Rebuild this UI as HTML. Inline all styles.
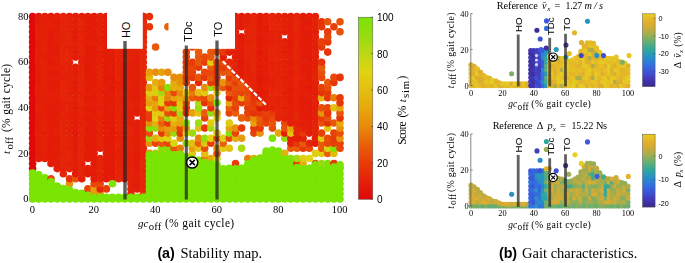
<!DOCTYPE html>
<html><head><meta charset="utf-8"><title>fig</title>
<style>
html,body{margin:0;padding:0;background:#fff;}
body{width:685px;height:263px;overflow:hidden;}
svg{display:block;}
text{font-family:"Liberation Serif",serif;fill:#000;}
.ss{font-family:"Liberation Sans",sans-serif;}
</style></head><body>
<svg width="685" height="263" viewBox="0 0 685 263">
<rect width="685" height="263" fill="#fff"/>
<g opacity="0.999">

<g id="left-dots">
<circle cx="32.6" cy="199.0" r="3.8" fill="#7ae402"/>
<circle cx="32.6" cy="193.9" r="3.8" fill="#7ae402"/>
<circle cx="32.6" cy="188.9" r="3.8" fill="#7ae402"/>
<circle cx="32.6" cy="183.8" r="3.8" fill="#7ae402"/>
<circle cx="32.6" cy="178.7" r="3.8" fill="#7ae402"/>
<circle cx="32.6" cy="173.7" r="3.8" fill="#7ae402"/>
<circle cx="32.6" cy="168.6" r="3.8" fill="#e00a08"/>
<circle cx="32.6" cy="163.5" r="3.8" fill="#e00a08"/>
<circle cx="32.6" cy="158.5" r="3.8" fill="#e00a08"/>
<circle cx="32.6" cy="153.4" r="3.8" fill="#e00a08"/>
<circle cx="32.6" cy="148.3" r="3.8" fill="#e00a08"/>
<circle cx="32.6" cy="143.3" r="3.8" fill="#e00a08"/>
<circle cx="32.6" cy="138.2" r="3.8" fill="#e00a08"/>
<circle cx="32.6" cy="133.1" r="3.8" fill="#e00a08"/>
<circle cx="32.6" cy="128.1" r="3.8" fill="#e00a08"/>
<circle cx="32.6" cy="123.0" r="3.8" fill="#e00a08"/>
<circle cx="32.6" cy="117.9" r="3.8" fill="#e00a08"/>
<circle cx="32.6" cy="112.9" r="3.8" fill="#e00a08"/>
<circle cx="32.6" cy="107.8" r="3.8" fill="#e00a08"/>
<circle cx="32.6" cy="102.7" r="3.8" fill="#e00a08"/>
<circle cx="32.6" cy="97.7" r="3.8" fill="#e00a08"/>
<circle cx="32.6" cy="92.6" r="3.8" fill="#e00a08"/>
<circle cx="32.6" cy="87.5" r="3.8" fill="#e00a08"/>
<circle cx="32.6" cy="82.5" r="3.8" fill="#e00a08"/>
<circle cx="32.6" cy="77.4" r="3.8" fill="#e00a08"/>
<circle cx="32.6" cy="72.3" r="3.8" fill="#e00a08"/>
<circle cx="32.6" cy="67.3" r="3.8" fill="#e00a08"/>
<circle cx="32.6" cy="62.2" r="3.8" fill="#e00a08"/>
<circle cx="32.6" cy="57.1" r="3.8" fill="#e00a08"/>
<circle cx="32.6" cy="52.1" r="3.8" fill="#e00a08"/>
<circle cx="32.6" cy="47.0" r="3.8" fill="#e00a08"/>
<circle cx="32.6" cy="41.9" r="3.8" fill="#e00a08"/>
<circle cx="32.6" cy="36.9" r="3.8" fill="#e00a08"/>
<circle cx="32.6" cy="31.8" r="3.8" fill="#e00a08"/>
<circle cx="32.6" cy="26.7" r="3.8" fill="#e00a08"/>
<circle cx="32.6" cy="21.7" r="3.8" fill="#e00a08"/>
<circle cx="32.6" cy="16.6" r="3.8" fill="#e00a08"/>
<circle cx="32.6" cy="173.0" r="3.8" fill="#7ae402"/>
<circle cx="32.6" cy="175.5" r="3.8" fill="#7ae402"/>
<circle cx="38.7" cy="199.0" r="3.8" fill="#7ae402"/>
<circle cx="38.7" cy="193.9" r="3.8" fill="#7ae402"/>
<circle cx="38.7" cy="188.9" r="3.8" fill="#7ae402"/>
<circle cx="38.7" cy="183.8" r="3.8" fill="#7ae402"/>
<circle cx="38.7" cy="178.7" r="3.8" fill="#7ae402"/>
<circle cx="38.7" cy="158.5" r="3.8" fill="#e41f08"/>
<circle cx="38.7" cy="153.4" r="3.8" fill="#e31c08"/>
<circle cx="38.7" cy="148.3" r="3.8" fill="#e31d08"/>
<circle cx="38.7" cy="143.3" r="3.8" fill="#e41f08"/>
<circle cx="38.7" cy="138.2" r="3.8" fill="#e31c08"/>
<circle cx="38.7" cy="133.1" r="3.8" fill="#e41e08"/>
<circle cx="38.7" cy="128.1" r="3.8" fill="#e31d08"/>
<circle cx="38.7" cy="123.0" r="3.8" fill="#e41e08"/>
<circle cx="38.7" cy="117.9" r="3.8" fill="#e41d08"/>
<circle cx="38.7" cy="112.9" r="3.8" fill="#e41e08"/>
<circle cx="38.7" cy="107.8" r="3.8" fill="#e42008"/>
<circle cx="38.7" cy="102.7" r="3.8" fill="#e41f08"/>
<circle cx="38.7" cy="97.7" r="3.8" fill="#e31d08"/>
<circle cx="38.7" cy="92.6" r="3.8" fill="#e41d08"/>
<circle cx="38.7" cy="87.5" r="3.8" fill="#e42008"/>
<circle cx="38.7" cy="82.5" r="3.8" fill="#e31d08"/>
<circle cx="38.7" cy="77.4" r="3.8" fill="#e31c08"/>
<circle cx="38.7" cy="72.3" r="3.8" fill="#e31c08"/>
<circle cx="38.7" cy="67.3" r="3.8" fill="#e41f08"/>
<circle cx="38.7" cy="62.2" r="3.8" fill="#e42008"/>
<circle cx="38.7" cy="57.1" r="3.8" fill="#e41e08"/>
<circle cx="38.7" cy="52.1" r="3.8" fill="#e41f08"/>
<circle cx="38.7" cy="47.0" r="3.8" fill="#e42008"/>
<circle cx="38.7" cy="41.9" r="3.8" fill="#e31d08"/>
<circle cx="38.7" cy="36.9" r="3.8" fill="#e42008"/>
<circle cx="38.7" cy="31.8" r="3.8" fill="#e41f08"/>
<circle cx="38.7" cy="26.7" r="3.8" fill="#e41f08"/>
<circle cx="38.7" cy="21.7" r="3.8" fill="#e31c08"/>
<circle cx="38.7" cy="16.6" r="3.8" fill="#e31c08"/>
<circle cx="38.7" cy="174.6" r="3.8" fill="#7ae402"/>
<circle cx="38.7" cy="177.1" r="3.8" fill="#7ae402"/>
<circle cx="44.9" cy="199.0" r="3.8" fill="#7ae402"/>
<circle cx="44.9" cy="193.9" r="3.8" fill="#7ae402"/>
<circle cx="44.9" cy="188.9" r="3.8" fill="#7ae402"/>
<circle cx="44.9" cy="183.8" r="3.8" fill="#7ae402"/>
<circle cx="44.9" cy="178.7" r="3.8" fill="#7ae402"/>
<circle cx="44.9" cy="158.5" r="3.8" fill="#e42008"/>
<circle cx="44.9" cy="153.4" r="3.8" fill="#e41e08"/>
<circle cx="44.9" cy="148.3" r="3.8" fill="#e42208"/>
<circle cx="44.9" cy="143.3" r="3.8" fill="#e42208"/>
<circle cx="44.9" cy="138.2" r="3.8" fill="#e42108"/>
<circle cx="44.9" cy="133.1" r="3.8" fill="#e41f08"/>
<circle cx="44.9" cy="128.1" r="3.8" fill="#e42208"/>
<circle cx="44.9" cy="123.0" r="3.8" fill="#e42208"/>
<circle cx="44.9" cy="117.9" r="3.8" fill="#e42008"/>
<circle cx="44.9" cy="112.9" r="3.8" fill="#e41e08"/>
<circle cx="44.9" cy="107.8" r="3.8" fill="#e41f08"/>
<circle cx="44.9" cy="102.7" r="3.8" fill="#e41e08"/>
<circle cx="44.9" cy="97.7" r="3.8" fill="#e41f08"/>
<circle cx="44.9" cy="92.6" r="3.8" fill="#e41f08"/>
<circle cx="44.9" cy="87.5" r="3.8" fill="#e42108"/>
<circle cx="44.9" cy="82.5" r="3.8" fill="#e42008"/>
<circle cx="44.9" cy="77.4" r="3.8" fill="#e42108"/>
<circle cx="44.9" cy="72.3" r="3.8" fill="#e42208"/>
<circle cx="44.9" cy="67.3" r="3.8" fill="#e42208"/>
<circle cx="44.9" cy="62.2" r="3.8" fill="#e42208"/>
<circle cx="44.9" cy="57.1" r="3.8" fill="#e41f08"/>
<circle cx="44.9" cy="52.1" r="3.8" fill="#e42208"/>
<circle cx="44.9" cy="47.0" r="3.8" fill="#e42308"/>
<circle cx="44.9" cy="41.9" r="3.8" fill="#e42208"/>
<circle cx="44.9" cy="36.9" r="3.8" fill="#e42208"/>
<circle cx="44.9" cy="31.8" r="3.8" fill="#e42008"/>
<circle cx="44.9" cy="26.7" r="3.8" fill="#e42108"/>
<circle cx="44.9" cy="21.7" r="3.8" fill="#e42108"/>
<circle cx="44.9" cy="16.6" r="3.8" fill="#e41e08"/>
<circle cx="44.9" cy="177.8" r="3.8" fill="#7ae402"/>
<circle cx="44.9" cy="180.3" r="3.8" fill="#7ae402"/>
<circle cx="51.0" cy="199.0" r="3.8" fill="#7ae402"/>
<circle cx="51.0" cy="193.9" r="3.8" fill="#7ae402"/>
<circle cx="51.0" cy="188.9" r="3.8" fill="#7ae402"/>
<circle cx="51.0" cy="183.8" r="3.8" fill="#7ae402"/>
<circle cx="51.0" cy="178.7" r="3.8" fill="#e84c09"/>
<circle cx="51.0" cy="163.5" r="3.8" fill="#e31b08"/>
<circle cx="51.0" cy="158.5" r="3.8" fill="#e41d08"/>
<circle cx="51.0" cy="153.4" r="3.8" fill="#e31c08"/>
<circle cx="51.0" cy="148.3" r="3.8" fill="#e31b08"/>
<circle cx="51.0" cy="143.3" r="3.8" fill="#e31c08"/>
<circle cx="51.0" cy="138.2" r="3.8" fill="#e41e08"/>
<circle cx="51.0" cy="133.1" r="3.8" fill="#e31b08"/>
<circle cx="51.0" cy="128.1" r="3.8" fill="#e41d08"/>
<circle cx="51.0" cy="123.0" r="3.8" fill="#e31d08"/>
<circle cx="51.0" cy="117.9" r="3.8" fill="#e31b08"/>
<circle cx="51.0" cy="112.9" r="3.8" fill="#e31c08"/>
<circle cx="51.0" cy="107.8" r="3.8" fill="#e31d08"/>
<circle cx="51.0" cy="102.7" r="3.8" fill="#e41d08"/>
<circle cx="51.0" cy="97.7" r="3.8" fill="#e41e08"/>
<circle cx="51.0" cy="92.6" r="3.8" fill="#e41e08"/>
<circle cx="51.0" cy="87.5" r="3.8" fill="#e31d08"/>
<circle cx="51.0" cy="82.5" r="3.8" fill="#e31c08"/>
<circle cx="51.0" cy="77.4" r="3.8" fill="#e41d08"/>
<circle cx="51.0" cy="72.3" r="3.8" fill="#e31b08"/>
<circle cx="51.0" cy="67.3" r="3.8" fill="#e41f08"/>
<circle cx="51.0" cy="62.2" r="3.8" fill="#e31b08"/>
<circle cx="51.0" cy="57.1" r="3.8" fill="#e31d08"/>
<circle cx="51.0" cy="52.1" r="3.8" fill="#e31b08"/>
<circle cx="51.0" cy="47.0" r="3.8" fill="#e31c08"/>
<circle cx="51.0" cy="41.9" r="3.8" fill="#e31c08"/>
<circle cx="51.0" cy="36.9" r="3.8" fill="#e31b08"/>
<circle cx="51.0" cy="31.8" r="3.8" fill="#e31b08"/>
<circle cx="51.0" cy="26.7" r="3.8" fill="#e41f08"/>
<circle cx="51.0" cy="21.7" r="3.8" fill="#e41f08"/>
<circle cx="51.0" cy="16.6" r="3.8" fill="#e31d08"/>
<circle cx="51.0" cy="181.9" r="3.8" fill="#7ae402"/>
<circle cx="51.0" cy="184.4" r="3.8" fill="#7ae402"/>
<circle cx="57.2" cy="199.0" r="3.8" fill="#7ae402"/>
<circle cx="57.2" cy="193.9" r="3.8" fill="#7ae402"/>
<circle cx="57.2" cy="188.9" r="3.8" fill="#7ae402"/>
<circle cx="57.2" cy="168.6" r="3.8" fill="#e42008"/>
<circle cx="57.2" cy="163.5" r="3.8" fill="#e31c08"/>
<circle cx="57.2" cy="158.5" r="3.8" fill="#e41d08"/>
<circle cx="57.2" cy="153.4" r="3.8" fill="#e31c08"/>
<circle cx="57.2" cy="148.3" r="3.8" fill="#e31d08"/>
<circle cx="57.2" cy="143.3" r="3.8" fill="#e41f08"/>
<circle cx="57.2" cy="138.2" r="3.8" fill="#e31c08"/>
<circle cx="57.2" cy="133.1" r="3.8" fill="#e41f08"/>
<circle cx="57.2" cy="128.1" r="3.8" fill="#e41e08"/>
<circle cx="57.2" cy="123.0" r="3.8" fill="#e31c08"/>
<circle cx="57.2" cy="117.9" r="3.8" fill="#e41f08"/>
<circle cx="57.2" cy="112.9" r="3.8" fill="#e31c08"/>
<circle cx="57.2" cy="107.8" r="3.8" fill="#e41d08"/>
<circle cx="57.2" cy="102.7" r="3.8" fill="#e31c08"/>
<circle cx="57.2" cy="97.7" r="3.8" fill="#e31d08"/>
<circle cx="57.2" cy="92.6" r="3.8" fill="#e41f08"/>
<circle cx="57.2" cy="87.5" r="3.8" fill="#e41d08"/>
<circle cx="57.2" cy="82.5" r="3.8" fill="#e31b08"/>
<circle cx="57.2" cy="77.4" r="3.8" fill="#e41e08"/>
<circle cx="57.2" cy="72.3" r="3.8" fill="#e31c08"/>
<circle cx="57.2" cy="67.3" r="3.8" fill="#e41f08"/>
<circle cx="57.2" cy="62.2" r="3.8" fill="#e31d08"/>
<circle cx="57.2" cy="57.1" r="3.8" fill="#e41e08"/>
<circle cx="57.2" cy="52.1" r="3.8" fill="#e31c08"/>
<circle cx="57.2" cy="47.0" r="3.8" fill="#e31c08"/>
<circle cx="57.2" cy="41.9" r="3.8" fill="#e41f08"/>
<circle cx="57.2" cy="36.9" r="3.8" fill="#e41f08"/>
<circle cx="57.2" cy="31.8" r="3.8" fill="#e31d08"/>
<circle cx="57.2" cy="26.7" r="3.8" fill="#e31d08"/>
<circle cx="57.2" cy="21.7" r="3.8" fill="#e31c08"/>
<circle cx="57.2" cy="16.6" r="3.8" fill="#e41e08"/>
<circle cx="57.2" cy="186.0" r="3.8" fill="#7ae402"/>
<circle cx="57.2" cy="188.5" r="3.8" fill="#7ae402"/>
<circle cx="63.3" cy="199.0" r="3.8" fill="#7ae402"/>
<circle cx="63.3" cy="193.9" r="3.8" fill="#7ae402"/>
<circle cx="63.3" cy="188.9" r="3.8" fill="#7ae402"/>
<circle cx="63.3" cy="173.7" r="3.8" fill="#e52608"/>
<circle cx="63.3" cy="168.6" r="3.8" fill="#e42208"/>
<circle cx="63.3" cy="163.5" r="3.8" fill="#e52508"/>
<circle cx="63.3" cy="158.5" r="3.8" fill="#e52508"/>
<circle cx="63.3" cy="153.4" r="3.8" fill="#e42208"/>
<circle cx="63.3" cy="148.3" r="3.8" fill="#e52408"/>
<circle cx="63.3" cy="143.3" r="3.8" fill="#e52408"/>
<circle cx="63.3" cy="138.2" r="3.8" fill="#e52508"/>
<circle cx="63.3" cy="133.1" r="3.8" fill="#e42308"/>
<circle cx="63.3" cy="128.1" r="3.8" fill="#e52408"/>
<circle cx="63.3" cy="123.0" r="3.8" fill="#e42308"/>
<circle cx="63.3" cy="117.9" r="3.8" fill="#e42108"/>
<circle cx="63.3" cy="112.9" r="3.8" fill="#e52508"/>
<circle cx="63.3" cy="107.8" r="3.8" fill="#e42108"/>
<circle cx="63.3" cy="102.7" r="3.8" fill="#e42108"/>
<circle cx="63.3" cy="97.7" r="3.8" fill="#e42308"/>
<circle cx="63.3" cy="92.6" r="3.8" fill="#e52408"/>
<circle cx="63.3" cy="87.5" r="3.8" fill="#e52408"/>
<circle cx="63.3" cy="82.5" r="3.8" fill="#e52408"/>
<circle cx="63.3" cy="77.4" r="3.8" fill="#e42108"/>
<circle cx="63.3" cy="72.3" r="3.8" fill="#e42208"/>
<circle cx="63.3" cy="67.3" r="3.8" fill="#e42108"/>
<circle cx="63.3" cy="62.2" r="3.8" fill="#e42308"/>
<circle cx="63.3" cy="57.1" r="3.8" fill="#e52408"/>
<circle cx="63.3" cy="52.1" r="3.8" fill="#e42308"/>
<circle cx="63.3" cy="47.0" r="3.8" fill="#e52408"/>
<circle cx="63.3" cy="41.9" r="3.8" fill="#e42308"/>
<circle cx="63.3" cy="36.9" r="3.8" fill="#e42108"/>
<circle cx="63.3" cy="31.8" r="3.8" fill="#e42208"/>
<circle cx="63.3" cy="26.7" r="3.8" fill="#e52508"/>
<circle cx="63.3" cy="21.7" r="3.8" fill="#e42308"/>
<circle cx="63.3" cy="16.6" r="3.8" fill="#e52408"/>
<circle cx="63.3" cy="188.5" r="3.8" fill="#7ae402"/>
<circle cx="63.3" cy="191.0" r="3.8" fill="#7ae402"/>
<circle cx="69.5" cy="199.0" r="3.8" fill="#7ae402"/>
<circle cx="69.5" cy="193.9" r="3.8" fill="#7ae402"/>
<circle cx="69.5" cy="183.8" r="3.8" fill="#e7950b"/>
<circle cx="69.5" cy="178.7" r="3.8" fill="#e73408"/>
<circle cx="69.5" cy="168.6" r="3.8" fill="#e52408"/>
<circle cx="69.5" cy="163.5" r="3.8" fill="#e42008"/>
<circle cx="69.5" cy="158.5" r="3.8" fill="#e52408"/>
<circle cx="69.5" cy="153.4" r="3.8" fill="#e52408"/>
<circle cx="69.5" cy="148.3" r="3.8" fill="#e42108"/>
<circle cx="69.5" cy="143.3" r="3.8" fill="#e42308"/>
<circle cx="69.5" cy="138.2" r="3.8" fill="#e42108"/>
<circle cx="69.5" cy="133.1" r="3.8" fill="#e42308"/>
<circle cx="69.5" cy="128.1" r="3.8" fill="#e42108"/>
<circle cx="69.5" cy="123.0" r="3.8" fill="#e42308"/>
<circle cx="69.5" cy="117.9" r="3.8" fill="#e42108"/>
<circle cx="69.5" cy="112.9" r="3.8" fill="#e42108"/>
<circle cx="69.5" cy="107.8" r="3.8" fill="#e42208"/>
<circle cx="69.5" cy="102.7" r="3.8" fill="#e42008"/>
<circle cx="69.5" cy="97.7" r="3.8" fill="#e42308"/>
<circle cx="69.5" cy="92.6" r="3.8" fill="#e42108"/>
<circle cx="69.5" cy="87.5" r="3.8" fill="#e42108"/>
<circle cx="69.5" cy="82.5" r="3.8" fill="#e42208"/>
<circle cx="69.5" cy="77.4" r="3.8" fill="#e42108"/>
<circle cx="69.5" cy="72.3" r="3.8" fill="#e42208"/>
<circle cx="69.5" cy="67.3" r="3.8" fill="#e42108"/>
<circle cx="69.5" cy="62.2" r="3.8" fill="#e42208"/>
<circle cx="69.5" cy="57.1" r="3.8" fill="#e52408"/>
<circle cx="69.5" cy="52.1" r="3.8" fill="#e52408"/>
<circle cx="69.5" cy="47.0" r="3.8" fill="#e42008"/>
<circle cx="69.5" cy="41.9" r="3.8" fill="#e52408"/>
<circle cx="69.5" cy="36.9" r="3.8" fill="#e52408"/>
<circle cx="69.5" cy="31.8" r="3.8" fill="#e42308"/>
<circle cx="69.5" cy="26.7" r="3.8" fill="#e42308"/>
<circle cx="69.5" cy="21.7" r="3.8" fill="#e42208"/>
<circle cx="69.5" cy="16.6" r="3.8" fill="#e41f08"/>
<circle cx="69.5" cy="189.9" r="3.8" fill="#7ae402"/>
<circle cx="69.5" cy="192.4" r="3.8" fill="#7ae402"/>
<circle cx="75.6" cy="199.0" r="3.8" fill="#7ae402"/>
<circle cx="75.6" cy="193.9" r="3.8" fill="#7ae402"/>
<circle cx="75.6" cy="178.7" r="3.8" fill="#e84f09"/>
<circle cx="75.6" cy="173.7" r="3.8" fill="#e41d08"/>
<circle cx="75.6" cy="168.6" r="3.8" fill="#e31d08"/>
<circle cx="75.6" cy="163.5" r="3.8" fill="#e41d08"/>
<circle cx="75.6" cy="158.5" r="3.8" fill="#e41d08"/>
<circle cx="75.6" cy="153.4" r="3.8" fill="#e41d08"/>
<circle cx="75.6" cy="148.3" r="3.8" fill="#e31b08"/>
<circle cx="75.6" cy="143.3" r="3.8" fill="#e31b08"/>
<circle cx="75.6" cy="138.2" r="3.8" fill="#e31b08"/>
<circle cx="75.6" cy="133.1" r="3.8" fill="#e31a08"/>
<circle cx="75.6" cy="128.1" r="3.8" fill="#e31b08"/>
<circle cx="75.6" cy="123.0" r="3.8" fill="#e31b08"/>
<circle cx="75.6" cy="117.9" r="3.8" fill="#e31b08"/>
<circle cx="75.6" cy="112.9" r="3.8" fill="#e31d08"/>
<circle cx="75.6" cy="107.8" r="3.8" fill="#e31c08"/>
<circle cx="75.6" cy="102.7" r="3.8" fill="#e31b08"/>
<circle cx="75.6" cy="97.7" r="3.8" fill="#e41f08"/>
<circle cx="75.6" cy="92.6" r="3.8" fill="#e41e08"/>
<circle cx="75.6" cy="87.5" r="3.8" fill="#e31b08"/>
<circle cx="75.6" cy="82.5" r="3.8" fill="#e31a08"/>
<circle cx="75.6" cy="77.4" r="3.8" fill="#e41f08"/>
<circle cx="75.6" cy="72.3" r="3.8" fill="#e31b08"/>
<circle cx="75.6" cy="67.3" r="3.8" fill="#e41f08"/>
<circle cx="75.6" cy="57.1" r="3.8" fill="#e31d08"/>
<circle cx="75.6" cy="52.1" r="3.8" fill="#e31c08"/>
<circle cx="75.6" cy="47.0" r="3.8" fill="#e41d08"/>
<circle cx="75.6" cy="41.9" r="3.8" fill="#e41e08"/>
<circle cx="75.6" cy="36.9" r="3.8" fill="#e31a08"/>
<circle cx="75.6" cy="31.8" r="3.8" fill="#e31c08"/>
<circle cx="75.6" cy="26.7" r="3.8" fill="#e41e08"/>
<circle cx="75.6" cy="21.7" r="3.8" fill="#e31d08"/>
<circle cx="75.6" cy="16.6" r="3.8" fill="#e41d08"/>
<circle cx="75.6" cy="192.6" r="3.8" fill="#7ae402"/>
<circle cx="75.6" cy="195.1" r="3.8" fill="#7ae402"/>
<circle cx="81.8" cy="199.0" r="3.8" fill="#7ae402"/>
<circle cx="81.8" cy="193.9" r="3.8" fill="#7ae402"/>
<circle cx="81.8" cy="178.7" r="3.8" fill="#e41e08"/>
<circle cx="81.8" cy="173.7" r="3.8" fill="#e52508"/>
<circle cx="81.8" cy="168.6" r="3.8" fill="#e52508"/>
<circle cx="81.8" cy="163.5" r="3.8" fill="#e42208"/>
<circle cx="81.8" cy="158.5" r="3.8" fill="#e52608"/>
<circle cx="81.8" cy="153.4" r="3.8" fill="#e52508"/>
<circle cx="81.8" cy="148.3" r="3.8" fill="#e52508"/>
<circle cx="81.8" cy="143.3" r="3.8" fill="#e52608"/>
<circle cx="81.8" cy="138.2" r="3.8" fill="#e52508"/>
<circle cx="81.8" cy="133.1" r="3.8" fill="#e42208"/>
<circle cx="81.8" cy="128.1" r="3.8" fill="#e52508"/>
<circle cx="81.8" cy="123.0" r="3.8" fill="#e42108"/>
<circle cx="81.8" cy="117.9" r="3.8" fill="#e42208"/>
<circle cx="81.8" cy="112.9" r="3.8" fill="#e42308"/>
<circle cx="81.8" cy="107.8" r="3.8" fill="#e42208"/>
<circle cx="81.8" cy="102.7" r="3.8" fill="#e52608"/>
<circle cx="81.8" cy="97.7" r="3.8" fill="#e52508"/>
<circle cx="81.8" cy="92.6" r="3.8" fill="#e42108"/>
<circle cx="81.8" cy="87.5" r="3.8" fill="#e52608"/>
<circle cx="81.8" cy="82.5" r="3.8" fill="#e42208"/>
<circle cx="81.8" cy="77.4" r="3.8" fill="#e52508"/>
<circle cx="81.8" cy="72.3" r="3.8" fill="#e52408"/>
<circle cx="81.8" cy="67.3" r="3.8" fill="#e52408"/>
<circle cx="81.8" cy="62.2" r="3.8" fill="#e42208"/>
<circle cx="81.8" cy="57.1" r="3.8" fill="#e42108"/>
<circle cx="81.8" cy="52.1" r="3.8" fill="#e52508"/>
<circle cx="81.8" cy="47.0" r="3.8" fill="#e52508"/>
<circle cx="81.8" cy="41.9" r="3.8" fill="#e42208"/>
<circle cx="81.8" cy="36.9" r="3.8" fill="#e52408"/>
<circle cx="81.8" cy="31.8" r="3.8" fill="#e42108"/>
<circle cx="81.8" cy="26.7" r="3.8" fill="#e52408"/>
<circle cx="81.8" cy="21.7" r="3.8" fill="#e52608"/>
<circle cx="81.8" cy="16.6" r="3.8" fill="#e42108"/>
<circle cx="81.8" cy="193.3" r="3.8" fill="#7ae402"/>
<circle cx="81.8" cy="195.8" r="3.8" fill="#7ae402"/>
<circle cx="87.9" cy="199.0" r="3.8" fill="#7ae402"/>
<circle cx="87.9" cy="188.9" r="3.8" fill="#e84509"/>
<circle cx="87.9" cy="173.7" r="3.8" fill="#e31b08"/>
<circle cx="87.9" cy="168.6" r="3.8" fill="#e41e08"/>
<circle cx="87.9" cy="158.5" r="3.8" fill="#e41e08"/>
<circle cx="87.9" cy="153.4" r="3.8" fill="#e31b08"/>
<circle cx="87.9" cy="148.3" r="3.8" fill="#e31d08"/>
<circle cx="87.9" cy="143.3" r="3.8" fill="#e31a08"/>
<circle cx="87.9" cy="138.2" r="3.8" fill="#e31c08"/>
<circle cx="87.9" cy="133.1" r="3.8" fill="#e31b08"/>
<circle cx="87.9" cy="128.1" r="3.8" fill="#e31a08"/>
<circle cx="87.9" cy="123.0" r="3.8" fill="#e41e08"/>
<circle cx="87.9" cy="117.9" r="3.8" fill="#e31a08"/>
<circle cx="87.9" cy="112.9" r="3.8" fill="#e41e08"/>
<circle cx="87.9" cy="107.8" r="3.8" fill="#e31b08"/>
<circle cx="87.9" cy="102.7" r="3.8" fill="#e41e08"/>
<circle cx="87.9" cy="97.7" r="3.8" fill="#e31a08"/>
<circle cx="87.9" cy="92.6" r="3.8" fill="#e41e08"/>
<circle cx="87.9" cy="87.5" r="3.8" fill="#e31c08"/>
<circle cx="87.9" cy="82.5" r="3.8" fill="#e31b08"/>
<circle cx="87.9" cy="77.4" r="3.8" fill="#e31c08"/>
<circle cx="87.9" cy="72.3" r="3.8" fill="#e31a08"/>
<circle cx="87.9" cy="67.3" r="3.8" fill="#e31a08"/>
<circle cx="87.9" cy="62.2" r="3.8" fill="#e31a08"/>
<circle cx="87.9" cy="57.1" r="3.8" fill="#e31b08"/>
<circle cx="87.9" cy="52.1" r="3.8" fill="#e41d08"/>
<circle cx="87.9" cy="47.0" r="3.8" fill="#e31c08"/>
<circle cx="87.9" cy="41.9" r="3.8" fill="#e41e08"/>
<circle cx="87.9" cy="36.9" r="3.8" fill="#e31b08"/>
<circle cx="87.9" cy="31.8" r="3.8" fill="#e41d08"/>
<circle cx="87.9" cy="26.7" r="3.8" fill="#e31c08"/>
<circle cx="87.9" cy="21.7" r="3.8" fill="#e41e08"/>
<circle cx="87.9" cy="16.6" r="3.8" fill="#e41d08"/>
<circle cx="87.9" cy="195.4" r="3.8" fill="#7ae402"/>
<circle cx="87.9" cy="197.9" r="3.8" fill="#7ae402"/>
<circle cx="94.1" cy="199.0" r="3.8" fill="#7ae402"/>
<circle cx="94.1" cy="193.9" r="3.8" fill="#e7950b"/>
<circle cx="94.1" cy="188.9" r="3.8" fill="#e79f0b"/>
<circle cx="94.1" cy="183.8" r="3.8" fill="#e84809"/>
<circle cx="94.1" cy="178.7" r="3.8" fill="#e31d08"/>
<circle cx="94.1" cy="173.7" r="3.8" fill="#e31c08"/>
<circle cx="94.1" cy="168.6" r="3.8" fill="#e41d08"/>
<circle cx="94.1" cy="163.5" r="3.8" fill="#e31c08"/>
<circle cx="94.1" cy="158.5" r="3.8" fill="#e31c08"/>
<circle cx="94.1" cy="153.4" r="3.8" fill="#e31c08"/>
<circle cx="94.1" cy="148.3" r="3.8" fill="#e31c08"/>
<circle cx="94.1" cy="143.3" r="3.8" fill="#e31c08"/>
<circle cx="94.1" cy="138.2" r="3.8" fill="#e41d08"/>
<circle cx="94.1" cy="133.1" r="3.8" fill="#e31b08"/>
<circle cx="94.1" cy="128.1" r="3.8" fill="#e31c08"/>
<circle cx="94.1" cy="123.0" r="3.8" fill="#e31b08"/>
<circle cx="94.1" cy="117.9" r="3.8" fill="#e41e08"/>
<circle cx="94.1" cy="112.9" r="3.8" fill="#e31d08"/>
<circle cx="94.1" cy="107.8" r="3.8" fill="#e31c08"/>
<circle cx="94.1" cy="102.7" r="3.8" fill="#e41f08"/>
<circle cx="94.1" cy="97.7" r="3.8" fill="#e31b08"/>
<circle cx="94.1" cy="92.6" r="3.8" fill="#e41d08"/>
<circle cx="94.1" cy="87.5" r="3.8" fill="#e41f08"/>
<circle cx="94.1" cy="82.5" r="3.8" fill="#e41d08"/>
<circle cx="94.1" cy="77.4" r="3.8" fill="#e31c08"/>
<circle cx="94.1" cy="72.3" r="3.8" fill="#e31c08"/>
<circle cx="94.1" cy="67.3" r="3.8" fill="#e31d08"/>
<circle cx="94.1" cy="62.2" r="3.8" fill="#e31b08"/>
<circle cx="94.1" cy="57.1" r="3.8" fill="#e31c08"/>
<circle cx="94.1" cy="52.1" r="3.8" fill="#e31d08"/>
<circle cx="94.1" cy="47.0" r="3.8" fill="#e31c08"/>
<circle cx="94.1" cy="41.9" r="3.8" fill="#e41f08"/>
<circle cx="94.1" cy="36.9" r="3.8" fill="#e31c08"/>
<circle cx="94.1" cy="31.8" r="3.8" fill="#e31c08"/>
<circle cx="94.1" cy="26.7" r="3.8" fill="#e41e08"/>
<circle cx="94.1" cy="21.7" r="3.8" fill="#e31c08"/>
<circle cx="94.1" cy="16.6" r="3.8" fill="#e41d08"/>
<circle cx="94.1" cy="197.4" r="3.8" fill="#7ae402"/>
<circle cx="100.2" cy="199.0" r="3.8" fill="#7ae402"/>
<circle cx="100.2" cy="193.9" r="3.8" fill="#e7950b"/>
<circle cx="100.2" cy="188.9" r="3.8" fill="#e52608"/>
<circle cx="100.2" cy="183.8" r="3.8" fill="#e84a09"/>
<circle cx="100.2" cy="178.7" r="3.8" fill="#e42308"/>
<circle cx="100.2" cy="173.7" r="3.8" fill="#e42308"/>
<circle cx="100.2" cy="168.6" r="3.8" fill="#e52508"/>
<circle cx="100.2" cy="163.5" r="3.8" fill="#e52408"/>
<circle cx="100.2" cy="158.5" r="3.8" fill="#e42208"/>
<circle cx="100.2" cy="148.3" r="3.8" fill="#e42008"/>
<circle cx="100.2" cy="143.3" r="3.8" fill="#e52508"/>
<circle cx="100.2" cy="138.2" r="3.8" fill="#e42308"/>
<circle cx="100.2" cy="133.1" r="3.8" fill="#e42108"/>
<circle cx="100.2" cy="128.1" r="3.8" fill="#e52508"/>
<circle cx="100.2" cy="123.0" r="3.8" fill="#e52508"/>
<circle cx="100.2" cy="117.9" r="3.8" fill="#e42108"/>
<circle cx="100.2" cy="112.9" r="3.8" fill="#e52408"/>
<circle cx="100.2" cy="107.8" r="3.8" fill="#e42108"/>
<circle cx="100.2" cy="102.7" r="3.8" fill="#e42108"/>
<circle cx="100.2" cy="97.7" r="3.8" fill="#e42208"/>
<circle cx="100.2" cy="92.6" r="3.8" fill="#e42008"/>
<circle cx="100.2" cy="87.5" r="3.8" fill="#e42108"/>
<circle cx="100.2" cy="82.5" r="3.8" fill="#e42008"/>
<circle cx="100.2" cy="77.4" r="3.8" fill="#e52408"/>
<circle cx="100.2" cy="72.3" r="3.8" fill="#e42308"/>
<circle cx="100.2" cy="67.3" r="3.8" fill="#e52508"/>
<circle cx="100.2" cy="62.2" r="3.8" fill="#e42208"/>
<circle cx="100.2" cy="57.1" r="3.8" fill="#e42008"/>
<circle cx="100.2" cy="52.1" r="3.8" fill="#e42108"/>
<circle cx="100.2" cy="47.0" r="3.8" fill="#e52508"/>
<circle cx="100.2" cy="41.9" r="3.8" fill="#e42108"/>
<circle cx="100.2" cy="36.9" r="3.8" fill="#e42108"/>
<circle cx="100.2" cy="31.8" r="3.8" fill="#e52408"/>
<circle cx="100.2" cy="26.7" r="3.8" fill="#e42108"/>
<circle cx="100.2" cy="21.7" r="3.8" fill="#e42108"/>
<circle cx="100.2" cy="16.6" r="3.8" fill="#e42008"/>
<circle cx="100.2" cy="197.4" r="3.8" fill="#7ae402"/>
<circle cx="106.4" cy="199.0" r="3.8" fill="#7ae402"/>
<circle cx="106.4" cy="188.9" r="3.8" fill="#e83d08"/>
<circle cx="106.4" cy="178.7" r="3.8" fill="#e31b08"/>
<circle cx="106.4" cy="173.7" r="3.8" fill="#e31a08"/>
<circle cx="106.4" cy="168.6" r="3.8" fill="#e31908"/>
<circle cx="106.4" cy="163.5" r="3.8" fill="#e31b08"/>
<circle cx="106.4" cy="158.5" r="3.8" fill="#e31d08"/>
<circle cx="106.4" cy="153.4" r="3.8" fill="#e31c08"/>
<circle cx="106.4" cy="148.3" r="3.8" fill="#e31d08"/>
<circle cx="106.4" cy="143.3" r="3.8" fill="#e31b08"/>
<circle cx="106.4" cy="138.2" r="3.8" fill="#e31b08"/>
<circle cx="106.4" cy="133.1" r="3.8" fill="#e31d08"/>
<circle cx="106.4" cy="128.1" r="3.8" fill="#e41d08"/>
<circle cx="106.4" cy="123.0" r="3.8" fill="#e31a08"/>
<circle cx="106.4" cy="117.9" r="3.8" fill="#e31d08"/>
<circle cx="106.4" cy="112.9" r="3.8" fill="#e31c08"/>
<circle cx="106.4" cy="107.8" r="3.8" fill="#e31a08"/>
<circle cx="106.4" cy="102.7" r="3.8" fill="#e31d08"/>
<circle cx="106.4" cy="97.7" r="3.8" fill="#e41d08"/>
<circle cx="106.4" cy="92.6" r="3.8" fill="#e31b08"/>
<circle cx="106.4" cy="87.5" r="3.8" fill="#e31d08"/>
<circle cx="106.4" cy="82.5" r="3.8" fill="#e31b08"/>
<circle cx="106.4" cy="77.4" r="3.8" fill="#e31a08"/>
<circle cx="106.4" cy="72.3" r="3.8" fill="#e31c08"/>
<circle cx="106.4" cy="67.3" r="3.8" fill="#e31a08"/>
<circle cx="106.4" cy="62.2" r="3.8" fill="#e31c08"/>
<circle cx="106.4" cy="57.1" r="3.8" fill="#e31c08"/>
<circle cx="106.4" cy="52.1" r="3.8" fill="#e31c08"/>
<circle cx="106.4" cy="47.0" r="3.8" fill="#e31b08"/>
<circle cx="106.4" cy="41.9" r="3.8" fill="#e31d08"/>
<circle cx="106.4" cy="36.9" r="3.8" fill="#e31a08"/>
<circle cx="106.4" cy="31.8" r="3.8" fill="#e31a08"/>
<circle cx="106.4" cy="26.7" r="3.8" fill="#e41d08"/>
<circle cx="106.4" cy="21.7" r="3.8" fill="#e31c08"/>
<circle cx="106.4" cy="16.6" r="3.8" fill="#e31d08"/>
<circle cx="106.4" cy="197.4" r="3.8" fill="#7ae402"/>
<circle cx="112.5" cy="199.0" r="3.8" fill="#7ae402"/>
<circle cx="112.5" cy="178.7" r="3.8" fill="#e41d08"/>
<circle cx="112.5" cy="173.7" r="3.8" fill="#e31908"/>
<circle cx="112.5" cy="168.6" r="3.8" fill="#e31908"/>
<circle cx="112.5" cy="163.5" r="3.8" fill="#e31d08"/>
<circle cx="112.5" cy="158.5" r="3.8" fill="#e31b08"/>
<circle cx="112.5" cy="153.4" r="3.8" fill="#e31b08"/>
<circle cx="112.5" cy="148.3" r="3.8" fill="#e31a08"/>
<circle cx="112.5" cy="143.3" r="3.8" fill="#e31a08"/>
<circle cx="112.5" cy="138.2" r="3.8" fill="#e31a08"/>
<circle cx="112.5" cy="133.1" r="3.8" fill="#e31908"/>
<circle cx="112.5" cy="128.1" r="3.8" fill="#e31908"/>
<circle cx="112.5" cy="123.0" r="3.8" fill="#e31c08"/>
<circle cx="112.5" cy="117.9" r="3.8" fill="#e31c08"/>
<circle cx="112.5" cy="112.9" r="3.8" fill="#e31b08"/>
<circle cx="112.5" cy="107.8" r="3.8" fill="#e41d08"/>
<circle cx="112.5" cy="102.7" r="3.8" fill="#e31d08"/>
<circle cx="112.5" cy="97.7" r="3.8" fill="#e31c08"/>
<circle cx="112.5" cy="92.6" r="3.8" fill="#e31b08"/>
<circle cx="112.5" cy="87.5" r="3.8" fill="#e31908"/>
<circle cx="112.5" cy="82.5" r="3.8" fill="#e41d08"/>
<circle cx="112.5" cy="77.4" r="3.8" fill="#e31908"/>
<circle cx="112.5" cy="72.3" r="3.8" fill="#e31b08"/>
<circle cx="112.5" cy="67.3" r="3.8" fill="#e31c08"/>
<circle cx="112.5" cy="62.2" r="3.8" fill="#e31c08"/>
<circle cx="112.5" cy="57.1" r="3.8" fill="#e31b08"/>
<circle cx="112.5" cy="52.1" r="3.8" fill="#e31c08"/>
<circle cx="112.5" cy="47.0" r="3.8" fill="#e31d08"/>
<circle cx="112.5" cy="41.9" r="3.8" fill="#e41d08"/>
<circle cx="112.5" cy="36.9" r="3.8" fill="#e31a08"/>
<circle cx="112.5" cy="31.8" r="3.8" fill="#e31c08"/>
<circle cx="112.5" cy="26.7" r="3.8" fill="#e31d08"/>
<circle cx="112.5" cy="21.7" r="3.8" fill="#e31b08"/>
<circle cx="112.5" cy="16.6" r="3.8" fill="#e31c08"/>
<circle cx="112.5" cy="197.4" r="3.8" fill="#7ae402"/>
<circle cx="118.7" cy="199.0" r="3.8" fill="#7ae402"/>
<circle cx="118.7" cy="178.7" r="3.8" fill="#e52608"/>
<circle cx="118.7" cy="173.7" r="3.8" fill="#e52508"/>
<circle cx="118.7" cy="168.6" r="3.8" fill="#e42208"/>
<circle cx="118.7" cy="163.5" r="3.8" fill="#e52508"/>
<circle cx="118.7" cy="158.5" r="3.8" fill="#e42208"/>
<circle cx="118.7" cy="153.4" r="3.8" fill="#e42008"/>
<circle cx="118.7" cy="148.3" r="3.8" fill="#e42108"/>
<circle cx="118.7" cy="143.3" r="3.8" fill="#e52408"/>
<circle cx="118.7" cy="138.2" r="3.8" fill="#e42008"/>
<circle cx="118.7" cy="133.1" r="3.8" fill="#e42108"/>
<circle cx="118.7" cy="128.1" r="3.8" fill="#e52508"/>
<circle cx="118.7" cy="123.0" r="3.8" fill="#e52408"/>
<circle cx="118.7" cy="117.9" r="3.8" fill="#e52508"/>
<circle cx="118.7" cy="112.9" r="3.8" fill="#e52508"/>
<circle cx="118.7" cy="107.8" r="3.8" fill="#e42308"/>
<circle cx="118.7" cy="102.7" r="3.8" fill="#e42308"/>
<circle cx="118.7" cy="97.7" r="3.8" fill="#e42208"/>
<circle cx="118.7" cy="92.6" r="3.8" fill="#e42308"/>
<circle cx="118.7" cy="87.5" r="3.8" fill="#e42108"/>
<circle cx="118.7" cy="82.5" r="3.8" fill="#e42108"/>
<circle cx="118.7" cy="77.4" r="3.8" fill="#e52408"/>
<circle cx="118.7" cy="72.3" r="3.8" fill="#e42308"/>
<circle cx="118.7" cy="67.3" r="3.8" fill="#e52408"/>
<circle cx="118.7" cy="62.2" r="3.8" fill="#e42308"/>
<circle cx="118.7" cy="57.1" r="3.8" fill="#e42108"/>
<circle cx="118.7" cy="52.1" r="3.8" fill="#e42308"/>
<circle cx="118.7" cy="47.0" r="3.8" fill="#e52508"/>
<circle cx="118.7" cy="41.9" r="3.8" fill="#e42008"/>
<circle cx="118.7" cy="36.9" r="3.8" fill="#e52408"/>
<circle cx="118.7" cy="31.8" r="3.8" fill="#e42308"/>
<circle cx="118.7" cy="26.7" r="3.8" fill="#e42108"/>
<circle cx="118.7" cy="21.7" r="3.8" fill="#e52408"/>
<circle cx="118.7" cy="16.6" r="3.8" fill="#e42108"/>
<circle cx="118.7" cy="197.4" r="3.8" fill="#7ae402"/>
<circle cx="124.8" cy="199.0" r="3.8" fill="#7ae402"/>
<circle cx="124.8" cy="178.7" r="3.8" fill="#e41d08"/>
<circle cx="124.8" cy="173.7" r="3.8" fill="#e31b08"/>
<circle cx="124.8" cy="168.6" r="3.8" fill="#e41e08"/>
<circle cx="124.8" cy="163.5" r="3.8" fill="#e31c08"/>
<circle cx="124.8" cy="158.5" r="3.8" fill="#e41d08"/>
<circle cx="124.8" cy="153.4" r="3.8" fill="#e31c08"/>
<circle cx="124.8" cy="148.3" r="3.8" fill="#e31c08"/>
<circle cx="124.8" cy="143.3" r="3.8" fill="#e41f08"/>
<circle cx="124.8" cy="138.2" r="3.8" fill="#e31b08"/>
<circle cx="124.8" cy="133.1" r="3.8" fill="#e31b08"/>
<circle cx="124.8" cy="128.1" r="3.8" fill="#e41d08"/>
<circle cx="124.8" cy="123.0" r="3.8" fill="#e31a08"/>
<circle cx="124.8" cy="117.9" r="3.8" fill="#e31c08"/>
<circle cx="124.8" cy="112.9" r="3.8" fill="#e31d08"/>
<circle cx="124.8" cy="107.8" r="3.8" fill="#e41e08"/>
<circle cx="124.8" cy="102.7" r="3.8" fill="#e31b08"/>
<circle cx="124.8" cy="97.7" r="3.8" fill="#e41e08"/>
<circle cx="124.8" cy="92.6" r="3.8" fill="#e41d08"/>
<circle cx="124.8" cy="87.5" r="3.8" fill="#e41d08"/>
<circle cx="124.8" cy="82.5" r="3.8" fill="#e31a08"/>
<circle cx="124.8" cy="77.4" r="3.8" fill="#e31c08"/>
<circle cx="124.8" cy="72.3" r="3.8" fill="#e31c08"/>
<circle cx="124.8" cy="67.3" r="3.8" fill="#e31c08"/>
<circle cx="124.8" cy="62.2" r="3.8" fill="#e31d08"/>
<circle cx="124.8" cy="57.1" r="3.8" fill="#e41e08"/>
<circle cx="124.8" cy="52.1" r="3.8" fill="#e41e08"/>
<circle cx="124.8" cy="47.0" r="3.8" fill="#e31a08"/>
<circle cx="124.8" cy="41.9" r="3.8" fill="#e41e08"/>
<circle cx="124.8" cy="36.9" r="3.8" fill="#e41f08"/>
<circle cx="124.8" cy="31.8" r="3.8" fill="#e31b08"/>
<circle cx="124.8" cy="26.7" r="3.8" fill="#e31d08"/>
<circle cx="124.8" cy="21.7" r="3.8" fill="#e31b08"/>
<circle cx="124.8" cy="16.6" r="3.8" fill="#e31c08"/>
<circle cx="124.8" cy="197.4" r="3.8" fill="#7ae402"/>
<circle cx="131.0" cy="199.0" r="3.8" fill="#7ae402"/>
<circle cx="131.0" cy="193.9" r="3.8" fill="#e52808"/>
<circle cx="131.0" cy="188.9" r="3.8" fill="#e42208"/>
<circle cx="131.0" cy="183.8" r="3.8" fill="#e42008"/>
<circle cx="131.0" cy="178.7" r="3.8" fill="#e42208"/>
<circle cx="131.0" cy="173.7" r="3.8" fill="#e42208"/>
<circle cx="131.0" cy="168.6" r="3.8" fill="#e42308"/>
<circle cx="131.0" cy="163.5" r="3.8" fill="#e42008"/>
<circle cx="131.0" cy="158.5" r="3.8" fill="#e42108"/>
<circle cx="131.0" cy="153.4" r="3.8" fill="#e42008"/>
<circle cx="131.0" cy="148.3" r="3.8" fill="#e42308"/>
<circle cx="131.0" cy="143.3" r="3.8" fill="#e42208"/>
<circle cx="131.0" cy="138.2" r="3.8" fill="#e42208"/>
<circle cx="131.0" cy="133.1" r="3.8" fill="#e42308"/>
<circle cx="131.0" cy="128.1" r="3.8" fill="#e52408"/>
<circle cx="131.0" cy="123.0" r="3.8" fill="#e41f08"/>
<circle cx="131.0" cy="117.9" r="3.8" fill="#e42008"/>
<circle cx="131.0" cy="112.9" r="3.8" fill="#e41f08"/>
<circle cx="131.0" cy="107.8" r="3.8" fill="#e42008"/>
<circle cx="131.0" cy="102.7" r="3.8" fill="#e42308"/>
<circle cx="131.0" cy="97.7" r="3.8" fill="#e41f08"/>
<circle cx="131.0" cy="92.6" r="3.8" fill="#e42008"/>
<circle cx="131.0" cy="87.5" r="3.8" fill="#e42108"/>
<circle cx="131.0" cy="82.5" r="3.8" fill="#e42008"/>
<circle cx="131.0" cy="77.4" r="3.8" fill="#e42108"/>
<circle cx="131.0" cy="72.3" r="3.8" fill="#e41f08"/>
<circle cx="131.0" cy="67.3" r="3.8" fill="#e41f08"/>
<circle cx="131.0" cy="62.2" r="3.8" fill="#e42008"/>
<circle cx="131.0" cy="57.1" r="3.8" fill="#e42208"/>
<circle cx="131.0" cy="52.1" r="3.8" fill="#e42208"/>
<circle cx="131.0" cy="47.0" r="3.8" fill="#e42208"/>
<circle cx="131.0" cy="41.9" r="3.8" fill="#e42108"/>
<circle cx="131.0" cy="36.9" r="3.8" fill="#e42008"/>
<circle cx="131.0" cy="31.8" r="3.8" fill="#e42308"/>
<circle cx="131.0" cy="26.7" r="3.8" fill="#e41e08"/>
<circle cx="131.0" cy="21.7" r="3.8" fill="#e42208"/>
<circle cx="131.0" cy="16.6" r="3.8" fill="#e42308"/>
<circle cx="131.0" cy="197.4" r="3.8" fill="#7ae402"/>
<circle cx="137.1" cy="199.0" r="3.8" fill="#7ae402"/>
<circle cx="137.1" cy="188.9" r="3.8" fill="#e41d08"/>
<circle cx="137.1" cy="183.8" r="3.8" fill="#e31c08"/>
<circle cx="137.1" cy="178.7" r="3.8" fill="#e41f08"/>
<circle cx="137.1" cy="173.7" r="3.8" fill="#e41e08"/>
<circle cx="137.1" cy="168.6" r="3.8" fill="#e31d08"/>
<circle cx="137.1" cy="163.5" r="3.8" fill="#e31c08"/>
<circle cx="137.1" cy="158.5" r="3.8" fill="#e31c08"/>
<circle cx="137.1" cy="153.4" r="3.8" fill="#e31d08"/>
<circle cx="137.1" cy="148.3" r="3.8" fill="#e41d08"/>
<circle cx="137.1" cy="143.3" r="3.8" fill="#e41f08"/>
<circle cx="137.1" cy="138.2" r="3.8" fill="#e41e08"/>
<circle cx="137.1" cy="133.1" r="3.8" fill="#e41d08"/>
<circle cx="137.1" cy="128.1" r="3.8" fill="#e31d08"/>
<circle cx="137.1" cy="123.0" r="3.8" fill="#e31d08"/>
<circle cx="137.1" cy="112.9" r="3.8" fill="#e41f08"/>
<circle cx="137.1" cy="107.8" r="3.8" fill="#e31c08"/>
<circle cx="137.1" cy="102.7" r="3.8" fill="#e42008"/>
<circle cx="137.1" cy="97.7" r="3.8" fill="#e31c08"/>
<circle cx="137.1" cy="92.6" r="3.8" fill="#e41e08"/>
<circle cx="137.1" cy="87.5" r="3.8" fill="#e31c08"/>
<circle cx="137.1" cy="82.5" r="3.8" fill="#e41f08"/>
<circle cx="137.1" cy="77.4" r="3.8" fill="#e41e08"/>
<circle cx="137.1" cy="72.3" r="3.8" fill="#e41e08"/>
<circle cx="137.1" cy="67.3" r="3.8" fill="#e41f08"/>
<circle cx="137.1" cy="62.2" r="3.8" fill="#e31d08"/>
<circle cx="137.1" cy="57.1" r="3.8" fill="#e41e08"/>
<circle cx="137.1" cy="52.1" r="3.8" fill="#e42008"/>
<circle cx="137.1" cy="47.0" r="3.8" fill="#e41f08"/>
<circle cx="137.1" cy="41.9" r="3.8" fill="#e41f08"/>
<circle cx="137.1" cy="36.9" r="3.8" fill="#e42008"/>
<circle cx="137.1" cy="31.8" r="3.8" fill="#e41e08"/>
<circle cx="137.1" cy="26.7" r="3.8" fill="#e41d08"/>
<circle cx="137.1" cy="21.7" r="3.8" fill="#e42008"/>
<circle cx="137.1" cy="16.6" r="3.8" fill="#e41d08"/>
<circle cx="137.1" cy="197.4" r="3.8" fill="#7ae402"/>
<circle cx="143.3" cy="199.0" r="3.8" fill="#7ae402"/>
<circle cx="143.3" cy="193.9" r="3.8" fill="#e84c09"/>
<circle cx="143.3" cy="188.9" r="3.8" fill="#e52608"/>
<circle cx="143.3" cy="183.8" r="3.8" fill="#e52608"/>
<circle cx="143.3" cy="178.7" r="3.8" fill="#e52608"/>
<circle cx="143.3" cy="173.7" r="3.8" fill="#e52808"/>
<circle cx="143.3" cy="168.6" r="3.8" fill="#e52508"/>
<circle cx="143.3" cy="163.5" r="3.8" fill="#e52808"/>
<circle cx="143.3" cy="158.5" r="3.8" fill="#e52608"/>
<circle cx="143.3" cy="153.4" r="3.8" fill="#e52408"/>
<circle cx="143.3" cy="148.3" r="3.8" fill="#e52608"/>
<circle cx="143.3" cy="143.3" r="3.8" fill="#e52708"/>
<circle cx="143.3" cy="138.2" r="3.8" fill="#e52708"/>
<circle cx="143.3" cy="133.1" r="3.8" fill="#e52508"/>
<circle cx="143.3" cy="128.1" r="3.8" fill="#e52808"/>
<circle cx="143.3" cy="123.0" r="3.8" fill="#e52708"/>
<circle cx="143.3" cy="117.9" r="3.8" fill="#e52508"/>
<circle cx="143.3" cy="112.9" r="3.8" fill="#e52408"/>
<circle cx="143.3" cy="107.8" r="3.8" fill="#e52608"/>
<circle cx="143.3" cy="102.7" r="3.8" fill="#e52608"/>
<circle cx="143.3" cy="97.7" r="3.8" fill="#e52508"/>
<circle cx="143.3" cy="92.6" r="3.8" fill="#e52708"/>
<circle cx="143.3" cy="87.5" r="3.8" fill="#e52908"/>
<circle cx="143.3" cy="82.5" r="3.8" fill="#e52808"/>
<circle cx="143.3" cy="77.4" r="3.8" fill="#e52608"/>
<circle cx="143.3" cy="72.3" r="3.8" fill="#e52808"/>
<circle cx="143.3" cy="67.3" r="3.8" fill="#e52708"/>
<circle cx="143.3" cy="62.2" r="3.8" fill="#e52708"/>
<circle cx="143.3" cy="57.1" r="3.8" fill="#e52708"/>
<circle cx="143.3" cy="52.1" r="3.8" fill="#e52608"/>
<circle cx="143.3" cy="47.0" r="3.8" fill="#e52808"/>
<circle cx="143.3" cy="41.9" r="3.8" fill="#e52608"/>
<circle cx="143.3" cy="36.9" r="3.8" fill="#e52808"/>
<circle cx="143.3" cy="31.8" r="3.8" fill="#e52508"/>
<circle cx="143.3" cy="26.7" r="3.8" fill="#e52908"/>
<circle cx="143.3" cy="21.7" r="3.8" fill="#e52708"/>
<circle cx="143.3" cy="16.6" r="3.8" fill="#e52508"/>
<circle cx="143.3" cy="197.4" r="3.8" fill="#7ae402"/>
<circle cx="149.4" cy="199.0" r="3.8" fill="#7ae402"/>
<circle cx="149.4" cy="193.9" r="3.8" fill="#7ae402"/>
<circle cx="149.4" cy="188.9" r="3.8" fill="#7ae402"/>
<circle cx="149.4" cy="183.8" r="3.8" fill="#7ae402"/>
<circle cx="149.4" cy="178.7" r="3.8" fill="#7ae402"/>
<circle cx="149.4" cy="173.7" r="3.8" fill="#7ae402"/>
<circle cx="149.4" cy="168.6" r="3.8" fill="#7ae402"/>
<circle cx="149.4" cy="163.5" r="3.8" fill="#7ae402"/>
<circle cx="149.4" cy="158.5" r="3.8" fill="#7ae402"/>
<circle cx="149.4" cy="153.4" r="3.8" fill="#e7930b"/>
<circle cx="149.4" cy="143.3" r="3.8" fill="#e8910a"/>
<circle cx="149.4" cy="138.2" r="3.8" fill="#96dc10"/>
<circle cx="149.4" cy="133.1" r="3.8" fill="#e84a09"/>
<circle cx="149.4" cy="128.1" r="3.8" fill="#88e009"/>
<circle cx="149.4" cy="123.0" r="3.8" fill="#e88f0a"/>
<circle cx="149.4" cy="117.9" r="3.8" fill="#e83a08"/>
<circle cx="149.4" cy="112.9" r="3.8" fill="#e83e08"/>
<circle cx="149.4" cy="107.8" r="3.8" fill="#ded410"/>
<circle cx="149.4" cy="102.7" r="3.8" fill="#e79e0b"/>
<circle cx="149.4" cy="97.7" r="3.8" fill="#e6ac0d"/>
<circle cx="149.4" cy="92.6" r="3.8" fill="#e1cd10"/>
<circle cx="149.4" cy="87.5" r="3.8" fill="#e7920b"/>
<circle cx="149.4" cy="77.4" r="3.8" fill="#e4ba0f"/>
<circle cx="149.4" cy="72.3" r="3.8" fill="#e79d0b"/>
<circle cx="149.4" cy="155.0" r="3.8" fill="#7ae402"/>
<circle cx="149.4" cy="157.5" r="3.8" fill="#7ae402"/>
<circle cx="155.6" cy="199.0" r="3.8" fill="#7ae402"/>
<circle cx="155.6" cy="193.9" r="3.8" fill="#7ae402"/>
<circle cx="155.6" cy="188.9" r="3.8" fill="#7ae402"/>
<circle cx="155.6" cy="183.8" r="3.8" fill="#7ae402"/>
<circle cx="155.6" cy="178.7" r="3.8" fill="#7ae402"/>
<circle cx="155.6" cy="173.7" r="3.8" fill="#7ae402"/>
<circle cx="155.6" cy="168.6" r="3.8" fill="#7ae402"/>
<circle cx="155.6" cy="163.5" r="3.8" fill="#7ae402"/>
<circle cx="155.6" cy="158.5" r="3.8" fill="#7ae402"/>
<circle cx="155.6" cy="153.4" r="3.8" fill="#e5ae0d"/>
<circle cx="155.6" cy="143.3" r="3.8" fill="#e84408"/>
<circle cx="155.6" cy="138.2" r="3.8" fill="#e5af0d"/>
<circle cx="155.6" cy="128.1" r="3.8" fill="#8cdf0b"/>
<circle cx="155.6" cy="123.0" r="3.8" fill="#e6ad0d"/>
<circle cx="155.6" cy="117.9" r="3.8" fill="#e0d310"/>
<circle cx="155.6" cy="112.9" r="3.8" fill="#e2cb10"/>
<circle cx="155.6" cy="107.8" r="3.8" fill="#e79b0b"/>
<circle cx="155.6" cy="102.7" r="3.8" fill="#e6a50c"/>
<circle cx="155.6" cy="97.7" r="3.8" fill="#e87d0a"/>
<circle cx="155.6" cy="92.6" r="3.8" fill="#e1cc10"/>
<circle cx="155.6" cy="87.5" r="3.8" fill="#e2c810"/>
<circle cx="155.6" cy="82.5" r="3.8" fill="#e5b00d"/>
<circle cx="155.6" cy="72.3" r="3.8" fill="#e88f0a"/>
<circle cx="155.6" cy="153.9" r="3.8" fill="#7ae402"/>
<circle cx="155.6" cy="156.4" r="3.8" fill="#7ae402"/>
<circle cx="161.7" cy="199.0" r="3.8" fill="#7ae402"/>
<circle cx="161.7" cy="193.9" r="3.8" fill="#7ae402"/>
<circle cx="161.7" cy="188.9" r="3.8" fill="#7ae402"/>
<circle cx="161.7" cy="183.8" r="3.8" fill="#7ae402"/>
<circle cx="161.7" cy="178.7" r="3.8" fill="#7ae402"/>
<circle cx="161.7" cy="173.7" r="3.8" fill="#7ae402"/>
<circle cx="161.7" cy="168.6" r="3.8" fill="#7ae402"/>
<circle cx="161.7" cy="163.5" r="3.8" fill="#7ae402"/>
<circle cx="161.7" cy="158.5" r="3.8" fill="#7ae402"/>
<circle cx="161.7" cy="153.4" r="3.8" fill="#e6a70c"/>
<circle cx="161.7" cy="148.3" r="3.8" fill="#89e009"/>
<circle cx="161.7" cy="143.3" r="3.8" fill="#e85709"/>
<circle cx="161.7" cy="138.2" r="3.8" fill="#e1cc10"/>
<circle cx="161.7" cy="133.1" r="3.8" fill="#e83a08"/>
<circle cx="161.7" cy="128.1" r="3.8" fill="#e88d0a"/>
<circle cx="161.7" cy="123.0" r="3.8" fill="#e85e0a"/>
<circle cx="161.7" cy="117.9" r="3.8" fill="#e87f0a"/>
<circle cx="161.7" cy="112.9" r="3.8" fill="#e2c810"/>
<circle cx="161.7" cy="107.8" r="3.8" fill="#e84909"/>
<circle cx="161.7" cy="102.7" r="3.8" fill="#e0d210"/>
<circle cx="161.7" cy="97.7" r="3.8" fill="#ddd410"/>
<circle cx="161.7" cy="92.6" r="3.8" fill="#a5da12"/>
<circle cx="161.7" cy="87.5" r="3.8" fill="#e8810a"/>
<circle cx="161.7" cy="82.5" r="3.8" fill="#e7990b"/>
<circle cx="161.7" cy="72.3" r="3.8" fill="#e6a20c"/>
<circle cx="161.7" cy="154.8" r="3.8" fill="#7ae402"/>
<circle cx="161.7" cy="157.3" r="3.8" fill="#7ae402"/>
<circle cx="167.9" cy="199.0" r="3.8" fill="#7ae402"/>
<circle cx="167.9" cy="193.9" r="3.8" fill="#7ae402"/>
<circle cx="167.9" cy="188.9" r="3.8" fill="#7ae402"/>
<circle cx="167.9" cy="183.8" r="3.8" fill="#7ae402"/>
<circle cx="167.9" cy="178.7" r="3.8" fill="#7ae402"/>
<circle cx="167.9" cy="173.7" r="3.8" fill="#7ae402"/>
<circle cx="167.9" cy="168.6" r="3.8" fill="#7ae402"/>
<circle cx="167.9" cy="163.5" r="3.8" fill="#7ae402"/>
<circle cx="167.9" cy="158.5" r="3.8" fill="#7ae402"/>
<circle cx="167.9" cy="153.4" r="3.8" fill="#dfd410"/>
<circle cx="167.9" cy="148.3" r="3.8" fill="#81e206"/>
<circle cx="167.9" cy="143.3" r="3.8" fill="#e84909"/>
<circle cx="167.9" cy="138.2" r="3.8" fill="#e0d110"/>
<circle cx="167.9" cy="133.1" r="3.8" fill="#e88f0a"/>
<circle cx="167.9" cy="128.1" r="3.8" fill="#e79d0b"/>
<circle cx="167.9" cy="123.0" r="3.8" fill="#e83908"/>
<circle cx="167.9" cy="117.9" r="3.8" fill="#9fdb11"/>
<circle cx="167.9" cy="112.9" r="3.8" fill="#e84e09"/>
<circle cx="167.9" cy="107.8" r="3.8" fill="#e6a60c"/>
<circle cx="167.9" cy="102.7" r="3.8" fill="#e83b08"/>
<circle cx="167.9" cy="97.7" r="3.8" fill="#e8810a"/>
<circle cx="167.9" cy="92.6" r="3.8" fill="#e88b0a"/>
<circle cx="167.9" cy="87.5" r="3.8" fill="#84e107"/>
<circle cx="167.9" cy="72.3" r="3.8" fill="#e88c0a"/>
<circle cx="167.9" cy="153.9" r="3.8" fill="#7ae402"/>
<circle cx="167.9" cy="156.4" r="3.8" fill="#7ae402"/>
<circle cx="174.0" cy="199.0" r="3.8" fill="#7ae402"/>
<circle cx="174.0" cy="193.9" r="3.8" fill="#7ae402"/>
<circle cx="174.0" cy="188.9" r="3.8" fill="#7ae402"/>
<circle cx="174.0" cy="183.8" r="3.8" fill="#7ae402"/>
<circle cx="174.0" cy="178.7" r="3.8" fill="#7ae402"/>
<circle cx="174.0" cy="173.7" r="3.8" fill="#7ae402"/>
<circle cx="174.0" cy="168.6" r="3.8" fill="#7ae402"/>
<circle cx="174.0" cy="163.5" r="3.8" fill="#7ae402"/>
<circle cx="174.0" cy="158.5" r="3.8" fill="#7ae402"/>
<circle cx="174.0" cy="153.4" r="3.8" fill="#89e009"/>
<circle cx="174.0" cy="148.3" r="3.8" fill="#e85409"/>
<circle cx="174.0" cy="143.3" r="3.8" fill="#d8d511"/>
<circle cx="174.0" cy="133.1" r="3.8" fill="#95dc0f"/>
<circle cx="174.0" cy="128.1" r="3.8" fill="#e79a0b"/>
<circle cx="174.0" cy="123.0" r="3.8" fill="#e6ad0d"/>
<circle cx="174.0" cy="117.9" r="3.8" fill="#e2cb10"/>
<circle cx="174.0" cy="112.9" r="3.8" fill="#e83e08"/>
<circle cx="174.0" cy="107.8" r="3.8" fill="#81e206"/>
<circle cx="174.0" cy="102.7" r="3.8" fill="#e73608"/>
<circle cx="174.0" cy="97.7" r="3.8" fill="#e6a40c"/>
<circle cx="174.0" cy="92.6" r="3.8" fill="#e84809"/>
<circle cx="174.0" cy="87.5" r="3.8" fill="#e5b00d"/>
<circle cx="174.0" cy="82.5" r="3.8" fill="#e6ac0d"/>
<circle cx="174.0" cy="77.4" r="3.8" fill="#e88a0a"/>
<circle cx="174.0" cy="154.8" r="3.8" fill="#7ae402"/>
<circle cx="174.0" cy="157.3" r="3.8" fill="#7ae402"/>
<circle cx="180.2" cy="199.0" r="3.8" fill="#7ae402"/>
<circle cx="180.2" cy="193.9" r="3.8" fill="#7ae402"/>
<circle cx="180.2" cy="188.9" r="3.8" fill="#7ae402"/>
<circle cx="180.2" cy="183.8" r="3.8" fill="#7ae402"/>
<circle cx="180.2" cy="178.7" r="3.8" fill="#7ae402"/>
<circle cx="180.2" cy="173.7" r="3.8" fill="#7ae402"/>
<circle cx="180.2" cy="168.6" r="3.8" fill="#7ae402"/>
<circle cx="180.2" cy="163.5" r="3.8" fill="#7ae402"/>
<circle cx="180.2" cy="158.5" r="3.8" fill="#7ae402"/>
<circle cx="180.2" cy="153.4" r="3.8" fill="#e4bd10"/>
<circle cx="180.2" cy="148.3" r="3.8" fill="#e8790a"/>
<circle cx="180.2" cy="138.2" r="3.8" fill="#e88d0a"/>
<circle cx="180.2" cy="133.1" r="3.8" fill="#e73408"/>
<circle cx="180.2" cy="128.1" r="3.8" fill="#e84408"/>
<circle cx="180.2" cy="123.0" r="3.8" fill="#e6a40c"/>
<circle cx="180.2" cy="117.9" r="3.8" fill="#e5ae0d"/>
<circle cx="180.2" cy="112.9" r="3.8" fill="#a3db11"/>
<circle cx="180.2" cy="107.8" r="3.8" fill="#e2cb10"/>
<circle cx="180.2" cy="102.7" r="3.8" fill="#e2c710"/>
<circle cx="180.2" cy="97.7" r="3.8" fill="#e5ae0d"/>
<circle cx="180.2" cy="92.6" r="3.8" fill="#e8880a"/>
<circle cx="180.2" cy="87.5" r="3.8" fill="#e6aa0c"/>
<circle cx="180.2" cy="82.5" r="3.8" fill="#e7960b"/>
<circle cx="180.2" cy="77.4" r="3.8" fill="#e88f0a"/>
<circle cx="180.2" cy="154.3" r="3.8" fill="#7ae402"/>
<circle cx="180.2" cy="156.8" r="3.8" fill="#7ae402"/>
<circle cx="186.3" cy="199.0" r="3.8" fill="#7ae402"/>
<circle cx="186.3" cy="193.9" r="3.8" fill="#7ae402"/>
<circle cx="186.3" cy="188.9" r="3.8" fill="#7ae402"/>
<circle cx="186.3" cy="183.8" r="3.8" fill="#7ae402"/>
<circle cx="186.3" cy="178.7" r="3.8" fill="#7ae402"/>
<circle cx="186.3" cy="173.7" r="3.8" fill="#7ae402"/>
<circle cx="186.3" cy="168.6" r="3.8" fill="#7ae402"/>
<circle cx="186.3" cy="163.5" r="3.8" fill="#7ae402"/>
<circle cx="186.3" cy="158.5" r="3.8" fill="#7ae402"/>
<circle cx="186.3" cy="143.3" r="3.8" fill="#8adf0a"/>
<circle cx="186.3" cy="133.1" r="3.8" fill="#d7d511"/>
<circle cx="186.3" cy="128.1" r="3.8" fill="#e7960b"/>
<circle cx="186.3" cy="123.0" r="3.8" fill="#84e107"/>
<circle cx="186.3" cy="112.9" r="3.8" fill="#e73408"/>
<circle cx="186.3" cy="107.8" r="3.8" fill="#e73708"/>
<circle cx="186.3" cy="102.7" r="3.8" fill="#e84f09"/>
<circle cx="186.3" cy="97.7" r="3.8" fill="#e79e0b"/>
<circle cx="186.3" cy="92.6" r="3.8" fill="#e2cc10"/>
<circle cx="186.3" cy="82.5" r="3.8" fill="#e84308"/>
<circle cx="186.3" cy="77.4" r="3.8" fill="#e83d08"/>
<circle cx="186.3" cy="72.3" r="3.8" fill="#e84709"/>
<circle cx="186.3" cy="67.3" r="3.8" fill="#e84008"/>
<circle cx="186.3" cy="62.2" r="3.8" fill="#e83b08"/>
<circle cx="186.3" cy="57.1" r="3.8" fill="#e84408"/>
<circle cx="186.3" cy="52.1" r="3.8" fill="#e84308"/>
<circle cx="186.3" cy="41.9" r="3.8" fill="#e73308"/>
<circle cx="186.3" cy="36.9" r="3.8" fill="#e84508"/>
<circle cx="186.3" cy="31.8" r="3.8" fill="#e8590a"/>
<circle cx="186.3" cy="26.7" r="3.8" fill="#e84709"/>
<circle cx="186.3" cy="21.7" r="3.8" fill="#e85409"/>
<circle cx="186.3" cy="156.8" r="3.8" fill="#7ae402"/>
<circle cx="186.3" cy="159.3" r="3.8" fill="#7ae402"/>
<circle cx="192.4" cy="199.0" r="3.8" fill="#7ae402"/>
<circle cx="192.4" cy="193.9" r="3.8" fill="#7ae402"/>
<circle cx="192.4" cy="188.9" r="3.8" fill="#7ae402"/>
<circle cx="192.4" cy="183.8" r="3.8" fill="#7ae402"/>
<circle cx="192.4" cy="178.7" r="3.8" fill="#7ae402"/>
<circle cx="192.4" cy="173.7" r="3.8" fill="#7ae402"/>
<circle cx="192.4" cy="168.6" r="3.8" fill="#7ae402"/>
<circle cx="192.4" cy="163.5" r="3.8" fill="#7ae402"/>
<circle cx="192.4" cy="153.4" r="3.8" fill="#e2c810"/>
<circle cx="192.4" cy="148.3" r="3.8" fill="#e79f0b"/>
<circle cx="192.4" cy="143.3" r="3.8" fill="#e4bd10"/>
<circle cx="192.4" cy="133.1" r="3.8" fill="#9ddb11"/>
<circle cx="192.4" cy="112.9" r="3.8" fill="#e6a20c"/>
<circle cx="192.4" cy="97.7" r="3.8" fill="#e85d0a"/>
<circle cx="192.4" cy="92.6" r="3.8" fill="#e87a0a"/>
<circle cx="192.4" cy="87.5" r="3.8" fill="#e85409"/>
<circle cx="192.4" cy="77.4" r="3.8" fill="#e73808"/>
<circle cx="192.4" cy="72.3" r="3.8" fill="#e84008"/>
<circle cx="192.4" cy="67.3" r="3.8" fill="#e84b09"/>
<circle cx="192.4" cy="62.2" r="3.8" fill="#e83c08"/>
<circle cx="192.4" cy="47.0" r="3.8" fill="#e84108"/>
<circle cx="192.4" cy="41.9" r="3.8" fill="#e73508"/>
<circle cx="192.4" cy="36.9" r="3.8" fill="#e73308"/>
<circle cx="192.4" cy="31.8" r="3.8" fill="#e85509"/>
<circle cx="192.4" cy="26.7" r="3.8" fill="#e73408"/>
<circle cx="192.4" cy="16.6" r="3.8" fill="#e84b09"/>
<circle cx="192.4" cy="159.1" r="3.8" fill="#7ae402"/>
<circle cx="192.4" cy="161.6" r="3.8" fill="#7ae402"/>
<circle cx="198.6" cy="199.0" r="3.8" fill="#7ae402"/>
<circle cx="198.6" cy="193.9" r="3.8" fill="#7ae402"/>
<circle cx="198.6" cy="188.9" r="3.8" fill="#7ae402"/>
<circle cx="198.6" cy="183.8" r="3.8" fill="#7ae402"/>
<circle cx="198.6" cy="178.7" r="3.8" fill="#7ae402"/>
<circle cx="198.6" cy="173.7" r="3.8" fill="#7ae402"/>
<circle cx="198.6" cy="168.6" r="3.8" fill="#7ae402"/>
<circle cx="198.6" cy="163.5" r="3.8" fill="#7ae402"/>
<circle cx="198.6" cy="148.3" r="3.8" fill="#e3c210"/>
<circle cx="198.6" cy="143.3" r="3.8" fill="#e85e0a"/>
<circle cx="198.6" cy="138.2" r="3.8" fill="#e8800a"/>
<circle cx="198.6" cy="128.1" r="3.8" fill="#e3c210"/>
<circle cx="198.6" cy="123.0" r="3.8" fill="#9edb11"/>
<circle cx="198.6" cy="112.9" r="3.8" fill="#e3c210"/>
<circle cx="198.6" cy="107.8" r="3.8" fill="#94dd0f"/>
<circle cx="198.6" cy="102.7" r="3.8" fill="#b2d913"/>
<circle cx="198.6" cy="97.7" r="3.8" fill="#e85109"/>
<circle cx="198.6" cy="92.6" r="3.8" fill="#e4bd10"/>
<circle cx="198.6" cy="82.5" r="3.8" fill="#e52708"/>
<circle cx="198.6" cy="77.4" r="3.8" fill="#e85509"/>
<circle cx="198.6" cy="67.3" r="3.8" fill="#e83a08"/>
<circle cx="198.6" cy="62.2" r="3.8" fill="#e8590a"/>
<circle cx="198.6" cy="57.1" r="3.8" fill="#e85609"/>
<circle cx="198.6" cy="52.1" r="3.8" fill="#e8590a"/>
<circle cx="198.6" cy="47.0" r="3.8" fill="#e85f0a"/>
<circle cx="198.6" cy="41.9" r="3.8" fill="#e85d0a"/>
<circle cx="198.6" cy="21.7" r="3.8" fill="#e84609"/>
<circle cx="198.6" cy="16.6" r="3.8" fill="#e73408"/>
<circle cx="198.6" cy="160.2" r="3.8" fill="#7ae402"/>
<circle cx="198.6" cy="162.7" r="3.8" fill="#7ae402"/>
<circle cx="204.7" cy="199.0" r="3.8" fill="#7ae402"/>
<circle cx="204.7" cy="193.9" r="3.8" fill="#7ae402"/>
<circle cx="204.7" cy="188.9" r="3.8" fill="#7ae402"/>
<circle cx="204.7" cy="183.8" r="3.8" fill="#7ae402"/>
<circle cx="204.7" cy="178.7" r="3.8" fill="#7ae402"/>
<circle cx="204.7" cy="173.7" r="3.8" fill="#7ae402"/>
<circle cx="204.7" cy="168.6" r="3.8" fill="#7ae402"/>
<circle cx="204.7" cy="163.5" r="3.8" fill="#7ae402"/>
<circle cx="204.7" cy="158.5" r="3.8" fill="#e87a0a"/>
<circle cx="204.7" cy="153.4" r="3.8" fill="#e4c010"/>
<circle cx="204.7" cy="148.3" r="3.8" fill="#e84c09"/>
<circle cx="204.7" cy="143.3" r="3.8" fill="#e3c510"/>
<circle cx="204.7" cy="138.2" r="3.8" fill="#93dd0f"/>
<circle cx="204.7" cy="128.1" r="3.8" fill="#e73708"/>
<circle cx="204.7" cy="117.9" r="3.8" fill="#e84108"/>
<circle cx="204.7" cy="112.9" r="3.8" fill="#e85b0a"/>
<circle cx="204.7" cy="102.7" r="3.8" fill="#e73208"/>
<circle cx="204.7" cy="97.7" r="3.8" fill="#e84909"/>
<circle cx="204.7" cy="92.6" r="3.8" fill="#e2cb10"/>
<circle cx="204.7" cy="87.5" r="3.8" fill="#e88e0a"/>
<circle cx="204.7" cy="77.4" r="3.8" fill="#e73608"/>
<circle cx="204.7" cy="72.3" r="3.8" fill="#e84609"/>
<circle cx="204.7" cy="62.2" r="3.8" fill="#e83e08"/>
<circle cx="204.7" cy="57.1" r="3.8" fill="#e84909"/>
<circle cx="204.7" cy="41.9" r="3.8" fill="#e83b08"/>
<circle cx="204.7" cy="31.8" r="3.8" fill="#e84609"/>
<circle cx="204.7" cy="26.7" r="3.8" fill="#e31b08"/>
<circle cx="204.7" cy="16.6" r="3.8" fill="#e84709"/>
<circle cx="204.7" cy="162.5" r="3.8" fill="#7ae402"/>
<circle cx="204.7" cy="165.0" r="3.8" fill="#7ae402"/>
<circle cx="210.9" cy="199.0" r="3.8" fill="#7ae402"/>
<circle cx="210.9" cy="193.9" r="3.8" fill="#7ae402"/>
<circle cx="210.9" cy="188.9" r="3.8" fill="#7ae402"/>
<circle cx="210.9" cy="183.8" r="3.8" fill="#7ae402"/>
<circle cx="210.9" cy="178.7" r="3.8" fill="#7ae402"/>
<circle cx="210.9" cy="173.7" r="3.8" fill="#7ae402"/>
<circle cx="210.9" cy="168.6" r="3.8" fill="#7ae402"/>
<circle cx="210.9" cy="163.5" r="3.8" fill="#98dc10"/>
<circle cx="210.9" cy="158.5" r="3.8" fill="#e6a90c"/>
<circle cx="210.9" cy="143.3" r="3.8" fill="#e83e08"/>
<circle cx="210.9" cy="138.2" r="3.8" fill="#e0d410"/>
<circle cx="210.9" cy="128.1" r="3.8" fill="#a4da12"/>
<circle cx="210.9" cy="123.0" r="3.8" fill="#e1cc10"/>
<circle cx="210.9" cy="112.9" r="3.8" fill="#94dd0f"/>
<circle cx="210.9" cy="107.8" r="3.8" fill="#e73208"/>
<circle cx="210.9" cy="102.7" r="3.8" fill="#e85d0a"/>
<circle cx="210.9" cy="97.7" r="3.8" fill="#e8910a"/>
<circle cx="210.9" cy="87.5" r="3.8" fill="#9bdc10"/>
<circle cx="210.9" cy="82.5" r="3.8" fill="#e83908"/>
<circle cx="210.9" cy="77.4" r="3.8" fill="#e85d0a"/>
<circle cx="210.9" cy="72.3" r="3.8" fill="#e84809"/>
<circle cx="210.9" cy="67.3" r="3.8" fill="#e85a0a"/>
<circle cx="210.9" cy="62.2" r="3.8" fill="#e1cd10"/>
<circle cx="210.9" cy="57.1" r="3.8" fill="#e8570a"/>
<circle cx="210.9" cy="52.1" r="3.8" fill="#e85609"/>
<circle cx="210.9" cy="36.9" r="3.8" fill="#e83f08"/>
<circle cx="210.9" cy="31.8" r="3.8" fill="#e73708"/>
<circle cx="210.9" cy="26.7" r="3.8" fill="#e83d08"/>
<circle cx="210.9" cy="21.7" r="3.8" fill="#e85009"/>
<circle cx="210.9" cy="163.7" r="3.8" fill="#7ae402"/>
<circle cx="210.9" cy="166.2" r="3.8" fill="#7ae402"/>
<circle cx="217.0" cy="199.0" r="3.8" fill="#7ae402"/>
<circle cx="217.0" cy="193.9" r="3.8" fill="#7ae402"/>
<circle cx="217.0" cy="188.9" r="3.8" fill="#7ae402"/>
<circle cx="217.0" cy="183.8" r="3.8" fill="#7ae402"/>
<circle cx="217.0" cy="178.7" r="3.8" fill="#7ae402"/>
<circle cx="217.0" cy="173.7" r="3.8" fill="#7ae402"/>
<circle cx="217.0" cy="168.6" r="3.8" fill="#7ae402"/>
<circle cx="217.0" cy="158.5" r="3.8" fill="#d9d511"/>
<circle cx="217.0" cy="153.4" r="3.8" fill="#e85309"/>
<circle cx="217.0" cy="148.3" r="3.8" fill="#e8900a"/>
<circle cx="217.0" cy="138.2" r="3.8" fill="#e84a09"/>
<circle cx="217.0" cy="133.1" r="3.8" fill="#e4c110"/>
<circle cx="217.0" cy="117.9" r="3.8" fill="#e1ce10"/>
<circle cx="217.0" cy="112.9" r="3.8" fill="#e7980b"/>
<circle cx="217.0" cy="102.7" r="3.8" fill="#7ae402"/>
<circle cx="217.0" cy="92.6" r="3.8" fill="#e1d110"/>
<circle cx="217.0" cy="87.5" r="3.8" fill="#e8800a"/>
<circle cx="217.0" cy="82.5" r="3.8" fill="#e73408"/>
<circle cx="217.0" cy="77.4" r="3.8" fill="#e73308"/>
<circle cx="217.0" cy="72.3" r="3.8" fill="#e73708"/>
<circle cx="217.0" cy="67.3" r="3.8" fill="#e73608"/>
<circle cx="217.0" cy="62.2" r="3.8" fill="#e83e08"/>
<circle cx="217.0" cy="52.1" r="3.8" fill="#e84b09"/>
<circle cx="217.0" cy="47.0" r="3.8" fill="#e84408"/>
<circle cx="217.0" cy="41.9" r="3.8" fill="#e85f0a"/>
<circle cx="217.0" cy="36.9" r="3.8" fill="#e84308"/>
<circle cx="217.0" cy="26.7" r="3.8" fill="#e84909"/>
<circle cx="217.0" cy="21.7" r="3.8" fill="#e84d09"/>
<circle cx="217.0" cy="16.6" r="3.8" fill="#e85009"/>
<circle cx="217.0" cy="164.8" r="3.8" fill="#7ae402"/>
<circle cx="217.0" cy="167.3" r="3.8" fill="#7ae402"/>
<circle cx="223.2" cy="199.0" r="3.8" fill="#7ae402"/>
<circle cx="223.2" cy="193.9" r="3.8" fill="#7ae402"/>
<circle cx="223.2" cy="188.9" r="3.8" fill="#7ae402"/>
<circle cx="223.2" cy="183.8" r="3.8" fill="#7ae402"/>
<circle cx="223.2" cy="178.7" r="3.8" fill="#7ae402"/>
<circle cx="223.2" cy="173.7" r="3.8" fill="#7ae402"/>
<circle cx="223.2" cy="148.3" r="3.8" fill="#e2ca10"/>
<circle cx="223.2" cy="143.3" r="3.8" fill="#e8600a"/>
<circle cx="223.2" cy="138.2" r="3.8" fill="#e0d110"/>
<circle cx="223.2" cy="87.5" r="3.8" fill="#e8580a"/>
<circle cx="223.2" cy="82.5" r="3.8" fill="#e7940b"/>
<circle cx="223.2" cy="72.3" r="3.8" fill="#e85309"/>
<circle cx="223.2" cy="67.3" r="3.8" fill="#e83b08"/>
<circle cx="223.2" cy="62.2" r="3.8" fill="#e84a09"/>
<circle cx="223.2" cy="57.1" r="3.8" fill="#e41d08"/>
<circle cx="223.2" cy="52.1" r="3.8" fill="#e83908"/>
<circle cx="223.2" cy="41.9" r="3.8" fill="#e73208"/>
<circle cx="223.2" cy="36.9" r="3.8" fill="#e52808"/>
<circle cx="223.2" cy="31.8" r="3.8" fill="#e84f09"/>
<circle cx="223.2" cy="26.7" r="3.8" fill="#e52608"/>
<circle cx="223.2" cy="21.7" r="3.8" fill="#e84a09"/>
<circle cx="223.2" cy="16.6" r="3.8" fill="#e85109"/>
<circle cx="223.2" cy="168.7" r="3.8" fill="#7ae402"/>
<circle cx="223.2" cy="171.2" r="3.8" fill="#7ae402"/>
<circle cx="229.3" cy="199.0" r="3.8" fill="#7ae402"/>
<circle cx="229.3" cy="193.9" r="3.8" fill="#7ae402"/>
<circle cx="229.3" cy="188.9" r="3.8" fill="#7ae402"/>
<circle cx="229.3" cy="183.8" r="3.8" fill="#7ae402"/>
<circle cx="229.3" cy="178.7" r="3.8" fill="#7ae402"/>
<circle cx="229.3" cy="173.7" r="3.8" fill="#7ae402"/>
<circle cx="229.3" cy="168.6" r="3.8" fill="#7ae402"/>
<circle cx="229.3" cy="148.3" r="3.8" fill="#e3c110"/>
<circle cx="229.3" cy="138.2" r="3.8" fill="#e84809"/>
<circle cx="229.3" cy="133.1" r="3.8" fill="#83e107"/>
<circle cx="229.3" cy="128.1" r="3.8" fill="#e6a50c"/>
<circle cx="229.3" cy="123.0" r="3.8" fill="#e2c910"/>
<circle cx="229.3" cy="112.9" r="3.8" fill="#e84108"/>
<circle cx="229.3" cy="107.8" r="3.8" fill="#e85b0a"/>
<circle cx="229.3" cy="102.7" r="3.8" fill="#e6a60c"/>
<circle cx="229.3" cy="97.7" r="3.8" fill="#e42208"/>
<circle cx="229.3" cy="92.6" r="3.8" fill="#e85d0a"/>
<circle cx="229.3" cy="87.5" r="3.8" fill="#e73208"/>
<circle cx="229.3" cy="82.5" r="3.8" fill="#e85e0a"/>
<circle cx="229.3" cy="77.4" r="3.8" fill="#e83c08"/>
<circle cx="229.3" cy="72.3" r="3.8" fill="#e8580a"/>
<circle cx="229.3" cy="67.3" r="3.8" fill="#e84709"/>
<circle cx="229.3" cy="62.2" r="3.8" fill="#e52608"/>
<circle cx="229.3" cy="52.1" r="3.8" fill="#e31c08"/>
<circle cx="229.3" cy="47.0" r="3.8" fill="#e73208"/>
<circle cx="229.3" cy="41.9" r="3.8" fill="#e85509"/>
<circle cx="229.3" cy="36.9" r="3.8" fill="#e31d08"/>
<circle cx="229.3" cy="31.8" r="3.8" fill="#e84c09"/>
<circle cx="229.3" cy="26.7" r="3.8" fill="#e73708"/>
<circle cx="229.3" cy="21.7" r="3.8" fill="#e31d08"/>
<circle cx="229.3" cy="16.6" r="3.8" fill="#e52508"/>
<circle cx="229.3" cy="168.2" r="3.8" fill="#7ae402"/>
<circle cx="229.3" cy="170.7" r="3.8" fill="#7ae402"/>
<circle cx="235.5" cy="199.0" r="3.8" fill="#7ae402"/>
<circle cx="235.5" cy="193.9" r="3.8" fill="#7ae402"/>
<circle cx="235.5" cy="188.9" r="3.8" fill="#7ae402"/>
<circle cx="235.5" cy="183.8" r="3.8" fill="#7ae402"/>
<circle cx="235.5" cy="178.7" r="3.8" fill="#7ae402"/>
<circle cx="235.5" cy="173.7" r="3.8" fill="#7ae402"/>
<circle cx="235.5" cy="163.5" r="3.8" fill="#e83f08"/>
<circle cx="235.5" cy="138.2" r="3.8" fill="#e5ae0d"/>
<circle cx="235.5" cy="133.1" r="3.8" fill="#e84508"/>
<circle cx="235.5" cy="128.1" r="3.8" fill="#e88e0a"/>
<circle cx="235.5" cy="112.9" r="3.8" fill="#e85c0a"/>
<circle cx="235.5" cy="107.8" r="3.8" fill="#e84008"/>
<circle cx="235.5" cy="102.7" r="3.8" fill="#e84c09"/>
<circle cx="235.5" cy="97.7" r="3.8" fill="#e84108"/>
<circle cx="235.5" cy="92.6" r="3.8" fill="#e84709"/>
<circle cx="235.5" cy="87.5" r="3.8" fill="#e85209"/>
<circle cx="235.5" cy="82.5" r="3.8" fill="#e83f08"/>
<circle cx="235.5" cy="77.4" r="3.8" fill="#e85309"/>
<circle cx="235.5" cy="72.3" r="3.8" fill="#e52608"/>
<circle cx="235.5" cy="67.3" r="3.8" fill="#e42308"/>
<circle cx="235.5" cy="62.2" r="3.8" fill="#e52408"/>
<circle cx="235.5" cy="57.1" r="3.8" fill="#e41f08"/>
<circle cx="235.5" cy="52.1" r="3.8" fill="#e41f08"/>
<circle cx="235.5" cy="47.0" r="3.8" fill="#e52408"/>
<circle cx="235.5" cy="41.9" r="3.8" fill="#e42208"/>
<circle cx="235.5" cy="36.9" r="3.8" fill="#e42208"/>
<circle cx="235.5" cy="31.8" r="3.8" fill="#e42108"/>
<circle cx="235.5" cy="26.7" r="3.8" fill="#e42308"/>
<circle cx="235.5" cy="21.7" r="3.8" fill="#e41f08"/>
<circle cx="235.5" cy="16.6" r="3.8" fill="#e41f08"/>
<circle cx="235.5" cy="168.9" r="3.8" fill="#7ae402"/>
<circle cx="235.5" cy="171.4" r="3.8" fill="#7ae402"/>
<circle cx="241.6" cy="199.0" r="3.8" fill="#7ae402"/>
<circle cx="241.6" cy="193.9" r="3.8" fill="#7ae402"/>
<circle cx="241.6" cy="188.9" r="3.8" fill="#7ae402"/>
<circle cx="241.6" cy="183.8" r="3.8" fill="#7ae402"/>
<circle cx="241.6" cy="178.7" r="3.8" fill="#7ae402"/>
<circle cx="241.6" cy="173.7" r="3.8" fill="#7ae402"/>
<circle cx="241.6" cy="168.6" r="3.8" fill="#7ae402"/>
<circle cx="241.6" cy="148.3" r="3.8" fill="#aada12"/>
<circle cx="241.6" cy="138.2" r="3.8" fill="#e79a0b"/>
<circle cx="241.6" cy="128.1" r="3.8" fill="#e83a08"/>
<circle cx="241.6" cy="117.9" r="3.8" fill="#e85f0a"/>
<circle cx="241.6" cy="102.7" r="3.8" fill="#e83a08"/>
<circle cx="241.6" cy="97.7" r="3.8" fill="#e5ae0d"/>
<circle cx="241.6" cy="92.6" r="3.8" fill="#e84308"/>
<circle cx="241.6" cy="87.5" r="3.8" fill="#e85309"/>
<circle cx="241.6" cy="82.5" r="3.8" fill="#e85b0a"/>
<circle cx="241.6" cy="77.4" r="3.8" fill="#e41f08"/>
<circle cx="241.6" cy="72.3" r="3.8" fill="#e31908"/>
<circle cx="241.6" cy="67.3" r="3.8" fill="#e31a08"/>
<circle cx="241.6" cy="62.2" r="3.8" fill="#e31908"/>
<circle cx="241.6" cy="57.1" r="3.8" fill="#e31a08"/>
<circle cx="241.6" cy="52.1" r="3.8" fill="#e31b08"/>
<circle cx="241.6" cy="47.0" r="3.8" fill="#e41d08"/>
<circle cx="241.6" cy="41.9" r="3.8" fill="#e41d08"/>
<circle cx="241.6" cy="36.9" r="3.8" fill="#e31908"/>
<circle cx="241.6" cy="26.7" r="3.8" fill="#e31b08"/>
<circle cx="241.6" cy="21.7" r="3.8" fill="#e31d08"/>
<circle cx="241.6" cy="16.6" r="3.8" fill="#e31d08"/>
<circle cx="241.6" cy="168.2" r="3.8" fill="#7ae402"/>
<circle cx="241.6" cy="170.7" r="3.8" fill="#7ae402"/>
<circle cx="247.8" cy="199.0" r="3.8" fill="#7ae402"/>
<circle cx="247.8" cy="193.9" r="3.8" fill="#7ae402"/>
<circle cx="247.8" cy="188.9" r="3.8" fill="#7ae402"/>
<circle cx="247.8" cy="183.8" r="3.8" fill="#7ae402"/>
<circle cx="247.8" cy="178.7" r="3.8" fill="#7ae402"/>
<circle cx="247.8" cy="173.7" r="3.8" fill="#7ae402"/>
<circle cx="247.8" cy="168.6" r="3.8" fill="#7ae402"/>
<circle cx="247.8" cy="158.5" r="3.8" fill="#e87b0a"/>
<circle cx="247.8" cy="117.9" r="3.8" fill="#e85609"/>
<circle cx="247.8" cy="112.9" r="3.8" fill="#e83f08"/>
<circle cx="247.8" cy="107.8" r="3.8" fill="#e83a08"/>
<circle cx="247.8" cy="102.7" r="3.8" fill="#e84909"/>
<circle cx="247.8" cy="97.7" r="3.8" fill="#e85309"/>
<circle cx="247.8" cy="92.6" r="3.8" fill="#e84b09"/>
<circle cx="247.8" cy="87.5" r="3.8" fill="#e84909"/>
<circle cx="247.8" cy="82.5" r="3.8" fill="#e52408"/>
<circle cx="247.8" cy="77.4" r="3.8" fill="#e42308"/>
<circle cx="247.8" cy="72.3" r="3.8" fill="#e42108"/>
<circle cx="247.8" cy="67.3" r="3.8" fill="#e42108"/>
<circle cx="247.8" cy="62.2" r="3.8" fill="#e42108"/>
<circle cx="247.8" cy="57.1" r="3.8" fill="#e52408"/>
<circle cx="247.8" cy="52.1" r="3.8" fill="#e52408"/>
<circle cx="247.8" cy="47.0" r="3.8" fill="#e52508"/>
<circle cx="247.8" cy="41.9" r="3.8" fill="#e42208"/>
<circle cx="247.8" cy="36.9" r="3.8" fill="#e42208"/>
<circle cx="247.8" cy="31.8" r="3.8" fill="#e42308"/>
<circle cx="247.8" cy="26.7" r="3.8" fill="#e52408"/>
<circle cx="247.8" cy="21.7" r="3.8" fill="#e42108"/>
<circle cx="247.8" cy="16.6" r="3.8" fill="#e42108"/>
<circle cx="247.8" cy="163.7" r="3.8" fill="#7ae402"/>
<circle cx="247.8" cy="166.2" r="3.8" fill="#7ae402"/>
<circle cx="253.9" cy="199.0" r="3.8" fill="#7ae402"/>
<circle cx="253.9" cy="193.9" r="3.8" fill="#7ae402"/>
<circle cx="253.9" cy="188.9" r="3.8" fill="#7ae402"/>
<circle cx="253.9" cy="183.8" r="3.8" fill="#7ae402"/>
<circle cx="253.9" cy="178.7" r="3.8" fill="#7ae402"/>
<circle cx="253.9" cy="173.7" r="3.8" fill="#7ae402"/>
<circle cx="253.9" cy="168.6" r="3.8" fill="#7ae402"/>
<circle cx="253.9" cy="163.5" r="3.8" fill="#7ae402"/>
<circle cx="253.9" cy="158.5" r="3.8" fill="#e6a80c"/>
<circle cx="253.9" cy="133.1" r="3.8" fill="#e84208"/>
<circle cx="253.9" cy="128.1" r="3.8" fill="#e73608"/>
<circle cx="253.9" cy="123.0" r="3.8" fill="#e79f0b"/>
<circle cx="253.9" cy="117.9" r="3.8" fill="#e88a0a"/>
<circle cx="253.9" cy="112.9" r="3.8" fill="#e73208"/>
<circle cx="253.9" cy="107.8" r="3.8" fill="#e84008"/>
<circle cx="253.9" cy="102.7" r="3.8" fill="#e73808"/>
<circle cx="253.9" cy="97.7" r="3.8" fill="#e73608"/>
<circle cx="253.9" cy="92.6" r="3.8" fill="#e52808"/>
<circle cx="253.9" cy="87.5" r="3.8" fill="#e52508"/>
<circle cx="253.9" cy="82.5" r="3.8" fill="#e52408"/>
<circle cx="253.9" cy="77.4" r="3.8" fill="#e42308"/>
<circle cx="253.9" cy="72.3" r="3.8" fill="#e52408"/>
<circle cx="253.9" cy="67.3" r="3.8" fill="#e52808"/>
<circle cx="253.9" cy="62.2" r="3.8" fill="#e52708"/>
<circle cx="253.9" cy="57.1" r="3.8" fill="#e52708"/>
<circle cx="253.9" cy="52.1" r="3.8" fill="#e42308"/>
<circle cx="253.9" cy="47.0" r="3.8" fill="#e52708"/>
<circle cx="253.9" cy="41.9" r="3.8" fill="#e52508"/>
<circle cx="253.9" cy="36.9" r="3.8" fill="#e52508"/>
<circle cx="253.9" cy="31.8" r="3.8" fill="#e42308"/>
<circle cx="253.9" cy="26.7" r="3.8" fill="#e52408"/>
<circle cx="253.9" cy="21.7" r="3.8" fill="#e52408"/>
<circle cx="253.9" cy="16.6" r="3.8" fill="#e52508"/>
<circle cx="253.9" cy="160.2" r="3.8" fill="#7ae402"/>
<circle cx="253.9" cy="162.7" r="3.8" fill="#7ae402"/>
<circle cx="260.1" cy="199.0" r="3.8" fill="#7ae402"/>
<circle cx="260.1" cy="193.9" r="3.8" fill="#7ae402"/>
<circle cx="260.1" cy="188.9" r="3.8" fill="#7ae402"/>
<circle cx="260.1" cy="183.8" r="3.8" fill="#7ae402"/>
<circle cx="260.1" cy="178.7" r="3.8" fill="#7ae402"/>
<circle cx="260.1" cy="173.7" r="3.8" fill="#7ae402"/>
<circle cx="260.1" cy="168.6" r="3.8" fill="#7ae402"/>
<circle cx="260.1" cy="163.5" r="3.8" fill="#7ae402"/>
<circle cx="260.1" cy="158.5" r="3.8" fill="#7ae402"/>
<circle cx="260.1" cy="133.1" r="3.8" fill="#e7940b"/>
<circle cx="260.1" cy="128.1" r="3.8" fill="#e83908"/>
<circle cx="260.1" cy="123.0" r="3.8" fill="#e85609"/>
<circle cx="260.1" cy="117.9" r="3.8" fill="#e85c0a"/>
<circle cx="260.1" cy="112.9" r="3.8" fill="#e73708"/>
<circle cx="260.1" cy="107.8" r="3.8" fill="#e31908"/>
<circle cx="260.1" cy="102.7" r="3.8" fill="#e85409"/>
<circle cx="260.1" cy="97.7" r="3.8" fill="#e31b08"/>
<circle cx="260.1" cy="92.6" r="3.8" fill="#e31808"/>
<circle cx="260.1" cy="87.5" r="3.8" fill="#e31d08"/>
<circle cx="260.1" cy="82.5" r="3.8" fill="#e31908"/>
<circle cx="260.1" cy="77.4" r="3.8" fill="#e31908"/>
<circle cx="260.1" cy="72.3" r="3.8" fill="#e31a08"/>
<circle cx="260.1" cy="67.3" r="3.8" fill="#e31c08"/>
<circle cx="260.1" cy="62.2" r="3.8" fill="#e31d08"/>
<circle cx="260.1" cy="57.1" r="3.8" fill="#e31c08"/>
<circle cx="260.1" cy="52.1" r="3.8" fill="#e31908"/>
<circle cx="260.1" cy="47.0" r="3.8" fill="#e31c08"/>
<circle cx="260.1" cy="41.9" r="3.8" fill="#e31b08"/>
<circle cx="260.1" cy="36.9" r="3.8" fill="#e31908"/>
<circle cx="260.1" cy="31.8" r="3.8" fill="#e31b08"/>
<circle cx="260.1" cy="26.7" r="3.8" fill="#e31c08"/>
<circle cx="260.1" cy="21.7" r="3.8" fill="#e31b08"/>
<circle cx="260.1" cy="16.6" r="3.8" fill="#e31c08"/>
<circle cx="260.1" cy="158.0" r="3.8" fill="#7ae402"/>
<circle cx="260.1" cy="160.5" r="3.8" fill="#7ae402"/>
<circle cx="266.2" cy="199.0" r="3.8" fill="#7ae402"/>
<circle cx="266.2" cy="193.9" r="3.8" fill="#7ae402"/>
<circle cx="266.2" cy="188.9" r="3.8" fill="#7ae402"/>
<circle cx="266.2" cy="183.8" r="3.8" fill="#7ae402"/>
<circle cx="266.2" cy="178.7" r="3.8" fill="#7ae402"/>
<circle cx="266.2" cy="173.7" r="3.8" fill="#7ae402"/>
<circle cx="266.2" cy="168.6" r="3.8" fill="#7ae402"/>
<circle cx="266.2" cy="163.5" r="3.8" fill="#7ae402"/>
<circle cx="266.2" cy="158.5" r="3.8" fill="#7ae402"/>
<circle cx="266.2" cy="153.4" r="3.8" fill="#7ae402"/>
<circle cx="266.2" cy="123.0" r="3.8" fill="#e84308"/>
<circle cx="266.2" cy="117.9" r="3.8" fill="#e83908"/>
<circle cx="266.2" cy="112.9" r="3.8" fill="#e84208"/>
<circle cx="266.2" cy="107.8" r="3.8" fill="#e41f08"/>
<circle cx="266.2" cy="102.7" r="3.8" fill="#e42108"/>
<circle cx="266.2" cy="97.7" r="3.8" fill="#e42108"/>
<circle cx="266.2" cy="92.6" r="3.8" fill="#e31d08"/>
<circle cx="266.2" cy="87.5" r="3.8" fill="#e42108"/>
<circle cx="266.2" cy="82.5" r="3.8" fill="#e41f08"/>
<circle cx="266.2" cy="77.4" r="3.8" fill="#e31c08"/>
<circle cx="266.2" cy="72.3" r="3.8" fill="#e41e08"/>
<circle cx="266.2" cy="67.3" r="3.8" fill="#e41e08"/>
<circle cx="266.2" cy="62.2" r="3.8" fill="#e41f08"/>
<circle cx="266.2" cy="57.1" r="3.8" fill="#e41d08"/>
<circle cx="266.2" cy="52.1" r="3.8" fill="#e42008"/>
<circle cx="266.2" cy="47.0" r="3.8" fill="#e42008"/>
<circle cx="266.2" cy="41.9" r="3.8" fill="#e41f08"/>
<circle cx="266.2" cy="36.9" r="3.8" fill="#e41e08"/>
<circle cx="266.2" cy="31.8" r="3.8" fill="#e41e08"/>
<circle cx="266.2" cy="26.7" r="3.8" fill="#e31c08"/>
<circle cx="266.2" cy="21.7" r="3.8" fill="#e42108"/>
<circle cx="266.2" cy="16.6" r="3.8" fill="#e42008"/>
<circle cx="266.2" cy="151.1" r="3.8" fill="#7ae402"/>
<circle cx="266.2" cy="153.6" r="3.8" fill="#7ae402"/>
<circle cx="272.4" cy="199.0" r="3.8" fill="#7ae402"/>
<circle cx="272.4" cy="193.9" r="3.8" fill="#7ae402"/>
<circle cx="272.4" cy="188.9" r="3.8" fill="#7ae402"/>
<circle cx="272.4" cy="183.8" r="3.8" fill="#7ae402"/>
<circle cx="272.4" cy="178.7" r="3.8" fill="#7ae402"/>
<circle cx="272.4" cy="173.7" r="3.8" fill="#7ae402"/>
<circle cx="272.4" cy="168.6" r="3.8" fill="#7ae402"/>
<circle cx="272.4" cy="163.5" r="3.8" fill="#7ae402"/>
<circle cx="272.4" cy="158.5" r="3.8" fill="#7ae402"/>
<circle cx="272.4" cy="153.4" r="3.8" fill="#7ae402"/>
<circle cx="272.4" cy="138.2" r="3.8" fill="#7ce303"/>
<circle cx="272.4" cy="128.1" r="3.8" fill="#e84c09"/>
<circle cx="272.4" cy="123.0" r="3.8" fill="#e85609"/>
<circle cx="272.4" cy="117.9" r="3.8" fill="#e84b09"/>
<circle cx="272.4" cy="112.9" r="3.8" fill="#e83c08"/>
<circle cx="272.4" cy="107.8" r="3.8" fill="#e42208"/>
<circle cx="272.4" cy="102.7" r="3.8" fill="#e52408"/>
<circle cx="272.4" cy="97.7" r="3.8" fill="#e52508"/>
<circle cx="272.4" cy="92.6" r="3.8" fill="#e52408"/>
<circle cx="272.4" cy="87.5" r="3.8" fill="#e52508"/>
<circle cx="272.4" cy="82.5" r="3.8" fill="#e42108"/>
<circle cx="272.4" cy="77.4" r="3.8" fill="#e42208"/>
<circle cx="272.4" cy="72.3" r="3.8" fill="#e52408"/>
<circle cx="272.4" cy="67.3" r="3.8" fill="#e42308"/>
<circle cx="272.4" cy="62.2" r="3.8" fill="#e42108"/>
<circle cx="272.4" cy="57.1" r="3.8" fill="#e52508"/>
<circle cx="272.4" cy="52.1" r="3.8" fill="#e52508"/>
<circle cx="272.4" cy="47.0" r="3.8" fill="#e42308"/>
<circle cx="272.4" cy="41.9" r="3.8" fill="#e42108"/>
<circle cx="272.4" cy="36.9" r="3.8" fill="#e42108"/>
<circle cx="272.4" cy="31.8" r="3.8" fill="#e42208"/>
<circle cx="272.4" cy="26.7" r="3.8" fill="#e52608"/>
<circle cx="272.4" cy="21.7" r="3.8" fill="#e52408"/>
<circle cx="272.4" cy="16.6" r="3.8" fill="#e42308"/>
<circle cx="272.4" cy="150.0" r="3.8" fill="#7ae402"/>
<circle cx="272.4" cy="152.5" r="3.8" fill="#7ae402"/>
<circle cx="278.5" cy="199.0" r="3.8" fill="#7ae402"/>
<circle cx="278.5" cy="193.9" r="3.8" fill="#7ae402"/>
<circle cx="278.5" cy="188.9" r="3.8" fill="#7ae402"/>
<circle cx="278.5" cy="183.8" r="3.8" fill="#7ae402"/>
<circle cx="278.5" cy="178.7" r="3.8" fill="#7ae402"/>
<circle cx="278.5" cy="173.7" r="3.8" fill="#7ae402"/>
<circle cx="278.5" cy="168.6" r="3.8" fill="#7ae402"/>
<circle cx="278.5" cy="163.5" r="3.8" fill="#7ae402"/>
<circle cx="278.5" cy="158.5" r="3.8" fill="#7ae402"/>
<circle cx="278.5" cy="153.4" r="3.8" fill="#7ae402"/>
<circle cx="278.5" cy="133.1" r="3.8" fill="#e6a70c"/>
<circle cx="278.5" cy="117.9" r="3.8" fill="#e42308"/>
<circle cx="278.5" cy="112.9" r="3.8" fill="#e52508"/>
<circle cx="278.5" cy="107.8" r="3.8" fill="#e52508"/>
<circle cx="278.5" cy="102.7" r="3.8" fill="#e42308"/>
<circle cx="278.5" cy="97.7" r="3.8" fill="#e42208"/>
<circle cx="278.5" cy="92.6" r="3.8" fill="#e52608"/>
<circle cx="278.5" cy="87.5" r="3.8" fill="#e52508"/>
<circle cx="278.5" cy="82.5" r="3.8" fill="#e42308"/>
<circle cx="278.5" cy="77.4" r="3.8" fill="#e52408"/>
<circle cx="278.5" cy="72.3" r="3.8" fill="#e42208"/>
<circle cx="278.5" cy="67.3" r="3.8" fill="#e52408"/>
<circle cx="278.5" cy="62.2" r="3.8" fill="#e42208"/>
<circle cx="278.5" cy="57.1" r="3.8" fill="#e52508"/>
<circle cx="278.5" cy="52.1" r="3.8" fill="#e42208"/>
<circle cx="278.5" cy="47.0" r="3.8" fill="#e52408"/>
<circle cx="278.5" cy="41.9" r="3.8" fill="#e42208"/>
<circle cx="278.5" cy="36.9" r="3.8" fill="#e42308"/>
<circle cx="278.5" cy="31.8" r="3.8" fill="#e42208"/>
<circle cx="278.5" cy="26.7" r="3.8" fill="#e52508"/>
<circle cx="278.5" cy="21.7" r="3.8" fill="#e52408"/>
<circle cx="278.5" cy="16.6" r="3.8" fill="#e42108"/>
<circle cx="278.5" cy="151.1" r="3.8" fill="#7ae402"/>
<circle cx="278.5" cy="153.6" r="3.8" fill="#7ae402"/>
<circle cx="284.7" cy="199.0" r="3.8" fill="#7ae402"/>
<circle cx="284.7" cy="193.9" r="3.8" fill="#7ae402"/>
<circle cx="284.7" cy="188.9" r="3.8" fill="#7ae402"/>
<circle cx="284.7" cy="183.8" r="3.8" fill="#7ae402"/>
<circle cx="284.7" cy="178.7" r="3.8" fill="#7ae402"/>
<circle cx="284.7" cy="173.7" r="3.8" fill="#7ae402"/>
<circle cx="284.7" cy="168.6" r="3.8" fill="#7ae402"/>
<circle cx="284.7" cy="163.5" r="3.8" fill="#7ae402"/>
<circle cx="284.7" cy="153.4" r="3.8" fill="#e5b00d"/>
<circle cx="284.7" cy="138.2" r="3.8" fill="#97dc10"/>
<circle cx="284.7" cy="133.1" r="3.8" fill="#e41f08"/>
<circle cx="284.7" cy="128.1" r="3.8" fill="#e85309"/>
<circle cx="284.7" cy="123.0" r="3.8" fill="#e84a09"/>
<circle cx="284.7" cy="117.9" r="3.8" fill="#e42108"/>
<circle cx="284.7" cy="112.9" r="3.8" fill="#e42308"/>
<circle cx="284.7" cy="107.8" r="3.8" fill="#e42108"/>
<circle cx="284.7" cy="102.7" r="3.8" fill="#e52408"/>
<circle cx="284.7" cy="97.7" r="3.8" fill="#e42008"/>
<circle cx="284.7" cy="92.6" r="3.8" fill="#e41f08"/>
<circle cx="284.7" cy="87.5" r="3.8" fill="#e42308"/>
<circle cx="284.7" cy="82.5" r="3.8" fill="#e42008"/>
<circle cx="284.7" cy="77.4" r="3.8" fill="#e41f08"/>
<circle cx="284.7" cy="72.3" r="3.8" fill="#e42308"/>
<circle cx="284.7" cy="67.3" r="3.8" fill="#e42208"/>
<circle cx="284.7" cy="62.2" r="3.8" fill="#e42008"/>
<circle cx="284.7" cy="57.1" r="3.8" fill="#e42308"/>
<circle cx="284.7" cy="52.1" r="3.8" fill="#e41f08"/>
<circle cx="284.7" cy="47.0" r="3.8" fill="#e42008"/>
<circle cx="284.7" cy="41.9" r="3.8" fill="#e42008"/>
<circle cx="284.7" cy="31.8" r="3.8" fill="#e42008"/>
<circle cx="284.7" cy="26.7" r="3.8" fill="#e42108"/>
<circle cx="284.7" cy="21.7" r="3.8" fill="#e42208"/>
<circle cx="284.7" cy="16.6" r="3.8" fill="#e42108"/>
<circle cx="284.7" cy="159.1" r="3.8" fill="#7ae402"/>
<circle cx="284.7" cy="161.6" r="3.8" fill="#7ae402"/>
<circle cx="290.8" cy="199.0" r="3.8" fill="#7ae402"/>
<circle cx="290.8" cy="193.9" r="3.8" fill="#7ae402"/>
<circle cx="290.8" cy="188.9" r="3.8" fill="#7ae402"/>
<circle cx="290.8" cy="183.8" r="3.8" fill="#7ae402"/>
<circle cx="290.8" cy="178.7" r="3.8" fill="#7ae402"/>
<circle cx="290.8" cy="173.7" r="3.8" fill="#7ae402"/>
<circle cx="290.8" cy="168.6" r="3.8" fill="#7ae402"/>
<circle cx="290.8" cy="163.5" r="3.8" fill="#7ae402"/>
<circle cx="290.8" cy="158.5" r="3.8" fill="#87e009"/>
<circle cx="290.8" cy="148.3" r="3.8" fill="#e85a0a"/>
<circle cx="290.8" cy="143.3" r="3.8" fill="#e42208"/>
<circle cx="290.8" cy="138.2" r="3.8" fill="#e41e08"/>
<circle cx="290.8" cy="133.1" r="3.8" fill="#e2c710"/>
<circle cx="290.8" cy="128.1" r="3.8" fill="#e6a40c"/>
<circle cx="290.8" cy="123.0" r="3.8" fill="#e41f08"/>
<circle cx="290.8" cy="117.9" r="3.8" fill="#e41e08"/>
<circle cx="290.8" cy="112.9" r="3.8" fill="#e42008"/>
<circle cx="290.8" cy="107.8" r="3.8" fill="#e41e08"/>
<circle cx="290.8" cy="102.7" r="3.8" fill="#e31c08"/>
<circle cx="290.8" cy="97.7" r="3.8" fill="#e41f08"/>
<circle cx="290.8" cy="92.6" r="3.8" fill="#e41d08"/>
<circle cx="290.8" cy="87.5" r="3.8" fill="#e31c08"/>
<circle cx="290.8" cy="82.5" r="3.8" fill="#e41e08"/>
<circle cx="290.8" cy="77.4" r="3.8" fill="#e41e08"/>
<circle cx="290.8" cy="72.3" r="3.8" fill="#e31c08"/>
<circle cx="290.8" cy="67.3" r="3.8" fill="#e41e08"/>
<circle cx="290.8" cy="62.2" r="3.8" fill="#e41d08"/>
<circle cx="290.8" cy="57.1" r="3.8" fill="#e41f08"/>
<circle cx="290.8" cy="52.1" r="3.8" fill="#e31d08"/>
<circle cx="290.8" cy="47.0" r="3.8" fill="#e31c08"/>
<circle cx="290.8" cy="41.9" r="3.8" fill="#e31c08"/>
<circle cx="290.8" cy="36.9" r="3.8" fill="#e41f08"/>
<circle cx="290.8" cy="31.8" r="3.8" fill="#e41e08"/>
<circle cx="290.8" cy="26.7" r="3.8" fill="#e41d08"/>
<circle cx="290.8" cy="21.7" r="3.8" fill="#e41f08"/>
<circle cx="290.8" cy="16.6" r="3.8" fill="#e41e08"/>
<circle cx="290.8" cy="162.5" r="3.8" fill="#7ae402"/>
<circle cx="290.8" cy="165.0" r="3.8" fill="#7ae402"/>
<circle cx="297.0" cy="199.0" r="3.8" fill="#7ae402"/>
<circle cx="297.0" cy="193.9" r="3.8" fill="#7ae402"/>
<circle cx="297.0" cy="188.9" r="3.8" fill="#7ae402"/>
<circle cx="297.0" cy="183.8" r="3.8" fill="#7ae402"/>
<circle cx="297.0" cy="178.7" r="3.8" fill="#7ae402"/>
<circle cx="297.0" cy="173.7" r="3.8" fill="#7ae402"/>
<circle cx="297.0" cy="168.6" r="3.8" fill="#7ae402"/>
<circle cx="297.0" cy="163.5" r="3.8" fill="#e73308"/>
<circle cx="297.0" cy="158.5" r="3.8" fill="#a4da12"/>
<circle cx="297.0" cy="148.3" r="3.8" fill="#e85e0a"/>
<circle cx="297.0" cy="143.3" r="3.8" fill="#e73708"/>
<circle cx="297.0" cy="138.2" r="3.8" fill="#e41d08"/>
<circle cx="297.0" cy="133.1" r="3.8" fill="#e52608"/>
<circle cx="297.0" cy="128.1" r="3.8" fill="#e52608"/>
<circle cx="297.0" cy="123.0" r="3.8" fill="#e42208"/>
<circle cx="297.0" cy="117.9" r="3.8" fill="#e52508"/>
<circle cx="297.0" cy="112.9" r="3.8" fill="#e52508"/>
<circle cx="297.0" cy="107.8" r="3.8" fill="#e42208"/>
<circle cx="297.0" cy="102.7" r="3.8" fill="#e42308"/>
<circle cx="297.0" cy="97.7" r="3.8" fill="#e42308"/>
<circle cx="297.0" cy="92.6" r="3.8" fill="#e42308"/>
<circle cx="297.0" cy="87.5" r="3.8" fill="#e42308"/>
<circle cx="297.0" cy="82.5" r="3.8" fill="#e52408"/>
<circle cx="297.0" cy="77.4" r="3.8" fill="#e52708"/>
<circle cx="297.0" cy="72.3" r="3.8" fill="#e52408"/>
<circle cx="297.0" cy="67.3" r="3.8" fill="#e52608"/>
<circle cx="297.0" cy="62.2" r="3.8" fill="#e42308"/>
<circle cx="297.0" cy="57.1" r="3.8" fill="#e52708"/>
<circle cx="297.0" cy="52.1" r="3.8" fill="#e52508"/>
<circle cx="297.0" cy="47.0" r="3.8" fill="#e52708"/>
<circle cx="297.0" cy="41.9" r="3.8" fill="#e52508"/>
<circle cx="297.0" cy="36.9" r="3.8" fill="#e42308"/>
<circle cx="297.0" cy="31.8" r="3.8" fill="#e52408"/>
<circle cx="297.0" cy="26.7" r="3.8" fill="#e52708"/>
<circle cx="297.0" cy="21.7" r="3.8" fill="#e52608"/>
<circle cx="297.0" cy="16.6" r="3.8" fill="#e52408"/>
<circle cx="297.0" cy="167.5" r="3.8" fill="#7ae402"/>
<circle cx="297.0" cy="170.0" r="3.8" fill="#7ae402"/>
<circle cx="303.1" cy="199.0" r="3.8" fill="#7ae402"/>
<circle cx="303.1" cy="193.9" r="3.8" fill="#7ae402"/>
<circle cx="303.1" cy="188.9" r="3.8" fill="#7ae402"/>
<circle cx="303.1" cy="183.8" r="3.8" fill="#7ae402"/>
<circle cx="303.1" cy="178.7" r="3.8" fill="#7ae402"/>
<circle cx="303.1" cy="173.7" r="3.8" fill="#7ae402"/>
<circle cx="303.1" cy="168.6" r="3.8" fill="#e3c410"/>
<circle cx="303.1" cy="163.5" r="3.8" fill="#e6ad0d"/>
<circle cx="303.1" cy="158.5" r="3.8" fill="#e2cb10"/>
<circle cx="303.1" cy="148.3" r="3.8" fill="#e83a08"/>
<circle cx="303.1" cy="143.3" r="3.8" fill="#e85a0a"/>
<circle cx="303.1" cy="138.2" r="3.8" fill="#e42008"/>
<circle cx="303.1" cy="133.1" r="3.8" fill="#e73708"/>
<circle cx="303.1" cy="128.1" r="3.8" fill="#e42208"/>
<circle cx="303.1" cy="123.0" r="3.8" fill="#e41e08"/>
<circle cx="303.1" cy="117.9" r="3.8" fill="#e41e08"/>
<circle cx="303.1" cy="112.9" r="3.8" fill="#e31c08"/>
<circle cx="303.1" cy="107.8" r="3.8" fill="#e31d08"/>
<circle cx="303.1" cy="102.7" r="3.8" fill="#e31c08"/>
<circle cx="303.1" cy="97.7" r="3.8" fill="#e41d08"/>
<circle cx="303.1" cy="92.6" r="3.8" fill="#e41f08"/>
<circle cx="303.1" cy="87.5" r="3.8" fill="#e41e08"/>
<circle cx="303.1" cy="82.5" r="3.8" fill="#e41f08"/>
<circle cx="303.1" cy="77.4" r="3.8" fill="#e42008"/>
<circle cx="303.1" cy="72.3" r="3.8" fill="#e31d08"/>
<circle cx="303.1" cy="67.3" r="3.8" fill="#e31d08"/>
<circle cx="303.1" cy="62.2" r="3.8" fill="#e41e08"/>
<circle cx="303.1" cy="57.1" r="3.8" fill="#e31d08"/>
<circle cx="303.1" cy="52.1" r="3.8" fill="#e41e08"/>
<circle cx="303.1" cy="47.0" r="3.8" fill="#e31d08"/>
<circle cx="303.1" cy="41.9" r="3.8" fill="#e31d08"/>
<circle cx="303.1" cy="36.9" r="3.8" fill="#e41d08"/>
<circle cx="303.1" cy="31.8" r="3.8" fill="#e31c08"/>
<circle cx="303.1" cy="26.7" r="3.8" fill="#e41e08"/>
<circle cx="303.1" cy="21.7" r="3.8" fill="#e41f08"/>
<circle cx="303.1" cy="16.6" r="3.8" fill="#e31c08"/>
<circle cx="303.1" cy="168.7" r="3.8" fill="#7ae402"/>
<circle cx="303.1" cy="171.2" r="3.8" fill="#7ae402"/>
<circle cx="309.3" cy="199.0" r="3.8" fill="#7ae402"/>
<circle cx="309.3" cy="193.9" r="3.8" fill="#7ae402"/>
<circle cx="309.3" cy="188.9" r="3.8" fill="#7ae402"/>
<circle cx="309.3" cy="183.8" r="3.8" fill="#7ae402"/>
<circle cx="309.3" cy="178.7" r="3.8" fill="#7ae402"/>
<circle cx="309.3" cy="173.7" r="3.8" fill="#7ae402"/>
<circle cx="309.3" cy="168.6" r="3.8" fill="#7ae402"/>
<circle cx="309.3" cy="158.5" r="3.8" fill="#e0d310"/>
<circle cx="309.3" cy="148.3" r="3.8" fill="#e84709"/>
<circle cx="309.3" cy="143.3" r="3.8" fill="#e52708"/>
<circle cx="309.3" cy="133.1" r="3.8" fill="#e31d08"/>
<circle cx="309.3" cy="128.1" r="3.8" fill="#e41d08"/>
<circle cx="309.3" cy="123.0" r="3.8" fill="#e31d08"/>
<circle cx="309.3" cy="117.9" r="3.8" fill="#e31a08"/>
<circle cx="309.3" cy="112.9" r="3.8" fill="#e31c08"/>
<circle cx="309.3" cy="107.8" r="3.8" fill="#e31a08"/>
<circle cx="309.3" cy="102.7" r="3.8" fill="#e31b08"/>
<circle cx="309.3" cy="97.7" r="3.8" fill="#e41e08"/>
<circle cx="309.3" cy="92.6" r="3.8" fill="#e41e08"/>
<circle cx="309.3" cy="87.5" r="3.8" fill="#e31a08"/>
<circle cx="309.3" cy="82.5" r="3.8" fill="#e41e08"/>
<circle cx="309.3" cy="77.4" r="3.8" fill="#e31a08"/>
<circle cx="309.3" cy="72.3" r="3.8" fill="#e31c08"/>
<circle cx="309.3" cy="67.3" r="3.8" fill="#e31c08"/>
<circle cx="309.3" cy="62.2" r="3.8" fill="#e41e08"/>
<circle cx="309.3" cy="57.1" r="3.8" fill="#e31a08"/>
<circle cx="309.3" cy="52.1" r="3.8" fill="#e31d08"/>
<circle cx="309.3" cy="47.0" r="3.8" fill="#e41d08"/>
<circle cx="309.3" cy="41.9" r="3.8" fill="#e31c08"/>
<circle cx="309.3" cy="36.9" r="3.8" fill="#e41d08"/>
<circle cx="309.3" cy="31.8" r="3.8" fill="#e31b08"/>
<circle cx="309.3" cy="26.7" r="3.8" fill="#e41e08"/>
<circle cx="309.3" cy="21.7" r="3.8" fill="#e31a08"/>
<circle cx="309.3" cy="16.6" r="3.8" fill="#e41e08"/>
<circle cx="309.3" cy="168.4" r="3.8" fill="#7ae402"/>
<circle cx="309.3" cy="171.0" r="3.8" fill="#7ae402"/>
<circle cx="315.4" cy="199.0" r="3.8" fill="#7ae402"/>
<circle cx="315.4" cy="193.9" r="3.8" fill="#7ae402"/>
<circle cx="315.4" cy="188.9" r="3.8" fill="#7ae402"/>
<circle cx="315.4" cy="183.8" r="3.8" fill="#7ae402"/>
<circle cx="315.4" cy="178.7" r="3.8" fill="#7ae402"/>
<circle cx="315.4" cy="173.7" r="3.8" fill="#7ae402"/>
<circle cx="315.4" cy="168.6" r="3.8" fill="#7ae402"/>
<circle cx="315.4" cy="163.5" r="3.8" fill="#e85109"/>
<circle cx="315.4" cy="153.4" r="3.8" fill="#e1ce10"/>
<circle cx="315.4" cy="143.3" r="3.8" fill="#e31c08"/>
<circle cx="315.4" cy="138.2" r="3.8" fill="#e42108"/>
<circle cx="315.4" cy="133.1" r="3.8" fill="#e42208"/>
<circle cx="315.4" cy="128.1" r="3.8" fill="#e42308"/>
<circle cx="315.4" cy="123.0" r="3.8" fill="#e42308"/>
<circle cx="315.4" cy="117.9" r="3.8" fill="#e42008"/>
<circle cx="315.4" cy="112.9" r="3.8" fill="#e42208"/>
<circle cx="315.4" cy="107.8" r="3.8" fill="#e42008"/>
<circle cx="315.4" cy="102.7" r="3.8" fill="#e42008"/>
<circle cx="315.4" cy="97.7" r="3.8" fill="#e42208"/>
<circle cx="315.4" cy="92.6" r="3.8" fill="#e41e08"/>
<circle cx="315.4" cy="87.5" r="3.8" fill="#e41f08"/>
<circle cx="315.4" cy="82.5" r="3.8" fill="#e42008"/>
<circle cx="315.4" cy="77.4" r="3.8" fill="#e42308"/>
<circle cx="315.4" cy="72.3" r="3.8" fill="#e42208"/>
<circle cx="315.4" cy="67.3" r="3.8" fill="#e42008"/>
<circle cx="315.4" cy="62.2" r="3.8" fill="#e42008"/>
<circle cx="315.4" cy="57.1" r="3.8" fill="#e42008"/>
<circle cx="315.4" cy="52.1" r="3.8" fill="#e42108"/>
<circle cx="315.4" cy="47.0" r="3.8" fill="#e41e08"/>
<circle cx="315.4" cy="41.9" r="3.8" fill="#e41f08"/>
<circle cx="315.4" cy="36.9" r="3.8" fill="#e42208"/>
<circle cx="315.4" cy="31.8" r="3.8" fill="#e41e08"/>
<circle cx="315.4" cy="26.7" r="3.8" fill="#e42208"/>
<circle cx="315.4" cy="21.7" r="3.8" fill="#e42208"/>
<circle cx="315.4" cy="16.6" r="3.8" fill="#e42108"/>
<circle cx="315.4" cy="164.8" r="3.8" fill="#7ae402"/>
<circle cx="315.4" cy="167.3" r="3.8" fill="#7ae402"/>
<circle cx="321.6" cy="199.0" r="3.8" fill="#7ae402"/>
<circle cx="321.6" cy="193.9" r="3.8" fill="#7ae402"/>
<circle cx="321.6" cy="188.9" r="3.8" fill="#7ae402"/>
<circle cx="321.6" cy="183.8" r="3.8" fill="#7ae402"/>
<circle cx="321.6" cy="178.7" r="3.8" fill="#7ae402"/>
<circle cx="321.6" cy="173.7" r="3.8" fill="#7ae402"/>
<circle cx="321.6" cy="163.5" r="3.8" fill="#9bdb11"/>
<circle cx="321.6" cy="153.4" r="3.8" fill="#e1cf10"/>
<circle cx="321.6" cy="148.3" r="3.8" fill="#e8590a"/>
<circle cx="321.6" cy="143.3" r="3.8" fill="#e85a0a"/>
<circle cx="321.6" cy="138.2" r="3.8" fill="#e2ca10"/>
<circle cx="321.6" cy="133.1" r="3.8" fill="#e84108"/>
<circle cx="321.6" cy="123.0" r="3.8" fill="#e84f09"/>
<circle cx="321.6" cy="117.9" r="3.8" fill="#e83d08"/>
<circle cx="321.6" cy="112.9" r="3.8" fill="#e7940b"/>
<circle cx="321.6" cy="107.8" r="3.8" fill="#e84d09"/>
<circle cx="321.6" cy="97.7" r="3.8" fill="#e5b00d"/>
<circle cx="321.6" cy="92.6" r="3.8" fill="#e73308"/>
<circle cx="321.6" cy="87.5" r="3.8" fill="#e84108"/>
<circle cx="321.6" cy="77.4" r="3.8" fill="#e84809"/>
<circle cx="321.6" cy="72.3" r="3.8" fill="#e85009"/>
<circle cx="321.6" cy="67.3" r="3.8" fill="#e85d0a"/>
<circle cx="321.6" cy="62.2" r="3.8" fill="#e73308"/>
<circle cx="321.6" cy="47.0" r="3.8" fill="#e73808"/>
<circle cx="321.6" cy="41.9" r="3.8" fill="#e84008"/>
<circle cx="321.6" cy="26.7" r="3.8" fill="#e73608"/>
<circle cx="321.6" cy="21.7" r="3.8" fill="#e73308"/>
<circle cx="321.6" cy="169.4" r="3.8" fill="#7ae402"/>
<circle cx="321.6" cy="171.9" r="3.8" fill="#7ae402"/>
<circle cx="327.7" cy="199.0" r="3.8" fill="#7ae402"/>
<circle cx="327.7" cy="193.9" r="3.8" fill="#7ae402"/>
<circle cx="327.7" cy="188.9" r="3.8" fill="#7ae402"/>
<circle cx="327.7" cy="183.8" r="3.8" fill="#7ae402"/>
<circle cx="327.7" cy="178.7" r="3.8" fill="#7ae402"/>
<circle cx="327.7" cy="173.7" r="3.8" fill="#7ae402"/>
<circle cx="327.7" cy="168.6" r="3.8" fill="#90de0d"/>
<circle cx="327.7" cy="163.5" r="3.8" fill="#7ee304"/>
<circle cx="327.7" cy="153.4" r="3.8" fill="#e8600a"/>
<circle cx="327.7" cy="148.3" r="3.8" fill="#d6d511"/>
<circle cx="327.7" cy="143.3" r="3.8" fill="#e84809"/>
<circle cx="327.7" cy="138.2" r="3.8" fill="#e84e09"/>
<circle cx="327.7" cy="128.1" r="3.8" fill="#e3c310"/>
<circle cx="327.7" cy="123.0" r="3.8" fill="#e63108"/>
<circle cx="327.7" cy="117.9" r="3.8" fill="#e85209"/>
<circle cx="327.7" cy="112.9" r="3.8" fill="#e73408"/>
<circle cx="327.7" cy="107.8" r="3.8" fill="#e84509"/>
<circle cx="327.7" cy="97.7" r="3.8" fill="#e73608"/>
<circle cx="327.7" cy="92.6" r="3.8" fill="#e73808"/>
<circle cx="327.7" cy="87.5" r="3.8" fill="#e85009"/>
<circle cx="327.7" cy="82.5" r="3.8" fill="#e8590a"/>
<circle cx="327.7" cy="52.1" r="3.8" fill="#e73408"/>
<circle cx="327.7" cy="41.9" r="3.8" fill="#e73708"/>
<circle cx="327.7" cy="36.9" r="3.8" fill="#e84809"/>
<circle cx="327.7" cy="31.8" r="3.8" fill="#e83c08"/>
<circle cx="327.7" cy="21.7" r="3.8" fill="#e85509"/>
<circle cx="327.7" cy="169.4" r="3.8" fill="#7ae402"/>
<circle cx="327.7" cy="171.9" r="3.8" fill="#7ae402"/>
<circle cx="333.9" cy="199.0" r="3.8" fill="#7ae402"/>
<circle cx="333.9" cy="193.9" r="3.8" fill="#7ae402"/>
<circle cx="333.9" cy="188.9" r="3.8" fill="#7ae402"/>
<circle cx="333.9" cy="183.8" r="3.8" fill="#7ae402"/>
<circle cx="333.9" cy="178.7" r="3.8" fill="#7ae402"/>
<circle cx="333.9" cy="173.7" r="3.8" fill="#7ae402"/>
<circle cx="333.9" cy="168.6" r="3.8" fill="#7ae402"/>
<circle cx="333.9" cy="163.5" r="3.8" fill="#e73708"/>
<circle cx="333.9" cy="153.4" r="3.8" fill="#e4bb0f"/>
<circle cx="333.9" cy="148.3" r="3.8" fill="#7fe304"/>
<circle cx="333.9" cy="143.3" r="3.8" fill="#e83f08"/>
<circle cx="333.9" cy="138.2" r="3.8" fill="#e83908"/>
<circle cx="333.9" cy="133.1" r="3.8" fill="#e84208"/>
<circle cx="333.9" cy="123.0" r="3.8" fill="#e85709"/>
<circle cx="333.9" cy="107.8" r="3.8" fill="#e4c010"/>
<circle cx="333.9" cy="97.7" r="3.8" fill="#e87b0a"/>
<circle cx="333.9" cy="82.5" r="3.8" fill="#e73508"/>
<circle cx="333.9" cy="77.4" r="3.8" fill="#e84909"/>
<circle cx="333.9" cy="26.7" r="3.8" fill="#e83f08"/>
<circle cx="333.9" cy="167.1" r="3.8" fill="#7ae402"/>
<circle cx="333.9" cy="169.6" r="3.8" fill="#7ae402"/>
<circle cx="340.0" cy="199.0" r="3.8" fill="#7ae402"/>
<circle cx="340.0" cy="193.9" r="3.8" fill="#7ae402"/>
<circle cx="340.0" cy="188.9" r="3.8" fill="#7ae402"/>
<circle cx="340.0" cy="183.8" r="3.8" fill="#7ae402"/>
<circle cx="340.0" cy="178.7" r="3.8" fill="#7ae402"/>
<circle cx="340.0" cy="173.7" r="3.8" fill="#7ae402"/>
<circle cx="340.0" cy="168.6" r="3.8" fill="#7ae402"/>
<circle cx="340.0" cy="148.3" r="3.8" fill="#e84609"/>
<circle cx="340.0" cy="143.3" r="3.8" fill="#e84408"/>
<circle cx="340.0" cy="138.2" r="3.8" fill="#e7970b"/>
<circle cx="340.0" cy="133.1" r="3.8" fill="#e85009"/>
<circle cx="340.0" cy="128.1" r="3.8" fill="#e88e0a"/>
<circle cx="340.0" cy="123.0" r="3.8" fill="#e6ac0d"/>
<circle cx="340.0" cy="117.9" r="3.8" fill="#e73308"/>
<circle cx="340.0" cy="112.9" r="3.8" fill="#e85209"/>
<circle cx="340.0" cy="107.8" r="3.8" fill="#e6a60c"/>
<circle cx="340.0" cy="102.7" r="3.8" fill="#e73708"/>
<circle cx="340.0" cy="97.7" r="3.8" fill="#e83a08"/>
<circle cx="340.0" cy="77.4" r="3.8" fill="#e73508"/>
<circle cx="340.0" cy="31.8" r="3.8" fill="#e85109"/>
<circle cx="340.0" cy="21.7" r="3.8" fill="#e85309"/>
<circle cx="340.0" cy="164.8" r="3.8" fill="#7ae402"/>
<circle cx="340.0" cy="167.3" r="3.8" fill="#7ae402"/>
</g>
<path d="M222.8 61.2L267 106" stroke="#fff" stroke-width="2.2" fill="none" stroke-dasharray="4.6 1.7"/>
<circle cx="112.5" cy="183.8" r="3.8" fill="#80e205"/>
<circle cx="155.6" cy="47.0" r="3.8" fill="#e8590a"/>
<circle cx="167.9" cy="26.7" r="3.8" fill="#e8600a"/>
<circle cx="149.4" cy="16.6" r="3.8" fill="#e63108"/>
<circle cx="149.4" cy="26.7" r="3.8" fill="#e73608"/>
<circle cx="143.3" cy="16.6" r="3.8" fill="#e52608"/>
<circle cx="143.3" cy="21.7" r="3.8" fill="#e52608"/>
<circle cx="143.3" cy="26.7" r="3.8" fill="#e62b08"/>
<circle cx="143.3" cy="31.8" r="3.8" fill="#e52608"/>
<circle cx="143.3" cy="36.9" r="3.8" fill="#e52608"/>
<circle cx="143.3" cy="41.9" r="3.8" fill="#e62b08"/>
<rect x="107.0" y="0" width="35.8" height="48.8" fill="#fff"/>
<rect x="168.5" y="0" width="35.8" height="48.8" fill="#fff"/>
<rect x="199.2" y="0" width="35.8" height="48.8" fill="#fff"/>
<rect x="123.30" y="41" width="3.4" height="158.5" fill="#262626" fill-opacity="0.75"/>
<rect x="184.75" y="45.5" width="3.1" height="154.0" fill="#262626" fill-opacity="0.75"/>
<rect x="215.35" y="40.5" width="3.3" height="159.0" fill="#262626" fill-opacity="0.75"/>
<text class="ss" font-size="11" text-anchor="end" transform="translate(129.6,21.6) rotate(-90)">HO</text>
<text class="ss" font-size="11" text-anchor="end" transform="translate(191.7,21.6) rotate(-90)">TDc</text>
<text class="ss" font-size="11" text-anchor="end" transform="translate(222.3,21.6) rotate(-90)">TO</text>
<circle cx="192.2" cy="162.5" r="5.6" fill="#fff" stroke="#000" stroke-width="1.5"/>
<path d="M189.6 159.9L194.79999999999998 165.1M189.6 165.1L194.79999999999998 159.9" stroke="#000" stroke-width="1.5" fill="none"/>
<text x="32.3" y="212.7" font-size="10.5" text-anchor="middle">0</text>
<text x="93.8" y="212.7" font-size="10.5" text-anchor="middle">20</text>
<text x="155.3" y="212.7" font-size="10.5" text-anchor="middle">40</text>
<text x="216.7" y="212.7" font-size="10.5" text-anchor="middle">60</text>
<text x="278.2" y="212.7" font-size="10.5" text-anchor="middle">80</text>
<text x="339.7" y="212.7" font-size="10.5" text-anchor="middle">100</text>
<text x="28.4" y="202.2" font-size="10.5" text-anchor="end">0</text>
<text x="28.4" y="156.6" font-size="10.5" text-anchor="end">20</text>
<text x="28.4" y="111.0" font-size="10.5" text-anchor="end">40</text>
<text x="28.4" y="65.4" font-size="10.5" text-anchor="end">60</text>
<text x="28.4" y="19.8" font-size="10.5" text-anchor="end">80</text>
<text x="137.9" y="227.4" font-size="11" font-style="italic">gc</text>
<text x="148.8" y="230.1" font-size="10.8" textLength="12.6" lengthAdjust="spacing">off</text>
<text x="164.9" y="227.4" font-size="11.5" textLength="69.3" lengthAdjust="spacing">(% gait cycle)</text>
<g transform="translate(10.4,153.9) rotate(-90)">
<text x="0" y="0" font-size="11" font-style="italic">t</text>
<text x="4.4" y="2.6" font-size="10.8" textLength="12.6" lengthAdjust="spacing">off</text>
<text x="21.9" y="0" font-size="11.5" textLength="68.2" lengthAdjust="spacing">(% gait cycle)</text>
</g>
<defs><linearGradient id="g1" x1="0" y1="1" x2="0" y2="0">
<stop offset="0%" stop-color="#e00808"/>
<stop offset="10%" stop-color="#e42008"/>
<stop offset="20%" stop-color="#e83c08"/>
<stop offset="30%" stop-color="#e8600a"/>
<stop offset="40%" stop-color="#e88a0a"/>
<stop offset="50%" stop-color="#e6a80c"/>
<stop offset="60%" stop-color="#e4be10"/>
<stop offset="70%" stop-color="#e0d410"/>
<stop offset="80%" stop-color="#bcd814"/>
<stop offset="90%" stop-color="#96dc10"/>
<stop offset="100%" stop-color="#7ae402"/>
</linearGradient></defs>
<rect x="358.4" y="17.2" width="14.4" height="182.10000000000002" fill="url(#g1)" stroke="#555" stroke-width="0.5"/>
<path d="M370.79999999999995 199.3h2" stroke="#333" stroke-width="0.5"/>
<text x="376.9" y="203.2" font-size="10" class="ss">0</text>
<path d="M370.79999999999995 162.9h2" stroke="#333" stroke-width="0.5"/>
<text x="376.9" y="166.8" font-size="10" class="ss">20</text>
<path d="M370.79999999999995 126.5h2" stroke="#333" stroke-width="0.5"/>
<text x="376.9" y="130.4" font-size="10" class="ss">40</text>
<path d="M370.79999999999995 90.0h2" stroke="#333" stroke-width="0.5"/>
<text x="376.9" y="93.9" font-size="10" class="ss">60</text>
<path d="M370.79999999999995 53.6h2" stroke="#333" stroke-width="0.5"/>
<text x="376.9" y="57.5" font-size="10" class="ss">80</text>
<path d="M370.79999999999995 17.2h2" stroke="#333" stroke-width="0.5"/>
<text x="376.9" y="21.1" font-size="10" class="ss">100</text>
<g transform="translate(406.3,144.8) rotate(-90)">
<text x="0" y="0" font-size="11.5" textLength="23.5" lengthAdjust="spacing">Score</text>
<text x="27.2" y="0" font-size="11.5" textLength="12" lengthAdjust="spacing">(%</text>
<text x="42.6" y="0" font-size="11" font-style="italic">t</text>
<text x="46.9" y="2.8" font-size="10.8" textLength="17" lengthAdjust="spacing">sim</text>
<text x="65.4" y="0" font-size="11.5">)</text>
</g>
<g id="right0">
<circle cx="471.0" cy="85.6" r="2.55" fill="#e4b828"/>
<circle cx="471.0" cy="81.6" r="2.55" fill="#e6bc26"/>
<circle cx="471.0" cy="77.6" r="2.55" fill="#e6cb23"/>
<circle cx="471.0" cy="73.6" r="2.55" fill="#e5b928"/>
<circle cx="471.0" cy="69.6" r="2.55" fill="#e5ba27"/>
<circle cx="471.0" cy="65.6" r="2.55" fill="#e6bd26"/>
<circle cx="471.0" cy="64.7" r="2.55" fill="#e1af2d"/>
<circle cx="474.1" cy="85.6" r="2.55" fill="#e5ba27"/>
<circle cx="474.1" cy="81.6" r="2.55" fill="#e6be25"/>
<circle cx="474.1" cy="77.6" r="2.55" fill="#e6c524"/>
<circle cx="474.1" cy="73.6" r="2.55" fill="#deae2f"/>
<circle cx="474.1" cy="69.6" r="2.55" fill="#e2b32b"/>
<circle cx="474.1" cy="66.3" r="2.55" fill="#deae2f"/>
<circle cx="477.3" cy="85.6" r="2.55" fill="#e6c624"/>
<circle cx="477.3" cy="81.6" r="2.55" fill="#e6c125"/>
<circle cx="477.3" cy="77.6" r="2.55" fill="#ddae30"/>
<circle cx="477.3" cy="73.6" r="2.55" fill="#e6cd22"/>
<circle cx="477.3" cy="69.6" r="2.55" fill="#e6cd22"/>
<circle cx="477.3" cy="68.9" r="2.55" fill="#e6bf25"/>
<circle cx="480.4" cy="85.6" r="2.55" fill="#e6be26"/>
<circle cx="480.4" cy="81.6" r="2.55" fill="#e0ae2e"/>
<circle cx="480.4" cy="77.6" r="2.55" fill="#dcad30"/>
<circle cx="480.4" cy="73.6" r="2.55" fill="#e5bb27"/>
<circle cx="480.4" cy="72.1" r="2.55" fill="#ddae30"/>
<circle cx="483.6" cy="85.6" r="2.55" fill="#e1b02d"/>
<circle cx="483.6" cy="81.6" r="2.55" fill="#e1b12c"/>
<circle cx="483.6" cy="77.6" r="2.55" fill="#dcad30"/>
<circle cx="483.6" cy="75.3" r="2.55" fill="#e4b828"/>
<circle cx="486.7" cy="85.6" r="2.55" fill="#e4b828"/>
<circle cx="486.7" cy="81.6" r="2.55" fill="#e6c723"/>
<circle cx="486.7" cy="77.6" r="2.55" fill="#e5ba27"/>
<circle cx="486.7" cy="77.3" r="2.55" fill="#e6bf25"/>
<circle cx="489.8" cy="85.6" r="2.55" fill="#e5ba27"/>
<circle cx="489.8" cy="81.6" r="2.55" fill="#e6c025"/>
<circle cx="489.8" cy="78.4" r="2.55" fill="#e4b828"/>
<circle cx="493.0" cy="85.6" r="2.55" fill="#e2b22b"/>
<circle cx="493.0" cy="81.6" r="2.55" fill="#e6ce22"/>
<circle cx="493.0" cy="80.6" r="2.55" fill="#e6ce22"/>
<circle cx="496.1" cy="85.6" r="2.55" fill="#e6c723"/>
<circle cx="496.1" cy="81.6" r="2.55" fill="#e6c225"/>
<circle cx="496.1" cy="81.1" r="2.55" fill="#e2b42b"/>
<circle cx="499.3" cy="85.6" r="2.55" fill="#e1b12c"/>
<circle cx="499.3" cy="82.7" r="2.55" fill="#e2b32b"/>
<circle cx="502.4" cy="85.6" r="2.55" fill="#deae2f"/>
<circle cx="502.4" cy="83.8" r="2.55" fill="#e6c424"/>
<circle cx="505.6" cy="85.6" r="2.55" fill="#e4b629"/>
<circle cx="505.6" cy="83.8" r="2.55" fill="#e6c823"/>
<circle cx="508.7" cy="85.6" r="2.55" fill="#e3b629"/>
<circle cx="508.7" cy="83.8" r="2.55" fill="#e6cc22"/>
<circle cx="511.8" cy="85.6" r="2.55" fill="#e6c823"/>
<circle cx="511.8" cy="83.8" r="2.55" fill="#dbad31"/>
<circle cx="515.0" cy="85.6" r="2.55" fill="#e1b02d"/>
<circle cx="515.0" cy="83.8" r="2.55" fill="#e6ca23"/>
<circle cx="518.1" cy="85.6" r="2.55" fill="#e5b928"/>
<circle cx="518.1" cy="83.8" r="2.55" fill="#e6cd22"/>
<circle cx="521.3" cy="85.6" r="2.55" fill="#e4b629"/>
<circle cx="521.3" cy="83.8" r="2.55" fill="#deae2f"/>
<circle cx="524.4" cy="85.6" r="2.55" fill="#e6be25"/>
<circle cx="524.4" cy="83.8" r="2.55" fill="#e6c524"/>
<circle cx="527.5" cy="85.6" r="2.55" fill="#e2b22c"/>
<circle cx="527.5" cy="83.8" r="2.55" fill="#deae2f"/>
<circle cx="530.7" cy="85.6" r="2.55" fill="#3f32a7"/>
<circle cx="530.7" cy="81.6" r="2.55" fill="#423ab9"/>
<circle cx="530.7" cy="77.6" r="2.55" fill="#4137b3"/>
<circle cx="530.7" cy="73.6" r="2.55" fill="#3e30a0"/>
<circle cx="530.7" cy="69.6" r="2.55" fill="#3f31a4"/>
<circle cx="530.7" cy="65.6" r="2.55" fill="#3e30a0"/>
<circle cx="530.7" cy="61.6" r="2.55" fill="#3e2f9f"/>
<circle cx="530.7" cy="57.6" r="2.55" fill="#4237b4"/>
<circle cx="530.7" cy="53.6" r="2.55" fill="#3e30a2"/>
<circle cx="530.7" cy="50.5" r="2.55" fill="#4035ad"/>
<circle cx="533.8" cy="85.6" r="2.55" fill="#4033aa"/>
<circle cx="533.8" cy="81.6" r="2.55" fill="#3e31a2"/>
<circle cx="533.8" cy="77.6" r="2.55" fill="#4137b2"/>
<circle cx="533.8" cy="73.6" r="2.55" fill="#3e30a1"/>
<circle cx="533.8" cy="69.6" r="2.55" fill="#4136b0"/>
<circle cx="533.8" cy="65.6" r="2.55" fill="#3e30a0"/>
<circle cx="533.8" cy="61.6" r="2.55" fill="#4033a9"/>
<circle cx="533.8" cy="57.6" r="2.55" fill="#3e31a3"/>
<circle cx="533.8" cy="53.6" r="2.55" fill="#3f31a5"/>
<circle cx="533.8" cy="50.5" r="2.55" fill="#423ab9"/>
<circle cx="537.0" cy="85.6" r="2.55" fill="#3e51d7"/>
<circle cx="537.0" cy="81.6" r="2.55" fill="#4141c2"/>
<circle cx="537.0" cy="77.6" r="2.55" fill="#3d54d9"/>
<circle cx="537.0" cy="73.6" r="2.55" fill="#413fbf"/>
<circle cx="537.0" cy="69.6" r="2.55" fill="#4044c6"/>
<circle cx="537.0" cy="65.6" r="2.55" fill="#3e53d8"/>
<circle cx="537.0" cy="61.6" r="2.55" fill="#3f4cd0"/>
<circle cx="537.0" cy="57.6" r="2.55" fill="#423bba"/>
<circle cx="537.0" cy="53.6" r="2.55" fill="#3c58da"/>
<circle cx="537.0" cy="50.5" r="2.55" fill="#413fbf"/>
<circle cx="540.1" cy="85.6" r="2.55" fill="#4140c1"/>
<circle cx="540.1" cy="81.6" r="2.55" fill="#3e50d6"/>
<circle cx="540.1" cy="77.6" r="2.55" fill="#4042c3"/>
<circle cx="540.1" cy="73.6" r="2.55" fill="#4141c2"/>
<circle cx="540.1" cy="69.6" r="2.55" fill="#423ab9"/>
<circle cx="540.1" cy="65.6" r="2.55" fill="#423bba"/>
<circle cx="540.1" cy="61.6" r="2.55" fill="#3f4ace"/>
<circle cx="540.1" cy="57.6" r="2.55" fill="#4140c0"/>
<circle cx="540.1" cy="53.6" r="2.55" fill="#3f4bcf"/>
<circle cx="540.1" cy="50.5" r="2.55" fill="#4044c5"/>
<circle cx="543.2" cy="85.6" r="2.55" fill="#336de0"/>
<circle cx="543.2" cy="81.6" r="2.55" fill="#298cca"/>
<circle cx="543.2" cy="77.6" r="2.55" fill="#326fe1"/>
<circle cx="543.2" cy="73.6" r="2.55" fill="#3174dd"/>
<circle cx="543.2" cy="69.6" r="2.55" fill="#2b86cf"/>
<circle cx="543.2" cy="65.6" r="2.55" fill="#3a5ddb"/>
<circle cx="543.2" cy="61.6" r="2.55" fill="#3a5bdb"/>
<circle cx="543.2" cy="57.6" r="2.55" fill="#2a89cd"/>
<circle cx="543.2" cy="53.6" r="2.55" fill="#2c83d1"/>
<circle cx="543.2" cy="50.5" r="2.55" fill="#3861dc"/>
<circle cx="546.4" cy="85.6" r="2.55" fill="#2a97b9"/>
<circle cx="546.4" cy="81.6" r="2.55" fill="#44aa8d"/>
<circle cx="546.4" cy="77.6" r="2.55" fill="#56ad7d"/>
<circle cx="546.4" cy="73.6" r="2.55" fill="#2a97b8"/>
<circle cx="546.4" cy="69.6" r="2.55" fill="#57ad7c"/>
<circle cx="546.4" cy="65.6" r="2.55" fill="#51ac81"/>
<circle cx="546.4" cy="61.6" r="2.55" fill="#37a898"/>
<circle cx="546.4" cy="57.6" r="2.55" fill="#2ca2a6"/>
<circle cx="546.4" cy="53.6" r="2.55" fill="#2993c0"/>
<circle cx="546.4" cy="50.5" r="2.55" fill="#2890c5"/>
<circle cx="549.5" cy="85.6" r="2.55" fill="#e6cc22"/>
<circle cx="549.5" cy="81.6" r="2.55" fill="#e1b12c"/>
<circle cx="549.5" cy="77.6" r="2.55" fill="#e6c225"/>
<circle cx="549.5" cy="73.6" r="2.55" fill="#e2b22c"/>
<circle cx="549.5" cy="69.6" r="2.55" fill="#e6c724"/>
<circle cx="549.5" cy="65.6" r="2.55" fill="#e6bd26"/>
<circle cx="549.5" cy="61.6" r="2.55" fill="#e2b32b"/>
<circle cx="549.5" cy="57.6" r="2.55" fill="#e0af2d"/>
<circle cx="549.5" cy="55.9" r="2.55" fill="#e6c225"/>
<circle cx="552.7" cy="85.6" r="2.55" fill="#deae2f"/>
<circle cx="552.7" cy="81.6" r="2.55" fill="#e1b12c"/>
<circle cx="552.7" cy="77.6" r="2.55" fill="#e6bc26"/>
<circle cx="552.7" cy="73.6" r="2.55" fill="#e6c823"/>
<circle cx="552.7" cy="69.6" r="2.55" fill="#e6be26"/>
<circle cx="552.7" cy="65.6" r="2.55" fill="#e2b22b"/>
<circle cx="552.7" cy="61.6" r="2.55" fill="#e6cb23"/>
<circle cx="552.7" cy="57.7" r="2.55" fill="#e1b02d"/>
<circle cx="555.8" cy="85.6" r="2.55" fill="#aeac49"/>
<circle cx="555.8" cy="81.6" r="2.55" fill="#e2b22c"/>
<circle cx="555.8" cy="77.6" r="2.55" fill="#e4b828"/>
<circle cx="555.8" cy="73.6" r="2.55" fill="#ddae30"/>
<circle cx="555.8" cy="69.6" r="2.55" fill="#e0af2d"/>
<circle cx="555.8" cy="65.6" r="2.55" fill="#e3b52a"/>
<circle cx="555.8" cy="61.6" r="2.55" fill="#e6bc26"/>
<circle cx="555.8" cy="58.0" r="2.55" fill="#e0ae2e"/>
<circle cx="558.9" cy="85.6" r="2.55" fill="#e3b52a"/>
<circle cx="558.9" cy="81.6" r="2.55" fill="#e6c923"/>
<circle cx="558.9" cy="77.6" r="2.55" fill="#e6cd22"/>
<circle cx="558.9" cy="73.6" r="2.55" fill="#e6c025"/>
<circle cx="558.9" cy="69.6" r="2.55" fill="#e6c125"/>
<circle cx="558.9" cy="65.6" r="2.55" fill="#e6bd26"/>
<circle cx="558.9" cy="61.6" r="2.55" fill="#e0ae2e"/>
<circle cx="558.9" cy="58.2" r="2.55" fill="#aeac49"/>
<circle cx="562.1" cy="85.6" r="2.55" fill="#aeac49"/>
<circle cx="562.1" cy="81.6" r="2.55" fill="#e6ca23"/>
<circle cx="562.1" cy="77.6" r="2.55" fill="#e6c125"/>
<circle cx="562.1" cy="73.6" r="2.55" fill="#e6cc22"/>
<circle cx="562.1" cy="69.6" r="2.55" fill="#aeac49"/>
<circle cx="562.1" cy="65.6" r="2.55" fill="#e6bf25"/>
<circle cx="562.1" cy="61.6" r="2.55" fill="#e5b928"/>
<circle cx="562.1" cy="58.6" r="2.55" fill="#e6c325"/>
<circle cx="565.2" cy="85.6" r="2.55" fill="#e2b42b"/>
<circle cx="565.2" cy="81.6" r="2.55" fill="#e6ce22"/>
<circle cx="565.2" cy="77.6" r="2.55" fill="#deae2f"/>
<circle cx="565.2" cy="73.6" r="2.55" fill="#e6bb26"/>
<circle cx="565.2" cy="69.6" r="2.55" fill="#e6c324"/>
<circle cx="565.2" cy="65.6" r="2.55" fill="#e6ca23"/>
<circle cx="565.2" cy="61.6" r="2.55" fill="#e6c324"/>
<circle cx="565.2" cy="60.4" r="2.55" fill="#e6c225"/>
<circle cx="568.4" cy="85.6" r="2.55" fill="#e6c524"/>
<circle cx="568.4" cy="81.6" r="2.55" fill="#e6ca23"/>
<circle cx="568.4" cy="77.6" r="2.55" fill="#e3b52a"/>
<circle cx="568.4" cy="73.6" r="2.55" fill="#e6c125"/>
<circle cx="568.4" cy="69.6" r="2.55" fill="#e6ca23"/>
<circle cx="568.4" cy="65.6" r="2.55" fill="#e6c923"/>
<circle cx="568.4" cy="61.6" r="2.55" fill="#e4b729"/>
<circle cx="568.4" cy="61.3" r="2.55" fill="#e6c524"/>
<circle cx="571.5" cy="85.6" r="2.55" fill="#e6c823"/>
<circle cx="571.5" cy="81.6" r="2.55" fill="#e6bc26"/>
<circle cx="571.5" cy="77.6" r="2.55" fill="#e6be26"/>
<circle cx="571.5" cy="73.6" r="2.55" fill="#e3b62a"/>
<circle cx="571.5" cy="69.6" r="2.55" fill="#e6bc26"/>
<circle cx="571.5" cy="65.6" r="2.55" fill="#e6be26"/>
<circle cx="571.5" cy="61.6" r="2.55" fill="#deae2f"/>
<circle cx="571.5" cy="60.4" r="2.55" fill="#e6bf25"/>
<circle cx="574.7" cy="85.6" r="2.55" fill="#e6ce22"/>
<circle cx="574.7" cy="81.6" r="2.55" fill="#e6c923"/>
<circle cx="574.7" cy="77.6" r="2.55" fill="#e6c325"/>
<circle cx="574.7" cy="73.6" r="2.55" fill="#e3b629"/>
<circle cx="574.7" cy="69.6" r="2.55" fill="#e6c324"/>
<circle cx="574.7" cy="65.6" r="2.55" fill="#e6bc26"/>
<circle cx="574.7" cy="61.6" r="2.55" fill="#e4b828"/>
<circle cx="574.7" cy="58.6" r="2.55" fill="#e6c724"/>
<circle cx="577.8" cy="85.6" r="2.55" fill="#deae2f"/>
<circle cx="577.8" cy="81.6" r="2.55" fill="#e6c424"/>
<circle cx="577.8" cy="77.6" r="2.55" fill="#aeac49"/>
<circle cx="577.8" cy="73.6" r="2.55" fill="#e6bd26"/>
<circle cx="577.8" cy="69.6" r="2.55" fill="#e5b928"/>
<circle cx="577.8" cy="65.6" r="2.55" fill="#e1b12c"/>
<circle cx="577.8" cy="61.6" r="2.55" fill="#e6c125"/>
<circle cx="577.8" cy="57.6" r="2.55" fill="#e5ba27"/>
<circle cx="577.8" cy="56.8" r="2.55" fill="#e6be26"/>
<circle cx="580.9" cy="85.6" r="2.55" fill="#e6cb23"/>
<circle cx="580.9" cy="81.6" r="2.55" fill="#e2b22c"/>
<circle cx="580.9" cy="77.6" r="2.55" fill="#aeac49"/>
<circle cx="580.9" cy="73.6" r="2.55" fill="#e2b32b"/>
<circle cx="580.9" cy="69.6" r="2.55" fill="#e6c025"/>
<circle cx="580.9" cy="65.6" r="2.55" fill="#e1b02d"/>
<circle cx="580.9" cy="61.6" r="2.55" fill="#e0af2e"/>
<circle cx="580.9" cy="57.6" r="2.55" fill="#e6ca23"/>
<circle cx="580.9" cy="53.6" r="2.55" fill="#e6c025"/>
<circle cx="580.9" cy="51.4" r="2.55" fill="#e4b828"/>
<circle cx="584.1" cy="85.6" r="2.55" fill="#e6c923"/>
<circle cx="584.1" cy="81.6" r="2.55" fill="#e3b42b"/>
<circle cx="584.1" cy="77.6" r="2.55" fill="#e6c025"/>
<circle cx="584.1" cy="73.6" r="2.55" fill="#e1b02d"/>
<circle cx="584.1" cy="69.6" r="2.55" fill="#e4b729"/>
<circle cx="584.1" cy="65.6" r="2.55" fill="#e6c624"/>
<circle cx="584.1" cy="61.6" r="2.55" fill="#e6ca23"/>
<circle cx="584.1" cy="57.6" r="2.55" fill="#e6c923"/>
<circle cx="584.1" cy="53.6" r="2.55" fill="#e3b629"/>
<circle cx="584.1" cy="49.6" r="2.55" fill="#e6bc26"/>
<circle cx="584.1" cy="46.0" r="2.55" fill="#e2b42b"/>
<circle cx="587.2" cy="85.6" r="2.55" fill="#e0ae2e"/>
<circle cx="587.2" cy="81.6" r="2.55" fill="#e5ba27"/>
<circle cx="587.2" cy="77.6" r="2.55" fill="#e6c724"/>
<circle cx="587.2" cy="73.6" r="2.55" fill="#e6c823"/>
<circle cx="587.2" cy="69.6" r="2.55" fill="#e6c225"/>
<circle cx="587.2" cy="65.6" r="2.55" fill="#e6cc22"/>
<circle cx="587.2" cy="61.6" r="2.55" fill="#e2b22b"/>
<circle cx="587.2" cy="57.6" r="2.55" fill="#e0af2e"/>
<circle cx="587.2" cy="53.6" r="2.55" fill="#e4b828"/>
<circle cx="587.2" cy="49.6" r="2.55" fill="#e2b22c"/>
<circle cx="587.2" cy="45.6" r="2.55" fill="#e1b02d"/>
<circle cx="587.2" cy="42.9" r="2.55" fill="#e4b729"/>
<circle cx="590.4" cy="85.6" r="2.55" fill="#e6be25"/>
<circle cx="590.4" cy="81.6" r="2.55" fill="#e5b927"/>
<circle cx="590.4" cy="77.6" r="2.55" fill="#e2b42b"/>
<circle cx="590.4" cy="73.6" r="2.55" fill="#e6c724"/>
<circle cx="590.4" cy="69.6" r="2.55" fill="#e6cd22"/>
<circle cx="590.4" cy="65.6" r="2.55" fill="#e4b828"/>
<circle cx="590.4" cy="61.6" r="2.55" fill="#deae2f"/>
<circle cx="590.4" cy="57.6" r="2.55" fill="#aeac49"/>
<circle cx="590.4" cy="53.6" r="2.55" fill="#e6c923"/>
<circle cx="590.4" cy="49.6" r="2.55" fill="#aeac49"/>
<circle cx="590.4" cy="45.6" r="2.55" fill="#e6c225"/>
<circle cx="590.4" cy="42.9" r="2.55" fill="#e6bc26"/>
<circle cx="593.5" cy="85.6" r="2.55" fill="#e2b32b"/>
<circle cx="593.5" cy="81.6" r="2.55" fill="#e6c524"/>
<circle cx="593.5" cy="77.6" r="2.55" fill="#aeac49"/>
<circle cx="593.5" cy="73.6" r="2.55" fill="#e0ae2e"/>
<circle cx="593.5" cy="69.6" r="2.55" fill="#e4b828"/>
<circle cx="593.5" cy="65.6" r="2.55" fill="#aeac49"/>
<circle cx="593.5" cy="61.6" r="2.55" fill="#e6c724"/>
<circle cx="593.5" cy="57.6" r="2.55" fill="#e1b12c"/>
<circle cx="593.5" cy="53.6" r="2.55" fill="#e0ae2e"/>
<circle cx="593.5" cy="49.6" r="2.55" fill="#aeac49"/>
<circle cx="593.5" cy="45.6" r="2.55" fill="#e6be25"/>
<circle cx="593.5" cy="43.3" r="2.55" fill="#e4b828"/>
<circle cx="596.6" cy="85.6" r="2.55" fill="#e6be25"/>
<circle cx="596.6" cy="81.6" r="2.55" fill="#e6c025"/>
<circle cx="596.6" cy="77.6" r="2.55" fill="#e6c624"/>
<circle cx="596.6" cy="73.6" r="2.55" fill="#e6cc22"/>
<circle cx="596.6" cy="69.6" r="2.55" fill="#e6c125"/>
<circle cx="596.6" cy="65.6" r="2.55" fill="#e1b02d"/>
<circle cx="596.6" cy="61.6" r="2.55" fill="#e5b928"/>
<circle cx="596.6" cy="57.6" r="2.55" fill="#e1af2d"/>
<circle cx="596.6" cy="53.6" r="2.55" fill="#aeac49"/>
<circle cx="596.6" cy="49.6" r="2.55" fill="#e5b928"/>
<circle cx="596.6" cy="47.8" r="2.55" fill="#e6c225"/>
<circle cx="599.8" cy="85.6" r="2.55" fill="#e1af2d"/>
<circle cx="599.8" cy="81.6" r="2.55" fill="#e2b22c"/>
<circle cx="599.8" cy="77.6" r="2.55" fill="#e3b52a"/>
<circle cx="599.8" cy="73.6" r="2.55" fill="#e6c125"/>
<circle cx="599.8" cy="69.6" r="2.55" fill="#e5ba27"/>
<circle cx="599.8" cy="65.6" r="2.55" fill="#e6be26"/>
<circle cx="599.8" cy="61.6" r="2.55" fill="#e6c424"/>
<circle cx="599.8" cy="57.6" r="2.55" fill="#e4b629"/>
<circle cx="599.8" cy="53.6" r="2.55" fill="#e6c524"/>
<circle cx="599.8" cy="52.3" r="2.55" fill="#e6ca23"/>
<circle cx="602.9" cy="85.6" r="2.55" fill="#deae2f"/>
<circle cx="602.9" cy="81.6" r="2.55" fill="#e6cb23"/>
<circle cx="602.9" cy="77.6" r="2.55" fill="#e6c225"/>
<circle cx="602.9" cy="73.6" r="2.55" fill="#e0ae2e"/>
<circle cx="602.9" cy="69.6" r="2.55" fill="#e4b828"/>
<circle cx="602.9" cy="65.6" r="2.55" fill="#e6be25"/>
<circle cx="602.9" cy="61.6" r="2.55" fill="#e6ca23"/>
<circle cx="602.9" cy="57.6" r="2.55" fill="#e3b62a"/>
<circle cx="602.9" cy="56.8" r="2.55" fill="#e6bc26"/>
<circle cx="606.1" cy="85.6" r="2.55" fill="#e6c923"/>
<circle cx="606.1" cy="81.6" r="2.55" fill="#e6c524"/>
<circle cx="606.1" cy="77.6" r="2.55" fill="#e6cc23"/>
<circle cx="606.1" cy="73.6" r="2.55" fill="#e4b828"/>
<circle cx="606.1" cy="69.6" r="2.55" fill="#e6bf25"/>
<circle cx="606.1" cy="65.6" r="2.55" fill="#e1b02d"/>
<circle cx="606.1" cy="61.6" r="2.55" fill="#e6c225"/>
<circle cx="606.1" cy="58.2" r="2.55" fill="#e6c624"/>
<circle cx="609.2" cy="85.6" r="2.55" fill="#e6bf25"/>
<circle cx="609.2" cy="81.6" r="2.55" fill="#e6c225"/>
<circle cx="609.2" cy="77.6" r="2.55" fill="#e1b02d"/>
<circle cx="609.2" cy="73.6" r="2.55" fill="#e6ca23"/>
<circle cx="609.2" cy="69.6" r="2.55" fill="#e6cd22"/>
<circle cx="609.2" cy="65.6" r="2.55" fill="#e6cd22"/>
<circle cx="609.2" cy="61.6" r="2.55" fill="#e6bb27"/>
<circle cx="609.2" cy="58.4" r="2.55" fill="#e6c524"/>
<circle cx="612.3" cy="85.6" r="2.55" fill="#e2b42b"/>
<circle cx="612.3" cy="81.6" r="2.55" fill="#e6ca23"/>
<circle cx="612.3" cy="77.6" r="2.55" fill="#e6c823"/>
<circle cx="612.3" cy="73.6" r="2.55" fill="#e3b52a"/>
<circle cx="612.3" cy="69.6" r="2.55" fill="#deae2f"/>
<circle cx="612.3" cy="65.6" r="2.55" fill="#e4b828"/>
<circle cx="612.3" cy="61.6" r="2.55" fill="#e6bb26"/>
<circle cx="612.3" cy="58.6" r="2.55" fill="#e6c424"/>
<circle cx="615.5" cy="85.6" r="2.55" fill="#e5b928"/>
<circle cx="615.5" cy="81.6" r="2.55" fill="#aeac49"/>
<circle cx="615.5" cy="77.6" r="2.55" fill="#e6c624"/>
<circle cx="615.5" cy="73.6" r="2.55" fill="#ddae2f"/>
<circle cx="615.5" cy="69.6" r="2.55" fill="#e6c624"/>
<circle cx="615.5" cy="65.6" r="2.55" fill="#e0af2d"/>
<circle cx="615.5" cy="61.6" r="2.55" fill="#e3b42a"/>
<circle cx="615.5" cy="59.9" r="2.55" fill="#e6c524"/>
<circle cx="618.6" cy="85.6" r="2.55" fill="#e0ae2e"/>
<circle cx="618.6" cy="81.6" r="2.55" fill="#e0ae2e"/>
<circle cx="618.6" cy="77.6" r="2.55" fill="#e5ba27"/>
<circle cx="618.6" cy="73.6" r="2.55" fill="#e6c225"/>
<circle cx="618.6" cy="69.6" r="2.55" fill="#e6c723"/>
<circle cx="618.6" cy="65.6" r="2.55" fill="#e6c125"/>
<circle cx="618.6" cy="61.6" r="2.55" fill="#e6cc23"/>
<circle cx="618.6" cy="61.3" r="2.55" fill="#e5b927"/>
<circle cx="621.8" cy="85.6" r="2.55" fill="#e6cc22"/>
<circle cx="621.8" cy="81.6" r="2.55" fill="#deae2f"/>
<circle cx="621.8" cy="77.6" r="2.55" fill="#e1b12d"/>
<circle cx="621.8" cy="73.6" r="2.55" fill="#e5bb27"/>
<circle cx="621.8" cy="69.6" r="2.55" fill="#e2b32b"/>
<circle cx="621.8" cy="65.6" r="2.55" fill="#e6c325"/>
<circle cx="621.8" cy="62.2" r="2.55" fill="#e6bf25"/>
<circle cx="624.9" cy="85.6" r="2.55" fill="#e5ba27"/>
<circle cx="624.9" cy="81.6" r="2.55" fill="#e6c723"/>
<circle cx="624.9" cy="77.6" r="2.55" fill="#e6bc26"/>
<circle cx="624.9" cy="73.6" r="2.55" fill="#e2b42b"/>
<circle cx="624.9" cy="69.6" r="2.55" fill="#e3b62a"/>
<circle cx="624.9" cy="65.6" r="2.55" fill="#e6c823"/>
<circle cx="624.9" cy="63.1" r="2.55" fill="#e6ca23"/>
<circle cx="628.0" cy="85.6" r="2.55" fill="#e1b02d"/>
<circle cx="628.0" cy="81.6" r="2.55" fill="#e6c823"/>
<circle cx="628.0" cy="77.6" r="2.55" fill="#e6cd22"/>
<circle cx="628.0" cy="73.6" r="2.55" fill="#e5ba27"/>
<circle cx="628.0" cy="69.6" r="2.55" fill="#e6bc26"/>
<circle cx="628.0" cy="65.8" r="2.55" fill="#e1b02d"/>
</g>
<circle cx="511.6" cy="73.8" r="2.55" fill="#80ae63"/>
<circle cx="536.9" cy="30.2" r="2.55" fill="#3c2d99"/>
<circle cx="540.2" cy="39.0" r="2.55" fill="#3e52d8"/>
<circle cx="546.5" cy="20.9" r="2.55" fill="#3c58da"/>
<circle cx="546.5" cy="28.4" r="2.55" fill="#3270e1"/>
<circle cx="541" cy="49.5" r="2.55" fill="#3c58da"/>
<circle cx="546.2" cy="48.0" r="2.55" fill="#3e30a1"/>
<circle cx="556.2" cy="49.5" r="2.55" fill="#2a9ab4"/>
<circle cx="566" cy="45.0" r="2.55" fill="#413dbd"/>
<circle cx="574.5" cy="32.8" r="2.55" fill="#e2b32b"/>
<circle cx="587.5" cy="21.2" r="2.55" fill="#2993c0"/>
<circle cx="581.5" cy="42.5" r="2.55" fill="#e0ae2e"/>
<circle cx="585" cy="51.0" r="2.55" fill="#e6c524"/>
<circle cx="581.2" cy="55.6" r="2.55" fill="#4045c7"/>
<circle cx="596.8" cy="55.6" r="2.55" fill="#2993c0"/>
<circle cx="603.5" cy="55.6" r="2.55" fill="#3e52d8"/>
<circle cx="616.2" cy="57.1" r="2.55" fill="#e6c524"/>
<circle cx="629" cy="55.6" r="2.55" fill="#e6c524"/>
<circle cx="622.3" cy="62.3" r="2.55" fill="#80ae63"/>
<circle cx="566" cy="57.0" r="2.55" fill="#2da6a0"/>
<circle cx="569.3" cy="53.5" r="2.55" fill="#e6bf25"/>
<path d="M470.8 13.6V85.6" stroke="#555" stroke-width="0.7" fill="none"/>
<path d="M470.8 85.6h1.8" stroke="#555" stroke-width="0.7"/>
<text x="468.6" y="88.6" font-size="8.3" text-anchor="end">0</text>
<path d="M470.8 49.6h1.8" stroke="#555" stroke-width="0.7"/>
<text x="468.6" y="52.6" font-size="8.3" text-anchor="end">20</text>
<path d="M470.8 13.6h1.8" stroke="#555" stroke-width="0.7"/>
<text x="468.6" y="16.6" font-size="8.3" text-anchor="end">40</text>
<text x="471.0" y="95.6" font-size="8.3" text-anchor="middle">0</text>
<text x="502.4" y="95.6" font-size="8.3" text-anchor="middle">20</text>
<text x="533.8" y="95.6" font-size="8.3" text-anchor="middle">40</text>
<text x="565.2" y="95.6" font-size="8.3" text-anchor="middle">60</text>
<text x="596.6" y="95.6" font-size="8.3" text-anchor="middle">80</text>
<text x="628.0" y="95.6" font-size="8.3" text-anchor="middle">100</text>
<text x="508.2" y="107.3" font-size="9.5" font-style="italic">gc</text>
<text x="517.6" y="109.8" font-size="9.4" textLength="11" lengthAdjust="spacing">off</text>
<text x="531.3" y="107.3" font-size="9.9" textLength="59.6" lengthAdjust="spacing">(% gait cycle)</text>
<g transform="translate(453.6,88.3) rotate(-90)">
<text x="0" y="0" font-size="9.5" font-style="italic">t</text>
<text x="3.8" y="2.3" font-size="9.4" textLength="11" lengthAdjust="spacing">off</text>
<text x="16.6" y="0" font-size="9.9" textLength="59.2" lengthAdjust="spacing">(% gait cycle)</text>
</g>
<rect x="516.80" y="34.5" width="2.8" height="51.9" fill="#262626" fill-opacity="0.72"/>
<text class="ss" font-size="9.8" text-anchor="end" transform="translate(522.4,17.3) rotate(-90)">HO</text>
<rect x="548.30" y="37.8" width="2.8" height="48.6" fill="#262626" fill-opacity="0.72"/>
<text class="ss" font-size="9.8" text-anchor="end" transform="translate(554.2,17.3) rotate(-90)">TDc</text>
<rect x="564.10" y="33.8" width="2.8" height="52.6" fill="#262626" fill-opacity="0.72"/>
<text class="ss" font-size="9.8" text-anchor="end" transform="translate(569.8,17.3) rotate(-90)">TO</text>
<defs><linearGradient id="gp0" x1="0" y1="1" x2="0" y2="0">
<stop offset="0.0%" stop-color="#3a288c"/>
<stop offset="10.0%" stop-color="#4238b6"/>
<stop offset="20.0%" stop-color="#3e52d8"/>
<stop offset="30.0%" stop-color="#3270e1"/>
<stop offset="40.0%" stop-color="#288ec8"/>
<stop offset="50.0%" stop-color="#2da6a0"/>
<stop offset="60.0%" stop-color="#5cae78"/>
<stop offset="68.0%" stop-color="#8cae5c"/>
<stop offset="75.0%" stop-color="#b4ac46"/>
<stop offset="82.0%" stop-color="#d2ac36"/>
<stop offset="88.0%" stop-color="#e0ae2e"/>
<stop offset="94.0%" stop-color="#e6bc26"/>
<stop offset="100.0%" stop-color="#e6ce22"/>
</linearGradient></defs>
<rect x="642.5" y="13.8" width="12.6" height="72.9" fill="url(#gp0)" stroke="#555" stroke-width="0.5"/>
<path d="M653.6 18.4h1.5" stroke="#333" stroke-width="0.5"/>
<text x="658.4" y="21.0" font-size="7.2" class="ss">0</text>
<path d="M653.6 36.0h1.5" stroke="#333" stroke-width="0.5"/>
<text x="658.4" y="38.6" font-size="7.2" class="ss">-10</text>
<path d="M653.6 53.6h1.5" stroke="#333" stroke-width="0.5"/>
<text x="658.4" y="56.2" font-size="7.2" class="ss">-20</text>
<path d="M653.6 71.2h1.5" stroke="#333" stroke-width="0.5"/>
<text x="658.4" y="73.8" font-size="7.2" class="ss">-30</text>
<text x="496.8" y="8.8" font-size="10.3" textLength="41" lengthAdjust="spacing">Reference</text>
<text x="541.9" y="8.8" font-size="10.3" font-style="italic">v&#772;</text>
<text x="547.2" y="10.6" font-size="7" font-style="italic">x</text>
<text x="554.6" y="8.8" font-size="10.3" textLength="7.2" lengthAdjust="spacing">=</text>
<text x="565.4" y="8.8" font-size="9.8" textLength="16.8" lengthAdjust="spacing">1.27</text>
<text x="584.6" y="8.8" font-size="10.3" font-style="italic" textLength="18.4" lengthAdjust="spacing">m/s</text>
<g transform="translate(680.8,68.2) rotate(-90)">
<text x="0" y="0" font-size="10">&#916;</text>
<text x="10.5" y="0" font-size="9.8" font-style="italic">v&#772;</text>
<text x="15.2" y="1.8" font-size="6.5" font-style="italic">x</text>
<text x="21.4" y="0" font-size="9.5" textLength="14.4" lengthAdjust="spacing">(%)</text>
</g>
<circle cx="536.5" cy="55.6" r="1.6" fill="#d8d8e8"/>
<circle cx="536.5" cy="64.7" r="1.6" fill="#d8d8e8"/>
<circle cx="536.5" cy="60" r="1.6" fill="#d8d8e8"/>
<circle cx="553.2" cy="57.1" r="4.1" fill="#fff" stroke="#000" stroke-width="1.2"/>
<path d="M551.3000000000001 55.2L555.1 59.0M551.3000000000001 59.0L555.1 55.2" stroke="#000" stroke-width="1.2" fill="none"/>
<g id="right1">
<circle cx="471.0" cy="206.0" r="2.55" fill="#73ae6b"/>
<circle cx="471.0" cy="202.0" r="2.55" fill="#d6ad33"/>
<circle cx="471.0" cy="198.0" r="2.55" fill="#d7ad33"/>
<circle cx="471.0" cy="194.0" r="2.55" fill="#c0ac40"/>
<circle cx="471.0" cy="190.0" r="2.55" fill="#b9ac43"/>
<circle cx="471.0" cy="186.0" r="2.55" fill="#ccac39"/>
<circle cx="471.0" cy="185.1" r="2.55" fill="#c6ac3c"/>
<circle cx="474.1" cy="206.0" r="2.55" fill="#83ae61"/>
<circle cx="474.1" cy="202.0" r="2.55" fill="#d7ad33"/>
<circle cx="474.1" cy="198.0" r="2.55" fill="#d5ac34"/>
<circle cx="474.1" cy="194.0" r="2.55" fill="#d4ac35"/>
<circle cx="474.1" cy="190.0" r="2.55" fill="#d7ad33"/>
<circle cx="474.1" cy="186.7" r="2.55" fill="#c0ac40"/>
<circle cx="477.3" cy="206.0" r="2.55" fill="#71ae6c"/>
<circle cx="477.3" cy="202.0" r="2.55" fill="#c1ac3f"/>
<circle cx="477.3" cy="198.0" r="2.55" fill="#ddae30"/>
<circle cx="477.3" cy="194.0" r="2.55" fill="#bbac42"/>
<circle cx="477.3" cy="190.0" r="2.55" fill="#dbad31"/>
<circle cx="477.3" cy="189.3" r="2.55" fill="#bcac42"/>
<circle cx="480.4" cy="206.0" r="2.55" fill="#7dae65"/>
<circle cx="480.4" cy="202.0" r="2.55" fill="#caac3a"/>
<circle cx="480.4" cy="198.0" r="2.55" fill="#cdac39"/>
<circle cx="480.4" cy="194.0" r="2.55" fill="#dcad31"/>
<circle cx="480.4" cy="192.5" r="2.55" fill="#b9ac43"/>
<circle cx="483.6" cy="206.0" r="2.55" fill="#5fae76"/>
<circle cx="483.6" cy="202.0" r="2.55" fill="#deae2f"/>
<circle cx="483.6" cy="198.0" r="2.55" fill="#d2ac36"/>
<circle cx="483.6" cy="195.7" r="2.55" fill="#bdac41"/>
<circle cx="486.7" cy="206.0" r="2.55" fill="#8bae5c"/>
<circle cx="486.7" cy="202.0" r="2.55" fill="#dfae2f"/>
<circle cx="486.7" cy="198.0" r="2.55" fill="#beac41"/>
<circle cx="486.7" cy="197.7" r="2.55" fill="#ceac38"/>
<circle cx="489.8" cy="206.0" r="2.55" fill="#62ae74"/>
<circle cx="489.8" cy="202.0" r="2.55" fill="#c8ac3b"/>
<circle cx="489.8" cy="198.8" r="2.55" fill="#d5ac34"/>
<circle cx="493.0" cy="206.0" r="2.55" fill="#64ae73"/>
<circle cx="493.0" cy="202.0" r="2.55" fill="#d8ad33"/>
<circle cx="493.0" cy="201.0" r="2.55" fill="#bbac42"/>
<circle cx="496.1" cy="206.0" r="2.55" fill="#64ae73"/>
<circle cx="496.1" cy="202.0" r="2.55" fill="#dbad31"/>
<circle cx="496.1" cy="201.5" r="2.55" fill="#cdac39"/>
<circle cx="499.3" cy="206.0" r="2.55" fill="#70ae6c"/>
<circle cx="499.3" cy="203.1" r="2.55" fill="#d5ac34"/>
<circle cx="502.4" cy="206.0" r="2.55" fill="#73ae6b"/>
<circle cx="502.4" cy="204.2" r="2.55" fill="#ccac39"/>
<circle cx="505.6" cy="206.0" r="2.55" fill="#5dae77"/>
<circle cx="505.6" cy="204.2" r="2.55" fill="#d8ad32"/>
<circle cx="508.7" cy="206.0" r="2.55" fill="#8aae5d"/>
<circle cx="508.7" cy="204.2" r="2.55" fill="#dfae2e"/>
<circle cx="511.8" cy="206.0" r="2.55" fill="#7cae65"/>
<circle cx="511.8" cy="204.2" r="2.55" fill="#cbac3a"/>
<circle cx="515.0" cy="206.0" r="2.55" fill="#6dae6e"/>
<circle cx="515.0" cy="204.2" r="2.55" fill="#d7ad33"/>
<circle cx="518.1" cy="206.0" r="2.55" fill="#7cae65"/>
<circle cx="518.1" cy="204.2" r="2.55" fill="#beac41"/>
<circle cx="521.3" cy="206.0" r="2.55" fill="#67ae71"/>
<circle cx="521.3" cy="204.2" r="2.55" fill="#cbac3a"/>
<circle cx="524.4" cy="206.0" r="2.55" fill="#75ae6a"/>
<circle cx="524.4" cy="204.2" r="2.55" fill="#dbad31"/>
<circle cx="527.5" cy="206.0" r="2.55" fill="#74ae6a"/>
<circle cx="527.5" cy="204.2" r="2.55" fill="#baac43"/>
<circle cx="530.7" cy="206.0" r="2.55" fill="#3077db"/>
<circle cx="530.7" cy="202.0" r="2.55" fill="#3665de"/>
<circle cx="530.7" cy="198.0" r="2.55" fill="#3569df"/>
<circle cx="530.7" cy="194.0" r="2.55" fill="#3a5cdb"/>
<circle cx="530.7" cy="190.0" r="2.55" fill="#3665de"/>
<circle cx="530.7" cy="186.0" r="2.55" fill="#3763dd"/>
<circle cx="530.7" cy="182.0" r="2.55" fill="#3075dd"/>
<circle cx="530.7" cy="178.0" r="2.55" fill="#3c57d9"/>
<circle cx="530.7" cy="174.0" r="2.55" fill="#346bdf"/>
<circle cx="530.7" cy="170.9" r="2.55" fill="#3b5ada"/>
<circle cx="533.8" cy="206.0" r="2.55" fill="#3271e0"/>
<circle cx="533.8" cy="202.0" r="2.55" fill="#3d54d8"/>
<circle cx="533.8" cy="198.0" r="2.55" fill="#395edc"/>
<circle cx="533.8" cy="194.0" r="2.55" fill="#3861dd"/>
<circle cx="533.8" cy="190.0" r="2.55" fill="#336fe1"/>
<circle cx="533.8" cy="186.0" r="2.55" fill="#3d54d9"/>
<circle cx="533.8" cy="182.0" r="2.55" fill="#3667de"/>
<circle cx="533.8" cy="178.0" r="2.55" fill="#3a5bdb"/>
<circle cx="533.8" cy="174.0" r="2.55" fill="#395fdc"/>
<circle cx="533.8" cy="170.9" r="2.55" fill="#3567de"/>
<circle cx="537.0" cy="206.0" r="2.55" fill="#2a96bb"/>
<circle cx="537.0" cy="202.0" r="2.55" fill="#2d7ed5"/>
<circle cx="537.0" cy="198.0" r="2.55" fill="#2a96bb"/>
<circle cx="537.0" cy="194.0" r="2.55" fill="#336de0"/>
<circle cx="537.0" cy="190.0" r="2.55" fill="#2994bd"/>
<circle cx="537.0" cy="186.0" r="2.55" fill="#2f78db"/>
<circle cx="537.0" cy="182.0" r="2.55" fill="#336ee0"/>
<circle cx="537.0" cy="178.0" r="2.55" fill="#298cc9"/>
<circle cx="537.0" cy="174.0" r="2.55" fill="#2994be"/>
<circle cx="537.0" cy="170.9" r="2.55" fill="#3764de"/>
<circle cx="540.1" cy="206.0" r="2.55" fill="#3172df"/>
<circle cx="540.1" cy="202.0" r="2.55" fill="#288ec8"/>
<circle cx="540.1" cy="198.0" r="2.55" fill="#3076dc"/>
<circle cx="540.1" cy="194.0" r="2.55" fill="#3271e0"/>
<circle cx="540.1" cy="190.0" r="2.55" fill="#3764de"/>
<circle cx="540.1" cy="186.0" r="2.55" fill="#3666de"/>
<circle cx="540.1" cy="182.0" r="2.55" fill="#2b85cf"/>
<circle cx="540.1" cy="178.0" r="2.55" fill="#2a97b9"/>
<circle cx="540.1" cy="174.0" r="2.55" fill="#2a98b8"/>
<circle cx="540.1" cy="170.9" r="2.55" fill="#2d7fd4"/>
<circle cx="543.2" cy="206.0" r="2.55" fill="#3077db"/>
<circle cx="543.2" cy="202.0" r="2.55" fill="#2a89cc"/>
<circle cx="543.2" cy="198.0" r="2.55" fill="#2ca1a9"/>
<circle cx="543.2" cy="194.0" r="2.55" fill="#2ca3a5"/>
<circle cx="543.2" cy="190.0" r="2.55" fill="#2a99b5"/>
<circle cx="543.2" cy="186.0" r="2.55" fill="#2b84d1"/>
<circle cx="543.2" cy="182.0" r="2.55" fill="#2994be"/>
<circle cx="543.2" cy="178.0" r="2.55" fill="#2992c2"/>
<circle cx="543.2" cy="174.0" r="2.55" fill="#2a99b6"/>
<circle cx="543.2" cy="170.9" r="2.55" fill="#2b86cf"/>
<circle cx="546.4" cy="206.0" r="2.55" fill="#74ae6a"/>
<circle cx="546.4" cy="202.0" r="2.55" fill="#6dae6e"/>
<circle cx="546.4" cy="198.0" r="2.55" fill="#2ca2a7"/>
<circle cx="546.4" cy="194.0" r="2.55" fill="#31a79d"/>
<circle cx="546.4" cy="190.0" r="2.55" fill="#6bae6f"/>
<circle cx="546.4" cy="186.0" r="2.55" fill="#30a69e"/>
<circle cx="546.4" cy="182.0" r="2.55" fill="#73ae6a"/>
<circle cx="546.4" cy="178.0" r="2.55" fill="#46aa8b"/>
<circle cx="546.4" cy="174.0" r="2.55" fill="#57ad7c"/>
<circle cx="546.4" cy="170.9" r="2.55" fill="#58ad7c"/>
<circle cx="549.5" cy="206.0" r="2.55" fill="#66ae72"/>
<circle cx="549.5" cy="202.0" r="2.55" fill="#93ae58"/>
<circle cx="549.5" cy="198.0" r="2.55" fill="#8fae5a"/>
<circle cx="549.5" cy="194.0" r="2.55" fill="#c1ac3f"/>
<circle cx="549.5" cy="190.0" r="2.55" fill="#c2ac3f"/>
<circle cx="549.5" cy="186.0" r="2.55" fill="#7fae63"/>
<circle cx="549.5" cy="182.0" r="2.55" fill="#d3ac35"/>
<circle cx="549.5" cy="178.0" r="2.55" fill="#a4ad4f"/>
<circle cx="549.5" cy="176.3" r="2.55" fill="#8eae5b"/>
<circle cx="552.7" cy="206.0" r="2.55" fill="#71ae6c"/>
<circle cx="552.7" cy="202.0" r="2.55" fill="#d8ad33"/>
<circle cx="552.7" cy="198.0" r="2.55" fill="#b5ac45"/>
<circle cx="552.7" cy="194.0" r="2.55" fill="#bbac42"/>
<circle cx="552.7" cy="190.0" r="2.55" fill="#d5ac34"/>
<circle cx="552.7" cy="186.0" r="2.55" fill="#d7ad33"/>
<circle cx="552.7" cy="182.0" r="2.55" fill="#c8ac3b"/>
<circle cx="552.7" cy="178.1" r="2.55" fill="#a4ad4f"/>
<circle cx="555.8" cy="206.0" r="2.55" fill="#78ae68"/>
<circle cx="555.8" cy="202.0" r="2.55" fill="#d4ac35"/>
<circle cx="555.8" cy="198.0" r="2.55" fill="#cbac3a"/>
<circle cx="555.8" cy="194.0" r="2.55" fill="#b7ac44"/>
<circle cx="555.8" cy="190.0" r="2.55" fill="#9bad54"/>
<circle cx="555.8" cy="186.0" r="2.55" fill="#9ead52"/>
<circle cx="555.8" cy="182.0" r="2.55" fill="#c6ac3c"/>
<circle cx="555.8" cy="178.4" r="2.55" fill="#b6ac45"/>
<circle cx="558.9" cy="206.0" r="2.55" fill="#5dae78"/>
<circle cx="558.9" cy="202.0" r="2.55" fill="#d4ac35"/>
<circle cx="558.9" cy="198.0" r="2.55" fill="#ccac39"/>
<circle cx="558.9" cy="194.0" r="2.55" fill="#d4ac35"/>
<circle cx="558.9" cy="190.0" r="2.55" fill="#d4ac35"/>
<circle cx="558.9" cy="186.0" r="2.55" fill="#b3ac47"/>
<circle cx="558.9" cy="182.0" r="2.55" fill="#cbac3a"/>
<circle cx="558.9" cy="178.6" r="2.55" fill="#9fad51"/>
<circle cx="562.1" cy="206.0" r="2.55" fill="#61ae75"/>
<circle cx="562.1" cy="202.0" r="2.55" fill="#97ad56"/>
<circle cx="562.1" cy="198.0" r="2.55" fill="#d6ad34"/>
<circle cx="562.1" cy="194.0" r="2.55" fill="#c2ac3f"/>
<circle cx="562.1" cy="190.0" r="2.55" fill="#b4ac46"/>
<circle cx="562.1" cy="186.0" r="2.55" fill="#bbac42"/>
<circle cx="562.1" cy="182.0" r="2.55" fill="#7eae64"/>
<circle cx="562.1" cy="179.0" r="2.55" fill="#b3ac47"/>
<circle cx="565.2" cy="206.0" r="2.55" fill="#7eae64"/>
<circle cx="565.2" cy="202.0" r="2.55" fill="#a1ad50"/>
<circle cx="565.2" cy="198.0" r="2.55" fill="#8eae5b"/>
<circle cx="565.2" cy="194.0" r="2.55" fill="#a3ad50"/>
<circle cx="565.2" cy="190.0" r="2.55" fill="#98ad55"/>
<circle cx="565.2" cy="186.0" r="2.55" fill="#c1ac3f"/>
<circle cx="565.2" cy="182.0" r="2.55" fill="#81ae63"/>
<circle cx="565.2" cy="180.8" r="2.55" fill="#3fa991"/>
<circle cx="568.4" cy="206.0" r="2.55" fill="#7dae65"/>
<circle cx="568.4" cy="202.0" r="2.55" fill="#c8ac3b"/>
<circle cx="568.4" cy="198.0" r="2.55" fill="#bfac40"/>
<circle cx="568.4" cy="194.0" r="2.55" fill="#d6ad34"/>
<circle cx="568.4" cy="190.0" r="2.55" fill="#9dad52"/>
<circle cx="568.4" cy="186.0" r="2.55" fill="#49ab89"/>
<circle cx="568.4" cy="182.0" r="2.55" fill="#a7ad4d"/>
<circle cx="568.4" cy="181.7" r="2.55" fill="#86ae60"/>
<circle cx="571.5" cy="206.0" r="2.55" fill="#7cae65"/>
<circle cx="571.5" cy="202.0" r="2.55" fill="#9aad54"/>
<circle cx="571.5" cy="198.0" r="2.55" fill="#8dae5b"/>
<circle cx="571.5" cy="194.0" r="2.55" fill="#99ad55"/>
<circle cx="571.5" cy="190.0" r="2.55" fill="#d6ad34"/>
<circle cx="571.5" cy="186.0" r="2.55" fill="#41a98f"/>
<circle cx="571.5" cy="182.0" r="2.55" fill="#93ae58"/>
<circle cx="571.5" cy="180.8" r="2.55" fill="#89ae5e"/>
<circle cx="574.7" cy="206.0" r="2.55" fill="#71ae6c"/>
<circle cx="574.7" cy="202.0" r="2.55" fill="#8bae5d"/>
<circle cx="574.7" cy="198.0" r="2.55" fill="#d5ac34"/>
<circle cx="574.7" cy="194.0" r="2.55" fill="#aeac49"/>
<circle cx="574.7" cy="190.0" r="2.55" fill="#c2ac3e"/>
<circle cx="574.7" cy="186.0" r="2.55" fill="#83ae61"/>
<circle cx="574.7" cy="182.0" r="2.55" fill="#aaad4c"/>
<circle cx="574.7" cy="179.0" r="2.55" fill="#baac43"/>
<circle cx="577.8" cy="206.0" r="2.55" fill="#84ae60"/>
<circle cx="577.8" cy="202.0" r="2.55" fill="#8fae5a"/>
<circle cx="577.8" cy="198.0" r="2.55" fill="#a9ad4c"/>
<circle cx="577.8" cy="194.0" r="2.55" fill="#d1ac36"/>
<circle cx="577.8" cy="190.0" r="2.55" fill="#cfac38"/>
<circle cx="577.8" cy="186.0" r="2.55" fill="#8cae5c"/>
<circle cx="577.8" cy="182.0" r="2.55" fill="#b3ac47"/>
<circle cx="577.8" cy="178.0" r="2.55" fill="#c8ac3b"/>
<circle cx="577.8" cy="177.2" r="2.55" fill="#a1ad50"/>
<circle cx="580.9" cy="206.0" r="2.55" fill="#7cae65"/>
<circle cx="580.9" cy="202.0" r="2.55" fill="#bfac40"/>
<circle cx="580.9" cy="198.0" r="2.55" fill="#d8ad33"/>
<circle cx="580.9" cy="194.0" r="2.55" fill="#b5ac46"/>
<circle cx="580.9" cy="190.0" r="2.55" fill="#c1ac3f"/>
<circle cx="580.9" cy="186.0" r="2.55" fill="#9bad53"/>
<circle cx="580.9" cy="182.0" r="2.55" fill="#c6ac3d"/>
<circle cx="580.9" cy="178.0" r="2.55" fill="#98ad55"/>
<circle cx="580.9" cy="174.0" r="2.55" fill="#aeac49"/>
<circle cx="580.9" cy="171.8" r="2.55" fill="#9dad53"/>
<circle cx="584.1" cy="206.0" r="2.55" fill="#6bae6f"/>
<circle cx="584.1" cy="202.0" r="2.55" fill="#80ae63"/>
<circle cx="584.1" cy="198.0" r="2.55" fill="#8cae5c"/>
<circle cx="584.1" cy="194.0" r="2.55" fill="#b4ac46"/>
<circle cx="584.1" cy="190.0" r="2.55" fill="#8fae5a"/>
<circle cx="584.1" cy="186.0" r="2.55" fill="#5aae79"/>
<circle cx="584.1" cy="182.0" r="2.55" fill="#93ae58"/>
<circle cx="584.1" cy="178.0" r="2.55" fill="#d6ad34"/>
<circle cx="584.1" cy="174.0" r="2.55" fill="#b9ac43"/>
<circle cx="584.1" cy="170.0" r="2.55" fill="#a0ad51"/>
<circle cx="584.1" cy="166.4" r="2.55" fill="#d2ac36"/>
<circle cx="587.2" cy="206.0" r="2.55" fill="#87ae5f"/>
<circle cx="587.2" cy="202.0" r="2.55" fill="#98ad56"/>
<circle cx="587.2" cy="198.0" r="2.55" fill="#7fae64"/>
<circle cx="587.2" cy="194.0" r="2.55" fill="#bdac41"/>
<circle cx="587.2" cy="190.0" r="2.55" fill="#d0ac37"/>
<circle cx="587.2" cy="186.0" r="2.55" fill="#baac43"/>
<circle cx="587.2" cy="182.0" r="2.55" fill="#cbac3a"/>
<circle cx="587.2" cy="178.0" r="2.55" fill="#a3ad4f"/>
<circle cx="587.2" cy="174.0" r="2.55" fill="#bbac42"/>
<circle cx="587.2" cy="170.0" r="2.55" fill="#91ae5a"/>
<circle cx="587.2" cy="166.0" r="2.55" fill="#a3ad50"/>
<circle cx="587.2" cy="163.3" r="2.55" fill="#9fad51"/>
<circle cx="590.4" cy="206.0" r="2.55" fill="#6eae6d"/>
<circle cx="590.4" cy="202.0" r="2.55" fill="#a2ad50"/>
<circle cx="590.4" cy="198.0" r="2.55" fill="#cdac39"/>
<circle cx="590.4" cy="194.0" r="2.55" fill="#84ae60"/>
<circle cx="590.4" cy="190.0" r="2.55" fill="#89ae5e"/>
<circle cx="590.4" cy="186.0" r="2.55" fill="#8fae5a"/>
<circle cx="590.4" cy="182.0" r="2.55" fill="#d8ad33"/>
<circle cx="590.4" cy="178.0" r="2.55" fill="#b1ac48"/>
<circle cx="590.4" cy="174.0" r="2.55" fill="#5cae78"/>
<circle cx="590.4" cy="170.0" r="2.55" fill="#d3ac36"/>
<circle cx="590.4" cy="166.0" r="2.55" fill="#ceac38"/>
<circle cx="590.4" cy="163.3" r="2.55" fill="#9dad53"/>
<circle cx="593.5" cy="206.0" r="2.55" fill="#7fae63"/>
<circle cx="593.5" cy="202.0" r="2.55" fill="#96ae57"/>
<circle cx="593.5" cy="198.0" r="2.55" fill="#80ae63"/>
<circle cx="593.5" cy="194.0" r="2.55" fill="#d2ac36"/>
<circle cx="593.5" cy="190.0" r="2.55" fill="#cfac38"/>
<circle cx="593.5" cy="186.0" r="2.55" fill="#8aae5d"/>
<circle cx="593.5" cy="182.0" r="2.55" fill="#d3ac36"/>
<circle cx="593.5" cy="178.0" r="2.55" fill="#3ea991"/>
<circle cx="593.5" cy="174.0" r="2.55" fill="#37a898"/>
<circle cx="593.5" cy="170.0" r="2.55" fill="#84ae61"/>
<circle cx="593.5" cy="166.0" r="2.55" fill="#c4ac3d"/>
<circle cx="593.5" cy="163.7" r="2.55" fill="#95ae57"/>
<circle cx="596.6" cy="206.0" r="2.55" fill="#65ae73"/>
<circle cx="596.6" cy="202.0" r="2.55" fill="#86ae5f"/>
<circle cx="596.6" cy="198.0" r="2.55" fill="#97ad56"/>
<circle cx="596.6" cy="194.0" r="2.55" fill="#d2ac36"/>
<circle cx="596.6" cy="190.0" r="2.55" fill="#baac43"/>
<circle cx="596.6" cy="186.0" r="2.55" fill="#7cae66"/>
<circle cx="596.6" cy="182.0" r="2.55" fill="#c1ac3f"/>
<circle cx="596.6" cy="178.0" r="2.55" fill="#b3ac47"/>
<circle cx="596.6" cy="174.0" r="2.55" fill="#a8ad4d"/>
<circle cx="596.6" cy="170.0" r="2.55" fill="#b2ac47"/>
<circle cx="596.6" cy="168.2" r="2.55" fill="#beac41"/>
<circle cx="599.8" cy="206.0" r="2.55" fill="#82ae62"/>
<circle cx="599.8" cy="202.0" r="2.55" fill="#afac49"/>
<circle cx="599.8" cy="198.0" r="2.55" fill="#bcac41"/>
<circle cx="599.8" cy="194.0" r="2.55" fill="#aaac4b"/>
<circle cx="599.8" cy="190.0" r="2.55" fill="#bcac42"/>
<circle cx="599.8" cy="186.0" r="2.55" fill="#a0ad51"/>
<circle cx="599.8" cy="182.0" r="2.55" fill="#a4ad4f"/>
<circle cx="599.8" cy="178.0" r="2.55" fill="#b0ac48"/>
<circle cx="599.8" cy="174.0" r="2.55" fill="#c4ac3d"/>
<circle cx="599.8" cy="172.7" r="2.55" fill="#92ae58"/>
<circle cx="602.9" cy="206.0" r="2.55" fill="#88ae5e"/>
<circle cx="602.9" cy="202.0" r="2.55" fill="#adac4a"/>
<circle cx="602.9" cy="198.0" r="2.55" fill="#d1ac36"/>
<circle cx="602.9" cy="194.0" r="2.55" fill="#c2ac3f"/>
<circle cx="602.9" cy="190.0" r="2.55" fill="#d7ad33"/>
<circle cx="602.9" cy="186.0" r="2.55" fill="#c1ac3f"/>
<circle cx="602.9" cy="182.0" r="2.55" fill="#a5ad4e"/>
<circle cx="602.9" cy="178.0" r="2.55" fill="#a2ad50"/>
<circle cx="602.9" cy="177.2" r="2.55" fill="#baac43"/>
<circle cx="606.1" cy="206.0" r="2.55" fill="#80ae63"/>
<circle cx="606.1" cy="202.0" r="2.55" fill="#d0ac37"/>
<circle cx="606.1" cy="198.0" r="2.55" fill="#7fae64"/>
<circle cx="606.1" cy="194.0" r="2.55" fill="#33a79b"/>
<circle cx="606.1" cy="190.0" r="2.55" fill="#30a79d"/>
<circle cx="606.1" cy="186.0" r="2.55" fill="#3ba894"/>
<circle cx="606.1" cy="182.0" r="2.55" fill="#7dae65"/>
<circle cx="606.1" cy="178.6" r="2.55" fill="#c1ac3f"/>
<circle cx="609.2" cy="206.0" r="2.55" fill="#7aae67"/>
<circle cx="609.2" cy="202.0" r="2.55" fill="#d7ad33"/>
<circle cx="609.2" cy="198.0" r="2.55" fill="#d7ad33"/>
<circle cx="609.2" cy="194.0" r="2.55" fill="#c7ac3c"/>
<circle cx="609.2" cy="190.0" r="2.55" fill="#d6ad33"/>
<circle cx="609.2" cy="186.0" r="2.55" fill="#3aa895"/>
<circle cx="609.2" cy="182.0" r="2.55" fill="#d5ac34"/>
<circle cx="609.2" cy="178.8" r="2.55" fill="#abac4b"/>
<circle cx="612.3" cy="206.0" r="2.55" fill="#66ae72"/>
<circle cx="612.3" cy="202.0" r="2.55" fill="#c8ac3b"/>
<circle cx="612.3" cy="198.0" r="2.55" fill="#a5ad4e"/>
<circle cx="612.3" cy="194.0" r="2.55" fill="#b4ac46"/>
<circle cx="612.3" cy="190.0" r="2.55" fill="#97ad56"/>
<circle cx="612.3" cy="186.0" r="2.55" fill="#8eae5b"/>
<circle cx="612.3" cy="182.0" r="2.55" fill="#4fac83"/>
<circle cx="612.3" cy="179.0" r="2.55" fill="#d7ad33"/>
<circle cx="615.5" cy="206.0" r="2.55" fill="#8bae5c"/>
<circle cx="615.5" cy="202.0" r="2.55" fill="#c9ac3b"/>
<circle cx="615.5" cy="198.0" r="2.55" fill="#d6ad34"/>
<circle cx="615.5" cy="194.0" r="2.55" fill="#9dad53"/>
<circle cx="615.5" cy="190.0" r="2.55" fill="#95ae57"/>
<circle cx="615.5" cy="186.0" r="2.55" fill="#d5ac34"/>
<circle cx="615.5" cy="182.0" r="2.55" fill="#b9ac43"/>
<circle cx="615.5" cy="180.3" r="2.55" fill="#c0ac40"/>
<circle cx="618.6" cy="206.0" r="2.55" fill="#5dae78"/>
<circle cx="618.6" cy="202.0" r="2.55" fill="#acac4a"/>
<circle cx="618.6" cy="198.0" r="2.55" fill="#c5ac3d"/>
<circle cx="618.6" cy="194.0" r="2.55" fill="#ceac38"/>
<circle cx="618.6" cy="190.0" r="2.55" fill="#c8ac3b"/>
<circle cx="618.6" cy="186.0" r="2.55" fill="#9aad54"/>
<circle cx="618.6" cy="182.0" r="2.55" fill="#9fad51"/>
<circle cx="618.6" cy="181.7" r="2.55" fill="#d2ac36"/>
<circle cx="621.8" cy="206.0" r="2.55" fill="#8bae5c"/>
<circle cx="621.8" cy="202.0" r="2.55" fill="#acac4a"/>
<circle cx="621.8" cy="198.0" r="2.55" fill="#88ae5f"/>
<circle cx="621.8" cy="194.0" r="2.55" fill="#bbac42"/>
<circle cx="621.8" cy="190.0" r="2.55" fill="#b3ac47"/>
<circle cx="621.8" cy="186.0" r="2.55" fill="#9dad53"/>
<circle cx="621.8" cy="182.6" r="2.55" fill="#8cae5c"/>
<circle cx="624.9" cy="206.0" r="2.55" fill="#6eae6d"/>
<circle cx="624.9" cy="202.0" r="2.55" fill="#baac43"/>
<circle cx="624.9" cy="198.0" r="2.55" fill="#7fae64"/>
<circle cx="624.9" cy="194.0" r="2.55" fill="#b3ac46"/>
<circle cx="624.9" cy="190.0" r="2.55" fill="#d7ad33"/>
<circle cx="624.9" cy="186.0" r="2.55" fill="#c7ac3c"/>
<circle cx="624.9" cy="183.5" r="2.55" fill="#8fae5a"/>
<circle cx="628.0" cy="206.0" r="2.55" fill="#70ae6c"/>
<circle cx="628.0" cy="202.0" r="2.55" fill="#7cae66"/>
<circle cx="628.0" cy="198.0" r="2.55" fill="#c6ac3c"/>
<circle cx="628.0" cy="194.0" r="2.55" fill="#bcac42"/>
<circle cx="628.0" cy="190.0" r="2.55" fill="#85ae60"/>
<circle cx="628.0" cy="186.2" r="2.55" fill="#b4ac46"/>
</g>
<circle cx="511.6" cy="194.2" r="2.55" fill="#2993c0"/>
<circle cx="546.4" cy="141.5" r="2.55" fill="#2da6a0"/>
<circle cx="546.4" cy="149.4" r="2.55" fill="#97ad56"/>
<circle cx="537" cy="150.9" r="2.55" fill="#413dbd"/>
<circle cx="540.1" cy="160.3" r="2.55" fill="#2a88cd"/>
<circle cx="587.5" cy="141.9" r="2.55" fill="#3c58da"/>
<circle cx="575" cy="154.7" r="2.55" fill="#e6ce22"/>
<circle cx="581.3" cy="163.4" r="2.55" fill="#e6ce22"/>
<circle cx="565.6" cy="165.5" r="2.55" fill="#4238b6"/>
<circle cx="540.1" cy="170.8" r="2.55" fill="#3e52d8"/>
<circle cx="556.2" cy="170.8" r="2.55" fill="#3e52d8"/>
<circle cx="546.4" cy="168.7" r="2.55" fill="#e2b32b"/>
<circle cx="549.3" cy="168.7" r="2.55" fill="#e2b32b"/>
<circle cx="597" cy="176.4" r="2.55" fill="#3861dc"/>
<circle cx="628.3" cy="176.4" r="2.55" fill="#e2b32b"/>
<circle cx="568.7" cy="174.3" r="2.55" fill="#97ad56"/>
<circle cx="581.3" cy="176.4" r="2.55" fill="#a3ad4f"/>
<circle cx="603.5" cy="176.9" r="2.55" fill="#45aa8c"/>
<circle cx="616.2" cy="177.5" r="2.55" fill="#c9ac3b"/>
<path d="M470.8 134.0V206.0" stroke="#555" stroke-width="0.7" fill="none"/>
<path d="M470.8 206.0h1.8" stroke="#555" stroke-width="0.7"/>
<text x="468.6" y="209.0" font-size="8.3" text-anchor="end">0</text>
<path d="M470.8 170.0h1.8" stroke="#555" stroke-width="0.7"/>
<text x="468.6" y="173.0" font-size="8.3" text-anchor="end">20</text>
<path d="M470.8 134.0h1.8" stroke="#555" stroke-width="0.7"/>
<text x="468.6" y="137.0" font-size="8.3" text-anchor="end">40</text>
<text x="471.0" y="216.0" font-size="8.3" text-anchor="middle">0</text>
<text x="502.4" y="216.0" font-size="8.3" text-anchor="middle">20</text>
<text x="533.8" y="216.0" font-size="8.3" text-anchor="middle">40</text>
<text x="565.2" y="216.0" font-size="8.3" text-anchor="middle">60</text>
<text x="596.6" y="216.0" font-size="8.3" text-anchor="middle">80</text>
<text x="628.0" y="216.0" font-size="8.3" text-anchor="middle">100</text>
<text x="508.2" y="227.7" font-size="9.5" font-style="italic">gc</text>
<text x="517.6" y="230.2" font-size="9.4" textLength="11" lengthAdjust="spacing">off</text>
<text x="531.3" y="227.7" font-size="9.9" textLength="59.6" lengthAdjust="spacing">(% gait cycle)</text>
<g transform="translate(453.6,208.7) rotate(-90)">
<text x="0" y="0" font-size="9.5" font-style="italic">t</text>
<text x="3.8" y="2.3" font-size="9.4" textLength="11" lengthAdjust="spacing">off</text>
<text x="16.6" y="0" font-size="9.9" textLength="59.2" lengthAdjust="spacing">(% gait cycle)</text>
</g>
<rect x="516.80" y="154.9" width="2.8" height="51.9" fill="#262626" fill-opacity="0.72"/>
<text class="ss" font-size="9.8" text-anchor="end" transform="translate(522.4,137.7) rotate(-90)">HO</text>
<rect x="548.30" y="158.2" width="2.8" height="48.6" fill="#262626" fill-opacity="0.72"/>
<text class="ss" font-size="9.8" text-anchor="end" transform="translate(554.2,137.7) rotate(-90)">TDc</text>
<rect x="564.10" y="154.2" width="2.8" height="52.6" fill="#262626" fill-opacity="0.72"/>
<text class="ss" font-size="9.8" text-anchor="end" transform="translate(569.8,137.7) rotate(-90)">TO</text>
<defs><linearGradient id="gp1" x1="0" y1="1" x2="0" y2="0">
<stop offset="0.0%" stop-color="#3a288c"/>
<stop offset="10.0%" stop-color="#4238b6"/>
<stop offset="20.0%" stop-color="#3e52d8"/>
<stop offset="30.0%" stop-color="#3270e1"/>
<stop offset="40.0%" stop-color="#288ec8"/>
<stop offset="50.0%" stop-color="#2da6a0"/>
<stop offset="60.0%" stop-color="#5cae78"/>
<stop offset="68.0%" stop-color="#8cae5c"/>
<stop offset="75.0%" stop-color="#b4ac46"/>
<stop offset="82.0%" stop-color="#d2ac36"/>
<stop offset="88.0%" stop-color="#e0ae2e"/>
<stop offset="94.0%" stop-color="#e6bc26"/>
<stop offset="100.0%" stop-color="#e6ce22"/>
</linearGradient></defs>
<rect x="642.5" y="134.2" width="12.6" height="72.9" fill="url(#gp1)" stroke="#555" stroke-width="0.5"/>
<path d="M653.6 155.9h1.5" stroke="#333" stroke-width="0.5"/>
<text x="658.4" y="158.5" font-size="7.2" class="ss">0</text>
<path d="M653.6 179.5h1.5" stroke="#333" stroke-width="0.5"/>
<text x="658.4" y="182.1" font-size="7.2" class="ss">-10</text>
<path d="M653.6 203.1h1.5" stroke="#333" stroke-width="0.5"/>
<text x="658.4" y="205.7" font-size="7.2" class="ss">-20</text>
<text x="492.7" y="129.20000000000002" font-size="10.3" textLength="40" lengthAdjust="spacing">Reference</text>
<text x="536.8" y="129.20000000000002" font-size="10.3" textLength="8.2" lengthAdjust="spacing">&#916;</text>
<text x="547.4" y="129.20000000000002" font-size="10.3" font-style="italic">p</text>
<text x="552.8" y="131.0" font-size="7" font-style="italic">x</text>
<text x="560.1" y="129.20000000000002" font-size="10.3" textLength="7.4" lengthAdjust="spacing">=</text>
<text x="571.4" y="129.20000000000002" font-size="9.8" textLength="22" lengthAdjust="spacing">15.22</text>
<text x="596.1" y="129.20000000000002" font-size="10.3" textLength="11" lengthAdjust="spacing">Ns</text>
<g transform="translate(680.8,187.60000000000002) rotate(-90)">
<text x="0" y="0" font-size="10">&#916;</text>
<text x="10.5" y="0" font-size="9.8" font-style="italic">p</text>
<text x="15.2" y="1.8" font-size="6.5" font-style="italic">x</text>
<text x="21.4" y="0" font-size="9.5" textLength="14.4" lengthAdjust="spacing">(%)</text>
</g>
<circle cx="553.2" cy="177.5" r="4.1" fill="#fff" stroke="#000" stroke-width="1.2"/>
<path d="M551.3000000000001 175.6L555.1 179.4M551.3000000000001 179.4L555.1 175.6" stroke="#000" stroke-width="1.2" fill="none"/>
<text x="157.4" y="257.8" font-size="14.3" class="ss" textLength="17.3" lengthAdjust="spacing" font-weight="bold">(a)</text>
<text x="180.4" y="257.8" font-size="14.5" textLength="81.8" lengthAdjust="spacing">Stability map.</text>
<text x="498.9" y="257.8" font-size="14.3" class="ss" textLength="18.2" lengthAdjust="spacing" font-weight="bold">(b)</text>
<text x="522.0" y="257.8" font-size="14.5" textLength="115.4" lengthAdjust="spacing">Gait characteristics.</text>
</g></svg></body></html>
